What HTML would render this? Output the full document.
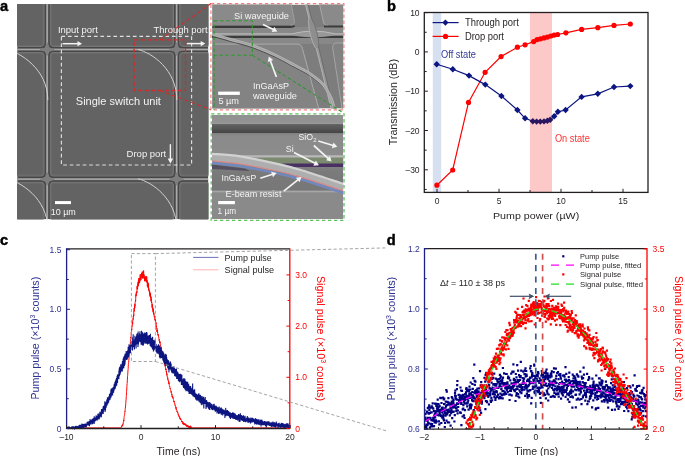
<!DOCTYPE html>
<html><head><meta charset="utf-8"><style>
html,body{margin:0;padding:0;background:#fff;}
svg{display:block;font-family:"Liberation Sans", sans-serif;will-change:transform;}
</style></head><body>
<svg width="685" height="456" viewBox="0 0 685 456">
<rect x="432.8" y="12.5" width="8.4" height="179.9" fill="#d7e0f1"/>
<rect x="529.9" y="12.5" width="22.1" height="179.9" fill="#fdc8c8"/>
<line x1="424.30" y1="12.60" x2="427.90" y2="12.60" stroke="#231f20" stroke-width="1" />
<text x="419.60" y="15.70" font-size="8.5" fill="#231f20" text-anchor="end" >10</text>
<line x1="424.30" y1="51.90" x2="427.90" y2="51.90" stroke="#231f20" stroke-width="1" />
<text x="419.60" y="55.00" font-size="8.5" fill="#231f20" text-anchor="end" >0</text>
<line x1="424.30" y1="91.20" x2="427.90" y2="91.20" stroke="#231f20" stroke-width="1" />
<text x="419.60" y="94.30" font-size="8.5" fill="#231f20" text-anchor="end" >–10</text>
<line x1="424.30" y1="130.50" x2="427.90" y2="130.50" stroke="#231f20" stroke-width="1" />
<text x="419.60" y="133.60" font-size="8.5" fill="#231f20" text-anchor="end" >–20</text>
<line x1="424.30" y1="169.80" x2="427.90" y2="169.80" stroke="#231f20" stroke-width="1" />
<text x="419.60" y="172.90" font-size="8.5" fill="#231f20" text-anchor="end" >–30</text>
<line x1="424.30" y1="32.25" x2="426.70" y2="32.25" stroke="#231f20" stroke-width="1" />
<line x1="424.30" y1="71.55" x2="426.70" y2="71.55" stroke="#231f20" stroke-width="1" />
<line x1="424.30" y1="110.85" x2="426.70" y2="110.85" stroke="#231f20" stroke-width="1" />
<line x1="424.30" y1="150.15" x2="426.70" y2="150.15" stroke="#231f20" stroke-width="1" />
<line x1="424.30" y1="189.45" x2="426.70" y2="189.45" stroke="#231f20" stroke-width="1" />
<line x1="437.00" y1="192.40" x2="437.00" y2="188.80" stroke="#231f20" stroke-width="1" />
<text x="437.00" y="204.00" font-size="8.5" fill="#231f20" text-anchor="middle" >0</text>
<line x1="499.00" y1="192.40" x2="499.00" y2="188.80" stroke="#231f20" stroke-width="1" />
<text x="499.00" y="204.00" font-size="8.5" fill="#231f20" text-anchor="middle" >5</text>
<line x1="561.00" y1="192.40" x2="561.00" y2="188.80" stroke="#231f20" stroke-width="1" />
<text x="561.00" y="204.00" font-size="8.5" fill="#231f20" text-anchor="middle" >10</text>
<line x1="623.00" y1="192.40" x2="623.00" y2="188.80" stroke="#231f20" stroke-width="1" />
<text x="623.00" y="204.00" font-size="8.5" fill="#231f20" text-anchor="middle" >15</text>
<line x1="468.00" y1="192.40" x2="468.00" y2="190.00" stroke="#231f20" stroke-width="1" />
<line x1="530.00" y1="192.40" x2="530.00" y2="190.00" stroke="#231f20" stroke-width="1" />
<line x1="592.00" y1="192.40" x2="592.00" y2="190.00" stroke="#231f20" stroke-width="1" />
<rect x="424.3" y="12.5" width="223.7" height="179.9" fill="none" stroke="#231f20" stroke-width="1.3"/>
<polyline points="436.90,185.20 452.70,170.00 468.50,102.40 485.10,72.30 501.10,56.60 517.40,47.20 525.10,44.80 533.70,41.60 537.10,39.60 540.50,38.80 544.00,37.90 547.40,37.10 550.80,36.00 554.20,35.10 557.60,34.50 565.90,32.80 581.60,29.40 597.80,27.70 614.00,25.40 630.30,24.00" fill="none" stroke="#ff0000" stroke-width="1.2" />
<circle cx="436.9" cy="185.2" r="2.6" fill="#ff0000"/>
<circle cx="452.7" cy="170.0" r="2.6" fill="#ff0000"/>
<circle cx="468.5" cy="102.4" r="2.6" fill="#ff0000"/>
<circle cx="485.1" cy="72.3" r="2.6" fill="#ff0000"/>
<circle cx="501.1" cy="56.6" r="2.6" fill="#ff0000"/>
<circle cx="517.4" cy="47.2" r="2.6" fill="#ff0000"/>
<circle cx="525.1" cy="44.8" r="2.6" fill="#ff0000"/>
<circle cx="533.7" cy="41.6" r="2.6" fill="#ff0000"/>
<circle cx="537.1" cy="39.6" r="2.6" fill="#ff0000"/>
<circle cx="540.5" cy="38.8" r="2.6" fill="#ff0000"/>
<circle cx="544" cy="37.9" r="2.6" fill="#ff0000"/>
<circle cx="547.4" cy="37.1" r="2.6" fill="#ff0000"/>
<circle cx="550.8" cy="36.0" r="2.6" fill="#ff0000"/>
<circle cx="554.2" cy="35.1" r="2.6" fill="#ff0000"/>
<circle cx="557.6" cy="34.5" r="2.6" fill="#ff0000"/>
<circle cx="565.9" cy="32.8" r="2.6" fill="#ff0000"/>
<circle cx="581.6" cy="29.4" r="2.6" fill="#ff0000"/>
<circle cx="597.8" cy="27.7" r="2.6" fill="#ff0000"/>
<circle cx="614" cy="25.4" r="2.6" fill="#ff0000"/>
<circle cx="630.3" cy="24.0" r="2.6" fill="#ff0000"/>
<polyline points="436.70,64.20 452.80,69.30 469.00,75.60 485.30,84.60 501.40,96.00 517.40,110.00 525.10,118.30 532.80,121.20 536.60,121.60 540.30,121.60 544.00,121.40 547.40,120.80 550.20,119.70 554.20,116.30 557.90,111.80 565.60,110.00 581.60,96.90 597.80,93.80 614.00,87.00 630.30,86.10" fill="none" stroke="#0c1580" stroke-width="1.2" />
<path d="M436.7 61.0L439.9 64.2L436.7 67.4L433.5 64.2Z" fill="#0c1580"/>
<path d="M452.8 66.1L456.0 69.3L452.8 72.5L449.6 69.3Z" fill="#0c1580"/>
<path d="M469 72.39999999999999L472.2 75.6L469 78.8L465.8 75.6Z" fill="#0c1580"/>
<path d="M485.3 81.39999999999999L488.5 84.6L485.3 87.8L482.1 84.6Z" fill="#0c1580"/>
<path d="M501.4 92.8L504.59999999999997 96L501.4 99.2L498.2 96Z" fill="#0c1580"/>
<path d="M517.4 106.8L520.6 110L517.4 113.2L514.1999999999999 110Z" fill="#0c1580"/>
<path d="M525.1 115.1L528.3000000000001 118.3L525.1 121.5L521.9 118.3Z" fill="#0c1580"/>
<path d="M532.8 118.0L536.0 121.2L532.8 124.4L529.5999999999999 121.2Z" fill="#2a1660"/>
<path d="M536.6 118.39999999999999L539.8000000000001 121.6L536.6 124.8L533.4 121.6Z" fill="#2a1660"/>
<path d="M540.3 118.39999999999999L543.5 121.6L540.3 124.8L537.0999999999999 121.6Z" fill="#2a1660"/>
<path d="M544 118.2L547.2 121.4L544 124.60000000000001L540.8 121.4Z" fill="#2a1660"/>
<path d="M547.4 117.6L550.6 120.8L547.4 124.0L544.1999999999999 120.8Z" fill="#2a1660"/>
<path d="M550.2 116.5L553.4000000000001 119.7L550.2 122.9L547.0 119.7Z" fill="#2a1660"/>
<path d="M554.2 113.1L557.4000000000001 116.3L554.2 119.5L551.0 116.3Z" fill="#0c1580"/>
<path d="M557.9 108.6L561.1 111.8L557.9 115.0L554.6999999999999 111.8Z" fill="#0c1580"/>
<path d="M565.6 106.8L568.8000000000001 110L565.6 113.2L562.4 110Z" fill="#0c1580"/>
<path d="M581.6 93.7L584.8000000000001 96.9L581.6 100.10000000000001L578.4 96.9Z" fill="#0c1580"/>
<path d="M597.8 90.6L601.0 93.8L597.8 97.0L594.5999999999999 93.8Z" fill="#0c1580"/>
<path d="M614 83.8L617.2 87L614 90.2L610.8 87Z" fill="#0c1580"/>
<path d="M630.3 82.89999999999999L633.5 86.1L630.3 89.3L627.0999999999999 86.1Z" fill="#0c1580"/>
<line x1="432.60" y1="22.60" x2="458.60" y2="22.60" stroke="#0c1580" stroke-width="1.2" />
<path d="M445.4 19.5L448.5 22.6L445.4 25.7L442.3 22.6Z" fill="#0c1580"/>
<line x1="432.60" y1="36.40" x2="458.60" y2="36.40" stroke="#ff0000" stroke-width="1.2" />
<circle cx="445.5" cy="36.4" r="2.6" fill="#ff0000"/>
<text x="464.90" y="25.50" font-size="10.0" fill="#231f20" textLength="53.9" lengthAdjust="spacingAndGlyphs" >Through port</text>
<text x="464.90" y="39.50" font-size="10.0" fill="#231f20" textLength="39.0" lengthAdjust="spacingAndGlyphs" >Drop port</text>
<text x="441.00" y="57.70" font-size="10.0" fill="#33399a" textLength="35.0" lengthAdjust="spacingAndGlyphs" >Off state</text>
<text x="554.90" y="141.90" font-size="10.0" fill="#ff3030" textLength="34.9" lengthAdjust="spacingAndGlyphs" >On state</text>
<text x="493.00" y="219.20" font-size="9.8" fill="#231f20" textLength="86.2" lengthAdjust="spacingAndGlyphs" >Pump power (µW)</text>
<text x="396.60" y="145.30" font-size="10.8" fill="#231f20" textLength="86.3" lengthAdjust="spacingAndGlyphs" transform="rotate(-90 396.60 145.30)" >Transmission (dB)</text>
<text x="387.00" y="10.50" font-size="14.6" fill="#000" font-weight="bold" stroke="#000" stroke-width="0.45">b</text>
<polyline points="66.50,427.60 66.59,427.60 66.69,427.60 66.78,427.60 66.87,427.60 66.97,427.60 67.06,427.60 67.15,427.60 67.25,427.60 67.34,427.60 67.43,427.60 67.52,427.60 67.62,427.60 67.71,427.60 67.80,427.60 67.90,427.60 67.99,427.60 68.08,427.60 68.18,427.60 68.27,427.60 68.36,427.60 68.46,427.60 68.55,427.60 68.64,427.60 68.74,427.60 68.83,427.60 68.92,427.60 69.02,427.60 69.11,427.60 69.20,427.60 69.29,427.60 69.39,427.60 69.48,427.60 69.57,427.60 69.67,427.60 69.76,427.60 69.85,427.60 69.95,427.60 70.04,427.60 70.13,427.60 70.23,427.60 70.32,427.60 70.41,427.60 70.51,427.60 70.60,427.60 70.69,427.60 70.79,427.60 70.88,427.60 70.97,427.60 71.07,427.60 71.16,427.60 71.25,427.60 71.34,427.60 71.44,427.60 71.53,427.60 71.62,427.60 71.72,427.60 71.81,427.60 71.90,427.60 72.00,427.60 72.09,427.60 72.18,427.60 72.28,427.60 72.37,427.60 72.46,427.60 72.56,427.60 72.65,427.60 72.74,427.60 72.84,427.60 72.93,427.60 73.02,427.60 73.11,427.60 73.21,427.60 73.30,427.60 73.39,427.60 73.49,427.60 73.58,427.60 73.67,427.60 73.77,427.60 73.86,427.60 73.95,427.60 74.05,427.60 74.14,427.60 74.23,427.60 74.33,427.60 74.42,427.60 74.51,427.60 74.61,427.60 74.70,427.60 74.79,427.60 74.88,427.60 74.98,427.60 75.07,427.60 75.16,427.60 75.26,427.60 75.35,427.60 75.44,427.60 75.54,427.60 75.63,427.60 75.72,427.60 75.82,427.60 75.91,427.60 76.00,427.60 76.10,427.60 76.19,427.60 76.28,427.60 76.38,427.60 76.47,427.60 76.56,427.60 76.65,427.60 76.75,427.60 76.84,427.60 76.93,427.60 77.03,427.60 77.12,427.60 77.21,427.60 77.31,427.60 77.40,427.60 77.49,427.60 77.59,427.60 77.68,427.60 77.77,427.60 77.87,427.60 77.96,427.60 78.05,427.60 78.15,427.60 78.24,427.60 78.33,427.60 78.42,427.60 78.52,427.60 78.61,427.60 78.70,427.60 78.80,427.60 78.89,427.60 78.98,427.60 79.08,427.60 79.17,427.60 79.26,427.60 79.36,427.60 79.45,427.60 79.54,427.60 79.64,427.60 79.73,427.60 79.82,427.60 79.92,427.60 80.01,427.60 80.10,427.60 80.20,427.60 80.29,427.60 80.38,427.60 80.47,427.60 80.57,427.60 80.66,427.60 80.75,427.60 80.85,427.60 80.94,427.60 81.03,427.60 81.13,427.60 81.22,427.60 81.31,427.60 81.41,427.60 81.50,427.60 81.59,427.60 81.69,427.60 81.78,427.60 81.87,427.60 81.97,427.60 82.06,427.60 82.15,427.60 82.24,427.60 82.34,427.60 82.43,427.60 82.52,427.60 82.62,427.60 82.71,427.60 82.80,427.60 82.90,427.60 82.99,427.60 83.08,427.60 83.18,427.60 83.27,427.60 83.36,427.60 83.46,427.60 83.55,427.60 83.64,427.60 83.74,427.60 83.83,427.60 83.92,427.60 84.01,427.60 84.11,427.60 84.20,427.60 84.29,427.60 84.39,427.60 84.48,427.60 84.57,427.60 84.67,427.60 84.76,427.60 84.85,427.60 84.95,427.60 85.04,427.60 85.13,427.60 85.23,427.60 85.32,427.60 85.41,427.60 85.51,427.60 85.60,427.60 85.69,427.60 85.78,427.60 85.88,427.60 85.97,427.60 86.06,427.60 86.16,427.60 86.25,427.60 86.34,427.60 86.44,427.60 86.53,427.60 86.62,427.60 86.72,427.60 86.81,427.60 86.90,427.60 87.00,427.60 87.09,427.60 87.18,427.60 87.28,427.60 87.37,427.60 87.46,427.60 87.56,427.60 87.65,427.60 87.74,427.60 87.83,427.60 87.93,427.60 88.02,427.60 88.11,427.60 88.21,427.60 88.30,427.60 88.39,427.60 88.49,427.60 88.58,427.60 88.67,427.60 88.77,427.60 88.86,427.60 88.95,427.60 89.05,427.60 89.14,427.60 89.23,427.60 89.33,427.60 89.42,427.60 89.51,427.60 89.60,427.60 89.70,427.60 89.79,427.60 89.88,427.60 89.98,427.60 90.07,427.60 90.16,427.60 90.26,427.60 90.35,427.60 90.44,427.60 90.54,427.60 90.63,427.60 90.72,427.60 90.82,427.60 90.91,427.60 91.00,427.60 91.10,427.60 91.19,427.60 91.28,427.60 91.37,427.60 91.47,427.60 91.56,427.60 91.65,427.60 91.75,427.60 91.84,427.60 91.93,427.60 92.03,427.60 92.12,427.60 92.21,427.60 92.31,427.60 92.40,427.60 92.49,427.60 92.59,427.60 92.68,427.60 92.77,427.60 92.87,427.60 92.96,427.60 93.05,427.60 93.14,427.60 93.24,427.60 93.33,427.60 93.42,427.60 93.52,427.60 93.61,427.60 93.70,427.60 93.80,427.60 93.89,427.60 93.98,427.60 94.08,427.60 94.17,427.60 94.26,427.60 94.36,427.60 94.45,427.60 94.54,427.60 94.64,427.60 94.73,427.60 94.82,427.60 94.91,427.60 95.01,427.60 95.10,427.60 95.19,427.60 95.29,427.60 95.38,427.60 95.47,427.60 95.57,427.60 95.66,427.60 95.75,427.60 95.85,427.60 95.94,427.60 96.03,427.60 96.13,427.60 96.22,427.60 96.31,427.60 96.41,427.60 96.50,427.60 96.59,427.60 96.69,427.60 96.78,427.60 96.87,427.60 96.96,427.60 97.06,427.60 97.15,427.60 97.24,427.60 97.34,427.60 97.43,427.60 97.52,427.60 97.62,427.60 97.71,427.60 97.80,427.60 97.90,427.60 97.99,427.60 98.08,427.60 98.18,427.60 98.27,427.60 98.36,427.60 98.46,427.60 98.55,427.60 98.64,427.60 98.73,427.60 98.83,427.60 98.92,427.60 99.01,427.60 99.11,427.60 99.20,427.60 99.29,427.60 99.39,427.60 99.48,427.60 99.57,427.60 99.67,427.60 99.76,427.60 99.85,427.60 99.95,427.60 100.04,427.60 100.13,427.60 100.23,427.60 100.32,427.60 100.41,427.60 100.50,427.60 100.60,427.60 100.69,427.60 100.78,427.60 100.88,427.60 100.97,427.60 101.06,427.60 101.16,427.60 101.25,427.60 101.34,427.60 101.44,427.60 101.53,427.60 101.62,427.60 101.72,427.60 101.81,427.60 101.90,427.60 102.00,427.60 102.09,427.60 102.18,427.60 102.27,427.60 102.37,427.60 102.46,427.60 102.55,427.60 102.65,427.60 102.74,427.60 102.83,427.60 102.93,427.60 103.02,427.60 103.11,427.60 103.21,427.60 103.30,427.60 103.39,427.60 103.49,427.60 103.58,427.60 103.67,427.60 103.77,427.60 103.86,427.60 103.95,427.60 104.05,427.60 104.14,427.60 104.23,427.60 104.32,427.60 104.42,427.60 104.51,427.60 104.60,427.60 104.70,427.60 104.79,427.60 104.88,427.60 104.98,427.60 105.07,427.60 105.16,427.60 105.26,427.60 105.35,427.60 105.44,427.60 105.54,427.60 105.63,427.60 105.72,427.60 105.82,427.60 105.91,427.60 106.00,427.60 106.09,427.60 106.19,427.60 106.28,427.60 106.37,427.60 106.47,427.60 106.56,427.60 106.65,427.60 106.75,427.60 106.84,427.60 106.93,427.60 107.03,427.60 107.12,427.60 107.21,427.60 107.31,427.60 107.40,427.60 107.49,427.60 107.59,427.60 107.68,427.60 107.77,427.60 107.86,427.60 107.96,427.60 108.05,427.60 108.14,427.60 108.24,427.60 108.33,427.60 108.42,427.60 108.52,427.60 108.61,427.60 108.70,427.60 108.80,427.60 108.89,427.60 108.98,427.60 109.08,427.60 109.17,427.60 109.26,427.60 109.36,427.60 109.45,427.60 109.54,427.60 109.63,427.60 109.73,427.60 109.82,427.60 109.91,427.60 110.01,427.60 110.10,427.60 110.19,427.60 110.29,427.60 110.38,427.60 110.47,427.60 110.57,427.60 110.66,427.60 110.75,427.60 110.85,427.60 110.94,427.60 111.03,427.60 111.13,427.60 111.22,427.60 111.31,427.60 111.40,427.60 111.50,427.60 111.59,427.60 111.68,427.60 111.78,427.60 111.87,427.60 111.96,427.60 112.06,427.60 112.15,427.60 112.24,427.60 112.34,427.60 112.43,427.60 112.52,427.60 112.62,427.60 112.71,427.60 112.80,427.60 112.90,427.60 112.99,427.60 113.08,427.60 113.18,427.60 113.27,427.60 113.36,427.60 113.45,427.60 113.55,427.60 113.64,427.60 113.73,427.60 113.83,427.60 113.92,427.60 114.01,427.60 114.11,427.60 114.20,427.60 114.29,427.60 114.39,427.60 114.48,427.60 114.57,427.60 114.67,427.60 114.76,427.60 114.85,427.60 114.95,427.60 115.04,427.60 115.13,427.60 115.22,427.60 115.32,427.60 115.41,427.60 115.50,427.60 115.60,427.60 115.69,427.60 115.78,427.60 115.88,427.60 115.97,427.60 116.06,427.60 116.16,427.60 116.25,427.60 116.34,427.60 116.44,427.60 116.53,427.60 116.62,427.60 116.72,427.60 116.81,427.60 116.90,427.60 116.99,427.60 117.09,427.60 117.18,427.60 117.27,427.60 117.37,427.60 117.46,427.60 117.55,427.60 117.65,427.60 117.74,427.60 117.83,427.60 117.93,427.60 118.02,427.60 118.11,427.60 118.21,427.60 118.30,427.60 118.39,427.60 118.49,427.60 118.58,427.60 118.67,427.60 118.76,427.60 118.86,427.60 118.95,427.60 119.04,427.60 119.14,427.60 119.23,427.60 119.32,427.60 119.42,427.60 119.51,427.60 119.60,427.60 119.70,427.60 119.79,427.60 119.88,427.60 119.98,427.60 120.07,427.60 120.16,427.60 120.26,427.60 120.35,427.60 120.44,427.60 120.54,427.60 120.63,427.60 120.72,427.60 120.81,427.60 120.91,427.59 121.00,427.48 121.09,427.60 121.19,427.04 121.28,426.93 121.37,426.95 121.47,426.37 121.56,427.14 121.65,426.64 121.75,426.09 121.84,426.02 121.93,425.63 122.03,425.82 122.12,426.03 122.21,425.52 122.31,426.06 122.40,426.23 122.49,424.90 122.58,425.01 122.68,424.57 122.77,425.32 122.86,424.33 122.96,424.12 123.05,423.89 123.14,424.22 123.24,422.82 123.33,421.76 123.42,421.56 123.52,421.59 123.61,420.79 123.70,419.87 123.80,421.13 123.89,419.23 123.98,418.31 124.08,417.65 124.17,416.52 124.26,416.19 124.35,415.98 124.45,415.34 124.54,414.43 124.63,414.45 124.73,413.52 124.82,412.35 124.91,411.11 125.01,411.50 125.10,410.69 125.19,409.74 125.29,408.26 125.38,408.02 125.47,406.24 125.57,406.43 125.66,404.92 125.75,403.76 125.85,402.05 125.94,400.66 126.03,400.71 126.12,399.09 126.22,397.09 126.31,396.24 126.40,395.30 126.50,392.53 126.59,391.38 126.68,389.94 126.78,389.00 126.87,386.73 126.96,385.96 127.06,383.77 127.15,383.42 127.24,381.94 127.34,379.92 127.43,379.01 127.52,376.83 127.62,375.68 127.71,375.01 127.80,373.11 127.89,372.07 127.99,370.07 128.08,369.78 128.17,368.49 128.27,366.35 128.36,364.57 128.45,363.57 128.55,363.64 128.64,362.42 128.73,360.45 128.83,360.40 128.92,359.84 129.01,358.02 129.11,356.70 129.20,356.46 129.29,355.94 129.39,354.72 129.48,352.20 129.57,352.13 129.67,350.64 129.76,349.34 129.85,348.00 129.94,347.67 130.04,346.03 130.13,346.06 130.22,344.67 130.32,344.19 130.41,341.53 130.50,341.47 130.60,341.09 130.69,339.84 130.78,338.80 130.88,337.12 130.97,338.14 131.06,336.79 131.16,335.35 131.25,331.96 131.34,332.46 131.44,332.55 131.53,330.97 131.62,328.91 131.71,330.17 131.81,329.48 131.90,327.20 131.99,327.07 132.09,326.11 132.18,326.46 132.27,323.31 132.37,322.73 132.46,323.10 132.55,322.21 132.65,324.22 132.74,320.74 132.83,320.86 132.93,319.46 133.02,318.46 133.11,318.82 133.21,319.56 133.30,316.59 133.39,317.09 133.48,315.91 133.58,315.50 133.67,314.49 133.76,316.05 133.86,311.22 133.95,311.62 134.04,309.86 134.14,308.07 134.23,309.70 134.32,311.22 134.42,309.38 134.51,309.05 134.60,307.44 134.70,305.96 134.79,307.95 134.88,304.16 134.98,305.91 135.07,302.78 135.16,302.62 135.25,302.19 135.35,301.16 135.44,301.13 135.53,300.55 135.63,301.42 135.72,298.38 135.81,294.98 135.91,294.11 136.00,294.42 136.09,294.70 136.19,296.18 136.28,292.34 136.37,294.04 136.47,293.49 136.56,293.28 136.65,292.13 136.75,292.44 136.84,291.36 136.93,292.47 137.03,290.82 137.12,285.95 137.21,289.31 137.30,289.08 137.40,287.29 137.49,286.48 137.58,289.09 137.68,287.05 137.77,284.62 137.86,285.26 137.96,285.04 138.05,282.04 138.14,285.54 138.24,283.73 138.33,284.38 138.42,280.31 138.52,286.17 138.61,283.42 138.70,282.78 138.80,280.18 138.89,279.92 138.98,278.08 139.07,283.34 139.17,278.62 139.26,280.30 139.35,280.73 139.45,278.15 139.54,280.71 139.63,282.73 139.73,279.22 139.82,281.22 139.91,279.37 140.01,277.18 140.10,277.10 140.19,274.39 140.29,277.73 140.38,280.18 140.47,278.47 140.57,278.62 140.66,279.04 140.75,275.57 140.84,277.57 140.94,280.10 141.03,274.57 141.12,276.06 141.22,274.97 141.31,275.36 141.40,274.17 141.50,275.27 141.59,272.73 141.68,274.30 141.78,274.29 141.87,274.19 141.96,277.95 142.06,275.27 142.15,275.44 142.24,274.48 142.34,277.68 142.43,271.57 142.52,274.72 142.61,277.43 142.71,278.48 142.80,275.60 142.89,275.26 142.99,276.60 143.08,275.00 143.17,276.56 143.27,274.21 143.36,276.88 143.45,275.57 143.55,273.60 143.64,270.47 143.73,277.81 143.83,276.82 143.92,277.68 144.01,274.52 144.11,278.52 144.20,277.31 144.29,276.52 144.38,278.54 144.48,278.63 144.57,277.80 144.66,281.16 144.76,279.99 144.85,278.09 144.94,277.12 145.04,277.92 145.13,281.19 145.22,278.76 145.32,276.44 145.41,277.06 145.50,278.45 145.60,280.17 145.69,277.38 145.78,279.89 145.88,281.21 145.97,280.69 146.06,276.57 146.16,279.14 146.25,277.59 146.34,280.94 146.43,278.51 146.53,281.68 146.62,281.11 146.71,276.45 146.81,279.96 146.90,282.62 146.99,282.15 147.09,281.71 147.18,280.42 147.27,283.85 147.37,286.45 147.46,284.15 147.55,283.97 147.65,284.16 147.74,282.38 147.83,284.52 147.93,284.02 148.02,287.74 148.11,284.70 148.20,282.97 148.30,285.64 148.39,286.92 148.48,287.48 148.58,285.13 148.67,290.08 148.76,289.11 148.86,288.56 148.95,288.49 149.04,290.82 149.14,290.00 149.23,291.34 149.32,291.09 149.42,291.89 149.51,293.88 149.60,292.49 149.70,291.47 149.79,294.75 149.88,294.03 149.97,293.04 150.07,296.13 150.16,294.64 150.25,296.96 150.35,294.09 150.44,292.79 150.53,293.70 150.63,297.48 150.72,296.54 150.81,297.91 150.91,298.41 151.00,296.82 151.09,301.39 151.19,298.51 151.28,300.55 151.37,299.02 151.47,301.21 151.56,302.88 151.65,302.08 151.74,301.96 151.84,303.40 151.93,303.30 152.02,305.14 152.12,307.75 152.21,304.28 152.30,305.04 152.40,306.26 152.49,306.86 152.58,306.13 152.68,308.51 152.77,309.31 152.86,309.15 152.96,307.95 153.05,311.59 153.14,308.93 153.24,311.62 153.33,312.65 153.42,310.31 153.52,312.39 153.61,314.26 153.70,313.62 153.79,312.59 153.89,312.77 153.98,315.08 154.07,314.61 154.17,314.73 154.26,316.72 154.35,316.07 154.45,316.96 154.54,317.98 154.63,318.39 154.73,318.25 154.82,318.76 154.91,319.86 155.01,320.17 155.10,319.01 155.19,320.42 155.29,320.19 155.38,320.33 155.47,321.43 155.56,320.19 155.66,323.79 155.75,322.61 155.84,324.20 155.94,322.50 156.03,323.12 156.12,327.17 156.22,326.65 156.31,325.52 156.40,325.86 156.50,326.37 156.59,327.60 156.68,327.55 156.78,327.82 156.87,328.96 156.96,328.38 157.06,331.86 157.15,329.65 157.24,331.61 157.33,330.25 157.43,331.76 157.52,332.79 157.61,332.11 157.71,333.68 157.80,334.12 157.89,335.12 157.99,334.21 158.08,334.19 158.17,334.18 158.27,335.61 158.36,335.03 158.45,336.33 158.55,336.86 158.64,336.73 158.73,336.75 158.83,338.34 158.92,338.69 159.01,339.04 159.10,339.27 159.20,340.49 159.29,339.35 159.38,340.92 159.48,340.66 159.57,342.10 159.66,341.58 159.76,341.98 159.85,343.04 159.94,341.56 160.04,343.26 160.13,342.60 160.22,343.65 160.32,345.31 160.41,345.51 160.50,345.31 160.60,346.01 160.69,346.43 160.78,347.09 160.87,348.63 160.97,347.87 161.06,349.74 161.15,348.26 161.25,349.47 161.34,349.87 161.43,349.92 161.53,349.97 161.62,351.59 161.71,352.22 161.81,352.14 161.90,353.23 161.99,352.88 162.09,351.50 162.18,353.75 162.27,352.97 162.37,354.77 162.46,354.02 162.55,354.85 162.65,355.08 162.74,355.05 162.83,354.66 162.92,356.12 163.02,356.57 163.11,357.71 163.20,357.08 163.30,358.03 163.39,357.73 163.48,358.71 163.58,357.95 163.67,360.78 163.76,360.09 163.86,359.74 163.95,360.94 164.04,361.63 164.14,361.70 164.23,362.82 164.32,362.28 164.42,361.22 164.51,362.46 164.60,364.29 164.69,364.55 164.79,364.67 164.88,364.21 164.97,365.77 165.07,366.11 165.16,365.56 165.25,366.00 165.35,367.19 165.44,368.07 165.53,368.76 165.63,368.68 165.72,370.03 165.81,368.67 165.91,369.94 166.00,369.71 166.09,369.32 166.19,370.18 166.28,371.99 166.37,371.24 166.46,371.51 166.56,373.07 166.65,373.63 166.74,373.58 166.84,374.88 166.93,373.54 167.02,376.22 167.12,375.90 167.21,375.86 167.30,376.27 167.40,376.48 167.49,376.85 167.58,377.56 167.68,377.22 167.77,379.51 167.86,378.72 167.96,379.55 168.05,379.50 168.14,379.87 168.23,380.92 168.33,381.18 168.42,380.80 168.51,381.46 168.61,382.43 168.70,381.33 168.79,381.59 168.89,384.07 168.98,383.49 169.07,382.67 169.17,384.01 169.26,384.70 169.35,385.32 169.45,385.87 169.54,386.07 169.63,386.62 169.73,386.28 169.82,387.26 169.91,387.64 170.01,388.41 170.10,388.14 170.19,388.95 170.28,388.92 170.38,388.61 170.47,389.32 170.56,389.59 170.66,390.02 170.75,390.52 170.84,390.96 170.94,391.39 171.03,391.16 171.12,392.48 171.22,391.52 171.31,392.55 171.40,393.30 171.50,393.49 171.59,393.91 171.68,393.79 171.78,394.58 171.87,393.92 171.96,395.26 172.05,396.36 172.15,395.87 172.24,396.86 172.33,396.14 172.43,395.87 172.52,396.40 172.61,397.75 172.71,397.76 172.80,396.74 172.89,397.81 172.99,398.28 173.08,398.04 173.17,397.61 173.27,398.52 173.36,399.42 173.45,399.61 173.55,399.77 173.64,400.71 173.73,401.24 173.82,400.96 173.92,401.77 174.01,401.61 174.10,401.82 174.20,400.94 174.29,402.89 174.38,402.81 174.48,403.12 174.57,403.09 174.66,403.07 174.76,404.15 174.85,404.61 174.94,405.33 175.04,405.25 175.13,404.79 175.22,405.33 175.32,406.18 175.41,406.14 175.50,406.22 175.59,406.27 175.69,407.13 175.78,407.25 175.87,408.35 175.97,408.30 176.06,407.16 176.15,409.41 176.25,408.75 176.34,408.75 176.43,409.35 176.53,409.86 176.62,409.76 176.71,410.01 176.81,410.33 176.90,411.54 176.99,410.93 177.09,411.57 177.18,411.68 177.27,411.56 177.36,411.61 177.46,411.75 177.55,412.73 177.64,412.26 177.74,412.39 177.83,412.67 177.92,412.79 178.02,413.83 178.11,414.09 178.20,413.82 178.30,415.19 178.39,414.61 178.48,415.23 178.58,415.37 178.67,416.30 178.76,416.08 178.86,415.85 178.95,415.60 179.04,415.75 179.14,416.50 179.23,416.75 179.32,417.28 179.41,416.83 179.51,417.35 179.60,417.09 179.69,416.68 179.79,417.77 179.88,418.70 179.97,418.55 180.07,419.03 180.16,419.07 180.25,417.96 180.35,418.69 180.44,419.75 180.53,418.81 180.63,418.67 180.72,419.66 180.81,419.99 180.91,419.98 181.00,419.83 181.09,419.81 181.18,419.69 181.28,419.84 181.37,420.01 181.46,420.07 181.56,420.58 181.65,421.86 181.74,421.29 181.84,421.21 181.93,421.71 182.02,421.19 182.12,421.99 182.21,422.41 182.30,421.34 182.40,421.87 182.49,422.23 182.58,422.00 182.68,422.05 182.77,422.55 182.86,424.10 182.95,423.31 183.05,423.31 183.14,423.69 183.23,423.19 183.33,422.79 183.42,423.75 183.51,424.19 183.61,422.66 183.70,424.03 183.79,424.52 183.89,423.85 183.98,423.84 184.07,424.49 184.17,423.80 184.26,424.53 184.35,424.82 184.45,424.32 184.54,424.08 184.63,424.86 184.72,424.43 184.82,424.70 184.91,423.27 185.00,425.14 185.10,424.13 185.19,424.92 185.28,425.01 185.38,424.64 185.47,424.60 185.56,424.47 185.66,425.00 185.75,425.53 185.84,425.55 185.94,425.07 186.03,425.08 186.12,424.72 186.22,425.27 186.31,424.99 186.40,424.81 186.49,425.55 186.59,426.44 186.68,426.33 186.77,426.51 186.87,425.01 186.96,426.30 187.05,425.28 187.15,425.66 187.24,425.12 187.33,425.53 187.43,426.14 187.52,426.23 187.61,426.13 187.71,426.12 187.80,426.53 187.89,426.31 187.99,425.51 188.08,427.24 188.17,426.28 188.27,426.91 188.36,426.39 188.45,426.09 188.54,426.59 188.64,426.20 188.73,427.44 188.82,426.10 188.92,427.00 189.01,426.41 189.10,426.67 189.20,427.60 189.29,427.21 189.38,426.74 189.48,426.09 189.57,426.77 189.66,426.81 189.76,427.60 189.85,426.27 189.94,426.10 190.04,427.04 190.13,427.20 190.22,427.60 190.31,426.68 190.41,425.78 190.50,426.82 190.59,426.56 190.69,426.95 190.78,427.60 190.87,426.59 190.97,427.60 191.06,427.43 191.15,427.20 191.25,426.91 191.34,427.17 191.43,427.20 191.53,427.60 191.62,427.60 191.71,427.43 191.81,427.60 191.90,427.49 191.99,427.51 192.08,427.53 192.18,427.54 192.27,427.56 192.36,427.58 192.46,427.59 192.55,427.60 192.64,427.60 192.74,427.60 192.83,427.60 192.92,427.60 193.02,427.60 193.11,427.60 193.20,427.60 193.30,427.60 193.39,427.60 193.48,427.60 193.58,427.60 193.67,427.60 193.76,427.60 193.85,427.60 193.95,427.60 194.04,427.60 194.13,427.60 194.23,427.60 194.32,427.60 194.41,427.60 194.51,427.60 194.60,427.60 194.69,427.60 194.79,427.60 194.88,427.60 194.97,427.60 195.07,427.60 195.16,427.60 195.25,427.60 195.35,427.60 195.44,427.60 195.53,427.60 195.63,427.60 195.72,427.60 195.81,427.60 195.90,427.60 196.00,427.60 196.09,427.60 196.18,427.60 196.28,427.60 196.37,427.60 196.46,427.60 196.56,427.60 196.65,427.60 196.74,427.60 196.84,427.60 196.93,427.60 197.02,427.60 197.12,427.60 197.21,427.60 197.30,427.60 197.40,427.60 197.49,427.60 197.58,427.60 197.67,427.60 197.77,427.60 197.86,427.60 197.95,427.60 198.05,427.60 198.14,427.60 198.23,427.60 198.33,427.60 198.42,427.60 198.51,427.60 198.61,427.60 198.70,427.60 198.79,427.60 198.89,427.60 198.98,427.60 199.07,427.60 199.17,427.60 199.26,427.60 199.35,427.60 199.44,427.60 199.54,427.60 199.63,427.60 199.72,427.60 199.82,427.60 199.91,427.60 200.00,427.60 200.10,427.60 200.19,427.60 200.28,427.60 200.38,427.60 200.47,427.60 200.56,427.60 200.66,427.60 200.75,427.60 200.84,427.60 200.94,427.60 201.03,427.60 201.12,427.60 201.21,427.60 201.31,427.60 201.40,427.60 201.49,427.60 201.59,427.60 201.68,427.60 201.77,427.60 201.87,427.60 201.96,427.60 202.05,427.60 202.15,427.60 202.24,427.60 202.33,427.60 202.43,427.60 202.52,427.60 202.61,427.60 202.71,427.60 202.80,427.60 202.89,427.60 202.98,427.60 203.08,427.60 203.17,427.60 203.26,427.60 203.36,427.60 203.45,427.60 203.54,427.60 203.64,427.60 203.73,427.60 203.82,427.60 203.92,427.60 204.01,427.60 204.10,427.60 204.20,427.60 204.29,427.60 204.38,427.60 204.48,427.60 204.57,427.60 204.66,427.60 204.76,427.60 204.85,427.60 204.94,427.60 205.03,427.60 205.13,427.60 205.22,427.60 205.31,427.60 205.41,427.60 205.50,427.60 205.59,427.60 205.69,427.60 205.78,427.60 205.87,427.60 205.97,427.60 206.06,427.60 206.15,427.60 206.25,427.60 206.34,427.60 206.43,427.60 206.53,427.60 206.62,427.60 206.71,427.60 206.80,427.60 206.90,427.60 206.99,427.60 207.08,427.60 207.18,427.60 207.27,427.60 207.36,427.60 207.46,427.60 207.55,427.60 207.64,427.60 207.74,427.60 207.83,427.60 207.92,427.60 208.02,427.60 208.11,427.60 208.20,427.60 208.30,427.60 208.39,427.60 208.48,427.60 208.57,427.60 208.67,427.60 208.76,427.60 208.85,427.60 208.95,427.60 209.04,427.60 209.13,427.60 209.23,427.60 209.32,427.60 209.41,427.60 209.51,427.60 209.60,427.60 209.69,427.60 209.79,427.60 209.88,427.60 209.97,427.60 210.07,427.60 210.16,427.60 210.25,427.60 210.34,427.60 210.44,427.60 210.53,427.60 210.62,427.60 210.72,427.60 210.81,427.60 210.90,427.60 211.00,427.60 211.09,427.60 211.18,427.60 211.28,427.60 211.37,427.60 211.46,427.60 211.56,427.60 211.65,427.60 211.74,427.60 211.84,427.60 211.93,427.60 212.02,427.60 212.12,427.60 212.21,427.60 212.30,427.60 212.39,427.60 212.49,427.60 212.58,427.60 212.67,427.60 212.77,427.60 212.86,427.60 212.95,427.60 213.05,427.60 213.14,427.60 213.23,427.60 213.33,427.60 213.42,427.60 213.51,427.60 213.61,427.60 213.70,427.60 213.79,427.60 213.89,427.60 213.98,427.60 214.07,427.60 214.16,427.60 214.26,427.60 214.35,427.60 214.44,427.60 214.54,427.60 214.63,427.60 214.72,427.60 214.82,427.60 214.91,427.60 215.00,427.60 215.10,427.60 215.19,427.60 215.28,427.60 215.38,427.60 215.47,427.60 215.56,427.60 215.66,427.60 215.75,427.60 215.84,427.60 215.93,427.60 216.03,427.60 216.12,427.60 216.21,427.60 216.31,427.60 216.40,427.60 216.49,427.60 216.59,427.60 216.68,427.60 216.77,427.60 216.87,427.60 216.96,427.60 217.05,427.60 217.15,427.60 217.24,427.60 217.33,427.60 217.43,427.60 217.52,427.60 217.61,427.60 217.70,427.60 217.80,427.60 217.89,427.60 217.98,427.60 218.08,427.60 218.17,427.60 218.26,427.60 218.36,427.60 218.45,427.60 218.54,427.60 218.64,427.60 218.73,427.60 218.82,427.60 218.92,427.60 219.01,427.60 219.10,427.60 219.20,427.60 219.29,427.60 219.38,427.60 219.47,427.60 219.57,427.60 219.66,427.60 219.75,427.60 219.85,427.60 219.94,427.60 220.03,427.60 220.13,427.60 220.22,427.60 220.31,427.60 220.41,427.60 220.50,427.60 220.59,427.60 220.69,427.60 220.78,427.60 220.87,427.60 220.97,427.60 221.06,427.60 221.15,427.60 221.25,427.60 221.34,427.60 221.43,427.60 221.52,427.60 221.62,427.60 221.71,427.60 221.80,427.60 221.90,427.60 221.99,427.60 222.08,427.60 222.18,427.60 222.27,427.60 222.36,427.60 222.46,427.60 222.55,427.60 222.64,427.60 222.74,427.60 222.83,427.60 222.92,427.60 223.02,427.60 223.11,427.60 223.20,427.60 223.29,427.60 223.39,427.60 223.48,427.60 223.57,427.60 223.67,427.60 223.76,427.60 223.85,427.60 223.95,427.60 224.04,427.60 224.13,427.60 224.23,427.60 224.32,427.60 224.41,427.60 224.51,427.60 224.60,427.60 224.69,427.60 224.79,427.60 224.88,427.60 224.97,427.60 225.06,427.60 225.16,427.60 225.25,427.60 225.34,427.60 225.44,427.60 225.53,427.60 225.62,427.60 225.72,427.60 225.81,427.60 225.90,427.60 226.00,427.60 226.09,427.60 226.18,427.60 226.28,427.60 226.37,427.60 226.46,427.60 226.56,427.60 226.65,427.60 226.74,427.60 226.83,427.60 226.93,427.60 227.02,427.60 227.11,427.60 227.21,427.60 227.30,427.60 227.39,427.60 227.49,427.60 227.58,427.60 227.67,427.60 227.77,427.60 227.86,427.60 227.95,427.60 228.05,427.60 228.14,427.60 228.23,427.60 228.33,427.60 228.42,427.60 228.51,427.60 228.61,427.60 228.70,427.60 228.79,427.60 228.88,427.60 228.98,427.60 229.07,427.60 229.16,427.60 229.26,427.60 229.35,427.60 229.44,427.60 229.54,427.60 229.63,427.60 229.72,427.60 229.82,427.60 229.91,427.60 230.00,427.60 230.10,427.60 230.19,427.60 230.28,427.60 230.38,427.60 230.47,427.60 230.56,427.60 230.65,427.60 230.75,427.60 230.84,427.60 230.93,427.60 231.03,427.60 231.12,427.60 231.21,427.60 231.31,427.60 231.40,427.60 231.49,427.60 231.59,427.60 231.68,427.60 231.77,427.60 231.87,427.60 231.96,427.60 232.05,427.60 232.15,427.60 232.24,427.60 232.33,427.60 232.42,427.60 232.52,427.60 232.61,427.60 232.70,427.60 232.80,427.60 232.89,427.60 232.98,427.60 233.08,427.60 233.17,427.60 233.26,427.60 233.36,427.60 233.45,427.60 233.54,427.60 233.64,427.60 233.73,427.60 233.82,427.60 233.92,427.60 234.01,427.60 234.10,427.60 234.19,427.60 234.29,427.60 234.38,427.60 234.47,427.60 234.57,427.60 234.66,427.60 234.75,427.60 234.85,427.60 234.94,427.60 235.03,427.60 235.13,427.60 235.22,427.60 235.31,427.60 235.41,427.60 235.50,427.60 235.59,427.60 235.69,427.60 235.78,427.60 235.87,427.60 235.96,427.60 236.06,427.60 236.15,427.60 236.24,427.60 236.34,427.60 236.43,427.60 236.52,427.60 236.62,427.60 236.71,427.60 236.80,427.60 236.90,427.60 236.99,427.60 237.08,427.60 237.18,427.60 237.27,427.60 237.36,427.60 237.46,427.60 237.55,427.60 237.64,427.60 237.74,427.60 237.83,427.60 237.92,427.60 238.01,427.60 238.11,427.60 238.20,427.60 238.29,427.60 238.39,427.60 238.48,427.60 238.57,427.60 238.67,427.60 238.76,427.60 238.85,427.60 238.95,427.60 239.04,427.60 239.13,427.60 239.23,427.60 239.32,427.60 239.41,427.60 239.51,427.60 239.60,427.60 239.69,427.60 239.78,427.60 239.88,427.60 239.97,427.60 240.06,427.60 240.16,427.60 240.25,427.60 240.34,427.60 240.44,427.60 240.53,427.60 240.62,427.60 240.72,427.60 240.81,427.60 240.90,427.60 241.00,427.60 241.09,427.60 241.18,427.60 241.28,427.60 241.37,427.60 241.46,427.60 241.55,427.60 241.65,427.60 241.74,427.60 241.83,427.60 241.93,427.60 242.02,427.60 242.11,427.60 242.21,427.60 242.30,427.60 242.39,427.60 242.49,427.60 242.58,427.60 242.67,427.60 242.77,427.60 242.86,427.60 242.95,427.60 243.05,427.60 243.14,427.60 243.23,427.60 243.32,427.60 243.42,427.60 243.51,427.60 243.60,427.60 243.70,427.60 243.79,427.60 243.88,427.60 243.98,427.60 244.07,427.60 244.16,427.60 244.26,427.60 244.35,427.60 244.44,427.60 244.54,427.60 244.63,427.60 244.72,427.60 244.82,427.60 244.91,427.60 245.00,427.60 245.10,427.60 245.19,427.60 245.28,427.60 245.37,427.60 245.47,427.60 245.56,427.60 245.65,427.60 245.75,427.60 245.84,427.60 245.93,427.60 246.03,427.60 246.12,427.60 246.21,427.60 246.31,427.60 246.40,427.60 246.49,427.60 246.59,427.60 246.68,427.60 246.77,427.60 246.87,427.60 246.96,427.60 247.05,427.60 247.14,427.60 247.24,427.60 247.33,427.60 247.42,427.60 247.52,427.60 247.61,427.60 247.70,427.60 247.80,427.60 247.89,427.60 247.98,427.60 248.08,427.60 248.17,427.60 248.26,427.60 248.36,427.60 248.45,427.60 248.54,427.60 248.64,427.60 248.73,427.60 248.82,427.60 248.91,427.60 249.01,427.60 249.10,427.60 249.19,427.60 249.29,427.60 249.38,427.60 249.47,427.60 249.57,427.60 249.66,427.60 249.75,427.60 249.85,427.60 249.94,427.60 250.03,427.60 250.13,427.60 250.22,427.60 250.31,427.60 250.41,427.60 250.50,427.60 250.59,427.60 250.68,427.60 250.78,427.60 250.87,427.60 250.96,427.60 251.06,427.60 251.15,427.60 251.24,427.60 251.34,427.60 251.43,427.60 251.52,427.60 251.62,427.60 251.71,427.60 251.80,427.60 251.90,427.60 251.99,427.60 252.08,427.60 252.18,427.60 252.27,427.60 252.36,427.60 252.45,427.60 252.55,427.60 252.64,427.60 252.73,427.60 252.83,427.60 252.92,427.60 253.01,427.60 253.11,427.60 253.20,427.60 253.29,427.60 253.39,427.60 253.48,427.60 253.57,427.60 253.67,427.60 253.76,427.60 253.85,427.60 253.95,427.60 254.04,427.60 254.13,427.60 254.23,427.60 254.32,427.60 254.41,427.60 254.50,427.60 254.60,427.60 254.69,427.60 254.78,427.60 254.88,427.60 254.97,427.60 255.06,427.60 255.16,427.60 255.25,427.60 255.34,427.60 255.44,427.60 255.53,427.60 255.62,427.60 255.72,427.60 255.81,427.60 255.90,427.60 256.00,427.60 256.09,427.60 256.18,427.60 256.27,427.60 256.37,427.60 256.46,427.60 256.55,427.60 256.65,427.60 256.74,427.60 256.83,427.60 256.93,427.60 257.02,427.60 257.11,427.60 257.21,427.60 257.30,427.60 257.39,427.60 257.49,427.60 257.58,427.60 257.67,427.60 257.77,427.60 257.86,427.60 257.95,427.60 258.04,427.60 258.14,427.60 258.23,427.60 258.32,427.60 258.42,427.60 258.51,427.60 258.60,427.60 258.70,427.60 258.79,427.60 258.88,427.60 258.98,427.60 259.07,427.60 259.16,427.60 259.26,427.60 259.35,427.60 259.44,427.60 259.54,427.60 259.63,427.60 259.72,427.60 259.81,427.60 259.91,427.60 260.00,427.60 260.09,427.60 260.19,427.60 260.28,427.60 260.37,427.60 260.47,427.60 260.56,427.60 260.65,427.60 260.75,427.60 260.84,427.60 260.93,427.60 261.03,427.60 261.12,427.60 261.21,427.60 261.31,427.60 261.40,427.60 261.49,427.60 261.59,427.60 261.68,427.60 261.77,427.60 261.86,427.60 261.96,427.60 262.05,427.60 262.14,427.60 262.24,427.60 262.33,427.60 262.42,427.60 262.52,427.60 262.61,427.60 262.70,427.60 262.80,427.60 262.89,427.60 262.98,427.60 263.08,427.60 263.17,427.60 263.26,427.60 263.36,427.60 263.45,427.60 263.54,427.60 263.63,427.60 263.73,427.60 263.82,427.60 263.91,427.60 264.01,427.60 264.10,427.60 264.19,427.60 264.29,427.60 264.38,427.60 264.47,427.60 264.57,427.60 264.66,427.60 264.75,427.60 264.85,427.60 264.94,427.60 265.03,427.60 265.13,427.60 265.22,427.60 265.31,427.60 265.40,427.60 265.50,427.60 265.59,427.60 265.68,427.60 265.78,427.60 265.87,427.60 265.96,427.60 266.06,427.60 266.15,427.60 266.24,427.60 266.34,427.60 266.43,427.60 266.52,427.60 266.62,427.60 266.71,427.60 266.80,427.60 266.90,427.60 266.99,427.60 267.08,427.60 267.17,427.60 267.27,427.60 267.36,427.60 267.45,427.60 267.55,427.60 267.64,427.60 267.73,427.60 267.83,427.60 267.92,427.60 268.01,427.60 268.11,427.60 268.20,427.60 268.29,427.60 268.39,427.60 268.48,427.60 268.57,427.60 268.67,427.60 268.76,427.60 268.85,427.60 268.94,427.60 269.04,427.60 269.13,427.60 269.22,427.60 269.32,427.60 269.41,427.60 269.50,427.60 269.60,427.60 269.69,427.60 269.78,427.60 269.88,427.60 269.97,427.60 270.06,427.60 270.16,427.60 270.25,427.60 270.34,427.60 270.44,427.60 270.53,427.60 270.62,427.60 270.72,427.60 270.81,427.60 270.90,427.60 270.99,427.60 271.09,427.60 271.18,427.60 271.27,427.60 271.37,427.60 271.46,427.60 271.55,427.60 271.65,427.60 271.74,427.60 271.83,427.60 271.93,427.60 272.02,427.60 272.11,427.60 272.21,427.60 272.30,427.60 272.39,427.60 272.49,427.60 272.58,427.60 272.67,427.60 272.76,427.60 272.86,427.60 272.95,427.60 273.04,427.60 273.14,427.60 273.23,427.60 273.32,427.60 273.42,427.60 273.51,427.60 273.60,427.60 273.70,427.60 273.79,427.60 273.88,427.60 273.98,427.60 274.07,427.60 274.16,427.60 274.26,427.60 274.35,427.60 274.44,427.60 274.53,427.60 274.63,427.60 274.72,427.60 274.81,427.60 274.91,427.60 275.00,427.60 275.09,427.60 275.19,427.60 275.28,427.60 275.37,427.60 275.47,427.60 275.56,427.60 275.65,427.60 275.75,427.60 275.84,427.60 275.93,427.60 276.03,427.60 276.12,427.60 276.21,427.60 276.30,427.60 276.40,427.60 276.49,427.60 276.58,427.60 276.68,427.60 276.77,427.60 276.86,427.60 276.96,427.60 277.05,427.60 277.14,427.60 277.24,427.60 277.33,427.60 277.42,427.60 277.52,427.60 277.61,427.60 277.70,427.60 277.80,427.60 277.89,427.60 277.98,427.60 278.08,427.60 278.17,427.60 278.26,427.60 278.35,427.60 278.45,427.60 278.54,427.60 278.63,427.60 278.73,427.60 278.82,427.60 278.91,427.60 279.01,427.60 279.10,427.60 279.19,427.60 279.29,427.60 279.38,427.60 279.47,427.60 279.57,427.60 279.66,427.60 279.75,427.60 279.85,427.60 279.94,427.60 280.03,427.60 280.12,427.60 280.22,427.60 280.31,427.60 280.40,427.60 280.50,427.60 280.59,427.60 280.68,427.60 280.78,427.60 280.87,427.60 280.96,427.60 281.06,427.60 281.15,427.60 281.24,427.60 281.34,427.60 281.43,427.60 281.52,427.60 281.62,427.60 281.71,427.60 281.80,427.60 281.89,427.60 281.99,427.60 282.08,427.60 282.17,427.60 282.27,427.60 282.36,427.60 282.45,427.60 282.55,427.60 282.64,427.60 282.73,427.60 282.83,427.60 282.92,427.60 283.01,427.60 283.11,427.60 283.20,427.60 283.29,427.60 283.39,427.60 283.48,427.60 283.57,427.60 283.66,427.60 283.76,427.60 283.85,427.60 283.94,427.60 284.04,427.60 284.13,427.60 284.22,427.60 284.32,427.60 284.41,427.60 284.50,427.60 284.60,427.60 284.69,427.60 284.78,427.60 284.88,427.60 284.97,427.60 285.06,427.60 285.16,427.60 285.25,427.60 285.34,427.60 285.43,427.60 285.53,427.60 285.62,427.60 285.71,427.60 285.81,427.60 285.90,427.60 285.99,427.60 286.09,427.60 286.18,427.60 286.27,427.60 286.37,427.60 286.46,427.60 286.55,427.60 286.65,427.60 286.74,427.60 286.83,427.60 286.93,427.60 287.02,427.60 287.11,427.60 287.21,427.60 287.30,427.60 287.39,427.60 287.48,427.60 287.58,427.60 287.67,427.60 287.76,427.60 287.86,427.60 287.95,427.60 288.04,427.60 288.14,427.60 288.23,427.60 288.32,427.60 288.42,427.60 288.51,427.60 288.60,427.60 288.70,427.60 288.79,427.60 288.88,427.60 288.98,427.60 289.07,427.60 289.16,427.60 289.25,427.60 289.35,427.60 289.44,427.60 289.53,427.60 289.63,427.60 289.72,427.60 289.81,427.60 289.91,427.60 290.00,427.60" fill="none" stroke="#ff0000" stroke-width="1.0" />
<polyline points="66.50,428.00 66.56,427.97 66.61,428.00 66.67,428.00 66.72,428.00 66.78,428.00 66.84,428.00 66.89,428.00 66.95,428.00 67.00,428.00 67.06,428.00 67.11,428.00 67.17,428.00 67.23,428.00 67.28,428.00 67.34,428.00 67.39,428.00 67.45,426.66 67.51,428.00 67.56,428.00 67.62,428.00 67.67,428.00 67.73,428.00 67.79,428.00 67.84,427.45 67.90,428.00 67.95,428.00 68.01,428.00 68.06,428.00 68.12,428.00 68.18,428.00 68.23,428.00 68.29,428.00 68.34,427.88 68.40,426.98 68.46,427.93 68.51,428.00 68.57,427.56 68.62,427.68 68.68,427.19 68.74,427.63 68.79,428.00 68.85,428.00 68.90,428.00 68.96,428.00 69.02,428.00 69.07,428.00 69.13,428.00 69.18,428.00 69.24,428.00 69.29,428.00 69.35,428.00 69.41,428.00 69.46,427.89 69.52,427.75 69.57,428.00 69.63,427.11 69.69,426.95 69.74,428.00 69.80,427.60 69.85,428.00 69.91,428.00 69.97,427.66 70.02,428.00 70.08,428.00 70.13,428.00 70.19,428.00 70.24,428.00 70.30,428.00 70.36,428.00 70.41,427.92 70.47,428.00 70.52,428.00 70.58,428.00 70.64,428.00 70.69,428.00 70.75,428.00 70.80,428.00 70.86,427.60 70.92,428.00 70.97,428.00 71.03,428.00 71.08,427.77 71.14,428.00 71.19,427.42 71.25,427.95 71.31,428.00 71.36,428.00 71.42,427.89 71.47,427.48 71.53,427.54 71.59,428.00 71.64,427.58 71.70,428.00 71.75,427.27 71.81,428.00 71.87,428.00 71.92,427.18 71.98,428.00 72.03,428.00 72.09,428.00 72.14,428.00 72.20,426.52 72.26,427.85 72.31,428.00 72.37,427.80 72.42,428.00 72.48,426.65 72.54,428.00 72.59,428.00 72.65,428.00 72.70,428.00 72.76,428.00 72.82,428.00 72.87,427.86 72.93,426.81 72.98,428.00 73.04,427.22 73.09,428.00 73.15,426.21 73.21,427.83 73.26,428.00 73.32,427.25 73.37,427.74 73.43,428.00 73.49,427.57 73.54,428.00 73.60,428.00 73.65,426.43 73.71,428.00 73.77,428.00 73.82,427.86 73.88,428.00 73.93,428.00 73.99,428.00 74.05,428.00 74.10,428.00 74.16,427.16 74.21,428.00 74.27,427.69 74.32,427.59 74.38,428.00 74.44,427.91 74.49,428.00 74.55,427.17 74.60,427.69 74.66,428.00 74.72,428.00 74.77,427.97 74.83,428.00 74.88,427.45 74.94,428.00 75.00,428.00 75.05,427.24 75.11,427.41 75.16,428.00 75.22,427.01 75.27,428.00 75.33,428.00 75.39,427.91 75.44,428.00 75.50,428.00 75.55,428.00 75.61,426.63 75.67,426.65 75.72,428.00 75.78,426.54 75.83,428.00 75.89,427.62 75.95,427.16 76.00,427.68 76.06,425.78 76.11,427.71 76.17,428.00 76.22,426.75 76.28,428.00 76.34,428.00 76.39,428.00 76.45,426.99 76.50,427.14 76.56,427.15 76.62,426.98 76.67,426.33 76.73,427.90 76.78,426.99 76.84,428.00 76.90,428.00 76.95,426.86 77.01,427.46 77.06,428.00 77.12,427.47 77.17,427.96 77.23,428.00 77.29,427.38 77.34,428.00 77.40,428.00 77.45,428.00 77.51,426.11 77.57,428.00 77.62,427.52 77.68,427.15 77.73,427.11 77.79,428.00 77.85,427.99 77.90,427.55 77.96,426.92 78.01,428.00 78.07,428.00 78.12,426.70 78.18,426.60 78.24,427.28 78.29,428.00 78.35,427.22 78.40,427.49 78.46,426.80 78.52,428.00 78.57,427.46 78.63,427.71 78.68,428.00 78.74,427.33 78.80,427.49 78.85,427.91 78.91,427.13 78.96,428.00 79.02,427.54 79.08,427.06 79.13,427.19 79.19,426.42 79.24,428.00 79.30,428.00 79.35,427.19 79.41,426.97 79.47,425.35 79.52,426.79 79.58,428.00 79.63,426.59 79.69,428.00 79.75,428.00 79.80,424.79 79.86,427.01 79.91,426.61 79.97,426.75 80.03,425.52 80.08,427.00 80.14,426.07 80.19,428.00 80.25,428.00 80.30,425.83 80.36,425.76 80.42,426.70 80.47,426.97 80.53,427.02 80.58,427.85 80.64,425.63 80.70,426.49 80.75,426.63 80.81,426.74 80.86,426.06 80.92,426.59 80.98,426.33 81.03,428.00 81.09,426.54 81.14,424.83 81.20,427.54 81.25,427.13 81.31,426.09 81.37,426.00 81.42,426.32 81.48,428.00 81.53,426.41 81.59,428.00 81.65,427.73 81.70,426.31 81.76,427.15 81.81,426.00 81.87,423.58 81.93,426.00 81.98,426.03 82.04,427.68 82.09,427.41 82.15,427.82 82.20,427.25 82.26,427.82 82.32,427.35 82.37,426.86 82.43,427.67 82.48,428.00 82.54,428.00 82.60,426.08 82.65,426.48 82.71,425.44 82.76,425.39 82.82,426.83 82.88,425.74 82.93,427.96 82.99,423.98 83.04,425.11 83.10,426.59 83.15,427.58 83.21,425.91 83.27,428.00 83.32,427.10 83.38,425.44 83.43,426.14 83.49,426.73 83.55,425.14 83.60,427.27 83.66,425.81 83.71,426.64 83.77,426.99 83.83,425.54 83.88,427.11 83.94,423.91 83.99,426.61 84.05,423.76 84.11,427.12 84.16,425.22 84.22,427.19 84.27,427.32 84.33,425.63 84.38,425.03 84.44,427.18 84.50,424.41 84.55,426.59 84.61,425.53 84.66,425.22 84.72,424.95 84.78,427.61 84.83,423.74 84.89,424.90 84.94,425.99 85.00,426.64 85.06,427.37 85.11,426.97 85.17,424.77 85.22,425.75 85.28,426.63 85.33,425.91 85.39,423.48 85.45,425.63 85.50,425.89 85.56,423.63 85.61,424.62 85.67,425.08 85.73,425.80 85.78,426.87 85.84,426.40 85.89,425.57 85.95,425.23 86.01,424.53 86.06,424.27 86.12,424.62 86.17,424.60 86.23,426.01 86.28,427.33 86.34,425.38 86.40,425.86 86.45,425.47 86.51,424.99 86.56,426.11 86.62,425.92 86.68,424.69 86.73,424.40 86.79,425.29 86.84,423.88 86.90,424.71 86.96,425.64 87.01,424.33 87.07,422.08 87.12,425.13 87.18,422.87 87.23,422.58 87.29,422.40 87.35,425.19 87.40,421.70 87.46,423.98 87.51,424.40 87.57,424.34 87.63,423.29 87.68,423.93 87.74,424.17 87.79,422.35 87.85,424.78 87.91,425.14 87.96,422.85 88.02,422.92 88.07,422.40 88.13,425.06 88.18,422.35 88.24,423.06 88.30,421.43 88.35,425.15 88.41,423.29 88.46,423.87 88.52,425.48 88.58,424.36 88.63,422.01 88.69,423.98 88.74,424.27 88.80,422.23 88.86,422.04 88.91,422.01 88.97,424.23 89.02,423.27 89.08,421.85 89.14,423.96 89.19,424.05 89.25,422.00 89.30,421.03 89.36,424.47 89.41,426.29 89.47,424.79 89.53,424.19 89.58,423.04 89.64,422.03 89.69,422.98 89.75,423.66 89.81,422.53 89.86,423.94 89.92,422.72 89.97,423.46 90.03,419.11 90.09,421.50 90.14,423.61 90.20,423.79 90.25,423.03 90.31,424.58 90.36,423.35 90.42,423.33 90.48,421.17 90.53,422.85 90.59,423.30 90.64,423.99 90.70,423.74 90.76,422.25 90.81,422.41 90.87,420.59 90.92,422.89 90.98,420.62 91.04,421.65 91.09,421.96 91.15,424.59 91.20,423.61 91.26,420.86 91.31,419.95 91.37,421.51 91.43,420.73 91.48,422.26 91.54,422.18 91.59,422.54 91.65,420.30 91.71,421.12 91.76,421.86 91.82,421.95 91.87,420.72 91.93,421.00 91.99,422.53 92.04,419.04 92.10,420.98 92.15,421.28 92.21,419.25 92.26,419.83 92.32,421.31 92.38,420.42 92.43,422.58 92.49,421.96 92.54,424.15 92.60,419.34 92.66,423.58 92.71,420.00 92.77,422.05 92.82,422.22 92.88,421.10 92.94,420.43 92.99,419.91 93.05,418.27 93.10,420.19 93.16,419.42 93.21,421.44 93.27,419.58 93.33,420.32 93.38,421.14 93.44,420.59 93.49,420.51 93.55,420.12 93.61,419.78 93.66,421.02 93.72,421.31 93.77,419.18 93.83,422.58 93.89,421.03 93.94,417.93 94.00,423.90 94.05,421.02 94.11,419.03 94.17,422.30 94.22,416.24 94.28,423.56 94.33,417.80 94.39,417.59 94.44,418.46 94.50,420.04 94.56,419.17 94.61,420.93 94.67,418.44 94.72,421.17 94.78,419.91 94.84,418.05 94.89,421.04 94.95,419.92 95.00,419.12 95.06,421.25 95.12,417.59 95.17,418.74 95.23,421.38 95.28,419.22 95.34,420.23 95.39,420.02 95.45,418.91 95.51,420.01 95.56,417.53 95.62,419.92 95.67,417.41 95.73,418.87 95.79,417.51 95.84,419.51 95.90,419.41 95.95,420.32 96.01,417.73 96.07,417.16 96.12,415.37 96.18,416.54 96.23,418.03 96.29,418.67 96.34,417.74 96.40,418.31 96.46,416.05 96.51,416.77 96.57,419.37 96.62,419.11 96.68,416.00 96.74,417.53 96.79,418.29 96.85,416.12 96.90,418.43 96.96,418.22 97.02,418.44 97.07,420.65 97.13,416.35 97.18,419.43 97.24,418.42 97.29,418.63 97.35,416.36 97.41,417.51 97.46,417.34 97.52,419.86 97.57,417.39 97.63,419.46 97.69,416.69 97.74,416.55 97.80,417.08 97.85,413.88 97.91,416.15 97.97,415.99 98.02,416.63 98.08,417.10 98.13,415.26 98.19,415.00 98.24,418.65 98.30,414.96 98.36,415.74 98.41,415.00 98.47,415.71 98.52,418.31 98.58,418.14 98.64,413.43 98.69,415.82 98.75,418.37 98.80,415.56 98.86,416.61 98.92,418.87 98.97,419.52 99.03,418.39 99.08,415.39 99.14,415.84 99.20,416.10 99.25,415.20 99.31,414.64 99.36,418.86 99.42,415.95 99.47,416.73 99.53,417.31 99.59,416.17 99.64,415.44 99.70,415.60 99.75,417.44 99.81,415.83 99.87,411.78 99.92,416.62 99.98,417.58 100.03,414.37 100.09,413.79 100.15,413.93 100.20,416.42 100.26,412.94 100.31,415.75 100.37,416.25 100.42,415.33 100.48,414.45 100.54,413.04 100.59,413.11 100.65,414.09 100.70,412.46 100.76,413.78 100.82,412.37 100.87,416.06 100.93,416.27 100.98,412.34 101.04,415.82 101.10,413.95 101.15,413.54 101.21,414.10 101.26,413.97 101.32,410.83 101.37,417.26 101.43,411.51 101.49,409.08 101.54,412.77 101.60,412.76 101.65,411.43 101.71,409.50 101.77,414.47 101.82,412.24 101.88,412.62 101.93,411.28 101.99,411.86 102.05,410.93 102.10,412.67 102.16,411.78 102.21,412.92 102.27,412.82 102.32,411.84 102.38,411.75 102.44,413.42 102.49,408.64 102.55,411.47 102.60,413.52 102.66,409.16 102.72,412.24 102.77,409.99 102.83,410.80 102.88,410.24 102.94,410.28 103.00,411.48 103.05,410.31 103.11,406.75 103.16,414.09 103.22,409.98 103.27,409.24 103.33,411.74 103.39,412.21 103.44,405.91 103.50,410.26 103.55,405.84 103.61,408.46 103.67,409.17 103.72,408.36 103.78,407.98 103.83,406.91 103.89,408.13 103.95,408.55 104.00,408.39 104.06,406.18 104.11,407.04 104.17,410.19 104.23,409.43 104.28,407.60 104.34,409.21 104.39,408.66 104.45,409.61 104.50,408.25 104.56,406.91 104.62,405.76 104.67,407.45 104.73,403.58 104.78,407.39 104.84,401.32 104.90,405.21 104.95,406.03 105.01,407.75 105.06,411.91 105.12,406.91 105.18,406.19 105.23,402.87 105.29,408.85 105.34,402.68 105.40,406.56 105.45,404.64 105.51,410.60 105.57,405.52 105.62,406.31 105.68,404.29 105.73,405.28 105.79,407.49 105.85,403.47 105.90,403.83 105.96,403.91 106.01,403.02 106.07,402.74 106.13,404.75 106.18,407.17 106.24,407.12 106.29,401.83 106.35,402.93 106.40,403.98 106.46,404.90 106.52,403.90 106.57,403.81 106.63,404.39 106.68,404.98 106.74,399.39 106.80,402.99 106.85,404.49 106.91,405.72 106.96,404.51 107.02,401.62 107.08,401.44 107.13,403.22 107.19,402.59 107.24,403.17 107.30,404.63 107.35,399.84 107.41,401.54 107.47,397.33 107.52,403.52 107.58,402.20 107.63,400.10 107.69,402.20 107.75,404.33 107.80,403.36 107.86,401.19 107.91,400.60 107.97,401.35 108.03,399.08 108.08,398.98 108.14,400.19 108.19,400.67 108.25,401.11 108.30,399.40 108.36,398.56 108.42,400.15 108.47,399.26 108.53,400.69 108.58,402.75 108.64,401.82 108.70,398.17 108.75,398.69 108.81,396.28 108.86,399.24 108.92,397.50 108.98,396.46 109.03,397.00 109.09,400.12 109.14,399.15 109.20,398.40 109.26,400.54 109.31,397.46 109.37,396.22 109.42,399.17 109.48,394.05 109.53,398.55 109.59,398.25 109.65,398.20 109.70,399.05 109.76,396.62 109.81,397.32 109.87,393.82 109.93,395.87 109.98,395.89 110.04,397.33 110.09,399.68 110.15,396.82 110.21,398.28 110.26,394.42 110.32,396.33 110.37,392.68 110.43,394.49 110.48,394.16 110.54,395.30 110.60,395.22 110.65,394.17 110.71,393.48 110.76,396.78 110.82,394.13 110.88,389.52 110.93,395.11 110.99,395.33 111.04,396.13 111.10,397.61 111.16,391.90 111.21,394.16 111.27,393.53 111.32,390.12 111.38,388.58 111.43,395.68 111.49,391.41 111.55,392.20 111.60,392.55 111.66,392.25 111.71,393.20 111.77,389.61 111.83,391.58 111.88,392.03 111.94,389.95 111.99,390.58 112.05,391.39 112.11,391.55 112.16,388.33 112.22,390.89 112.27,392.06 112.33,393.60 112.38,392.36 112.44,393.76 112.50,391.12 112.55,390.66 112.61,395.57 112.66,390.92 112.72,389.41 112.78,390.33 112.83,392.66 112.89,387.65 112.94,391.84 113.00,392.88 113.06,392.43 113.11,389.94 113.17,387.61 113.22,387.07 113.28,389.05 113.33,392.03 113.39,390.71 113.45,391.12 113.50,389.39 113.56,392.81 113.61,388.48 113.67,387.15 113.73,388.79 113.78,387.30 113.84,390.30 113.89,391.32 113.95,389.36 114.01,385.19 114.06,385.34 114.12,388.55 114.17,384.68 114.23,387.99 114.29,383.70 114.34,385.89 114.40,387.87 114.45,384.91 114.51,388.33 114.56,388.57 114.62,389.60 114.68,385.57 114.73,386.15 114.79,386.06 114.84,386.68 114.90,382.31 114.96,386.43 115.01,386.98 115.07,382.32 115.12,381.77 115.18,384.12 115.24,388.76 115.29,385.99 115.35,383.05 115.40,384.28 115.46,380.58 115.51,387.20 115.57,382.31 115.63,385.20 115.68,380.52 115.74,383.62 115.79,380.90 115.85,384.67 115.91,386.30 115.96,385.46 116.02,384.13 116.07,384.97 116.13,379.60 116.19,379.12 116.24,381.48 116.30,384.40 116.35,382.10 116.41,383.29 116.46,378.08 116.52,380.62 116.58,380.06 116.63,382.01 116.69,385.69 116.74,382.60 116.80,383.27 116.86,379.58 116.91,380.08 116.97,382.07 117.02,380.93 117.08,376.11 117.14,382.00 117.19,381.75 117.25,379.94 117.30,380.92 117.36,380.12 117.41,377.65 117.47,374.61 117.53,382.92 117.58,378.52 117.64,378.22 117.69,378.37 117.75,378.46 117.81,378.68 117.86,375.26 117.92,378.68 117.97,377.70 118.03,377.24 118.09,376.82 118.14,377.35 118.20,374.33 118.25,376.64 118.31,376.04 118.36,376.44 118.42,378.62 118.48,378.04 118.53,378.43 118.59,375.22 118.64,377.29 118.70,378.00 118.76,374.64 118.81,373.78 118.87,379.27 118.92,370.58 118.98,374.53 119.04,374.72 119.09,371.65 119.15,373.97 119.20,375.50 119.26,368.37 119.32,376.36 119.37,373.77 119.43,371.26 119.48,375.90 119.54,373.33 119.59,371.95 119.65,366.74 119.71,374.85 119.76,372.58 119.82,370.65 119.87,371.95 119.93,375.03 119.99,370.82 120.04,371.43 120.10,370.42 120.15,368.53 120.21,368.68 120.27,370.06 120.32,370.15 120.38,373.58 120.43,370.98 120.49,369.93 120.54,371.36 120.60,369.94 120.66,372.15 120.71,365.97 120.77,364.24 120.82,370.59 120.88,368.42 120.94,369.90 120.99,365.91 121.05,367.89 121.10,368.66 121.16,369.28 121.22,368.24 121.27,371.00 121.33,366.53 121.38,369.97 121.44,366.60 121.49,367.50 121.55,364.86 121.61,367.59 121.66,364.75 121.72,369.65 121.77,365.53 121.83,367.55 121.89,366.31 121.94,366.48 122.00,364.08 122.05,371.64 122.11,365.39 122.17,369.99 122.22,362.78 122.28,370.95 122.33,368.27 122.39,369.88 122.44,361.05 122.50,368.59 122.56,364.76 122.61,366.32 122.67,369.50 122.72,365.50 122.78,362.72 122.84,364.81 122.89,361.69 122.95,364.98 123.00,363.86 123.06,364.75 123.12,362.68 123.17,358.40 123.23,362.33 123.28,362.63 123.34,364.65 123.39,364.87 123.45,358.81 123.51,365.53 123.56,364.86 123.62,362.54 123.67,363.27 123.73,356.75 123.79,368.17 123.84,360.73 123.90,359.64 123.95,364.41 124.01,363.00 124.07,359.96 124.12,356.60 124.18,363.31 124.23,364.95 124.29,357.93 124.35,356.30 124.40,361.17 124.46,366.11 124.51,356.06 124.57,360.39 124.62,356.67 124.68,359.69 124.74,360.45 124.79,360.52 124.85,355.15 124.90,355.12 124.96,364.69 125.02,361.29 125.07,353.77 125.13,359.47 125.18,362.04 125.24,358.19 125.30,358.36 125.35,358.20 125.41,359.11 125.46,358.51 125.52,358.78 125.57,356.49 125.63,359.50 125.69,357.93 125.74,357.41 125.80,353.29 125.85,355.72 125.91,356.93 125.97,355.02 126.02,355.25 126.08,353.24 126.13,354.72 126.19,351.04 126.25,352.15 126.30,355.86 126.36,356.77 126.41,353.05 126.47,353.94 126.52,355.51 126.58,359.21 126.64,360.08 126.69,353.90 126.75,352.60 126.80,352.38 126.86,358.07 126.92,351.48 126.97,355.73 127.03,353.03 127.08,352.83 127.14,356.11 127.20,355.39 127.25,359.41 127.31,356.06 127.36,358.41 127.42,352.02 127.47,352.95 127.53,350.44 127.59,351.87 127.64,354.53 127.70,351.66 127.75,353.60 127.81,350.67 127.87,351.37 127.92,354.92 127.98,352.01 128.03,351.74 128.09,352.64 128.15,349.13 128.20,346.70 128.26,352.45 128.31,352.29 128.37,357.53 128.42,351.42 128.48,352.18 128.54,356.95 128.59,349.89 128.65,348.92 128.70,352.56 128.76,351.42 128.82,352.99 128.87,347.97 128.93,354.33 128.98,350.80 129.04,344.24 129.10,349.54 129.15,348.24 129.21,349.88 129.26,352.70 129.32,349.34 129.38,347.98 129.43,351.95 129.49,347.95 129.54,345.26 129.60,345.65 129.65,353.14 129.71,351.30 129.77,353.03 129.82,345.23 129.88,346.45 129.93,346.09 129.99,350.53 130.05,351.26 130.10,347.59 130.16,347.42 130.21,350.08 130.27,347.12 130.33,345.58 130.38,346.68 130.44,350.24 130.49,353.25 130.55,347.82 130.60,346.51 130.66,347.65 130.72,348.05 130.77,348.72 130.83,344.58 130.88,346.71 130.94,346.12 131.00,349.21 131.05,348.12 131.11,345.77 131.16,349.08 131.22,349.73 131.28,346.96 131.33,342.45 131.39,345.30 131.44,341.54 131.50,346.08 131.55,346.52 131.61,349.59 131.67,347.14 131.72,341.23 131.78,344.37 131.83,343.11 131.89,343.12 131.95,345.12 132.00,345.61 132.06,344.60 132.11,342.91 132.17,343.46 132.23,343.29 132.28,344.20 132.34,346.82 132.39,345.27 132.45,347.18 132.50,341.43 132.56,350.42 132.62,344.85 132.67,337.17 132.73,345.07 132.78,347.32 132.84,343.98 132.90,340.09 132.95,344.26 133.01,341.93 133.06,343.36 133.12,344.68 133.18,334.29 133.23,343.24 133.29,344.95 133.34,344.75 133.40,342.13 133.45,341.98 133.51,340.85 133.57,342.63 133.62,347.18 133.68,341.35 133.73,343.76 133.79,343.63 133.85,347.08 133.90,344.35 133.96,344.73 134.01,342.64 134.07,346.75 134.13,342.26 134.18,341.98 134.24,345.58 134.29,344.07 134.35,344.69 134.41,339.43 134.46,349.50 134.52,343.00 134.57,346.83 134.63,343.14 134.68,339.31 134.74,343.62 134.80,341.29 134.85,344.14 134.91,335.85 134.96,338.83 135.02,338.14 135.08,345.35 135.13,344.62 135.19,338.12 135.24,341.83 135.30,341.97 135.36,340.17 135.41,344.82 135.47,338.76 135.52,340.95 135.58,339.53 135.63,342.89 135.69,339.33 135.75,342.89 135.80,337.93 135.86,337.36 135.91,337.96 135.97,339.08 136.03,338.69 136.08,348.56 136.14,338.00 136.19,341.25 136.25,340.11 136.31,341.19 136.36,344.44 136.42,341.87 136.47,338.27 136.53,335.97 136.58,341.99 136.64,342.79 136.70,335.75 136.75,342.65 136.81,333.82 136.86,339.80 136.92,342.54 136.98,336.95 137.03,334.80 137.09,344.08 137.14,335.13 137.20,340.58 137.26,335.28 137.31,340.81 137.37,344.34 137.42,338.11 137.48,336.82 137.53,333.30 137.59,334.37 137.65,337.41 137.70,340.16 137.76,340.97 137.81,340.26 137.87,341.83 137.93,340.14 137.98,346.88 138.04,338.72 138.09,339.31 138.15,331.53 138.21,336.89 138.26,340.56 138.32,337.40 138.37,342.72 138.43,340.83 138.48,344.58 138.54,334.67 138.60,337.16 138.65,342.41 138.71,339.05 138.76,336.00 138.82,337.33 138.88,337.63 138.93,341.31 138.99,340.62 139.04,338.40 139.10,335.90 139.16,341.10 139.21,341.95 139.27,335.14 139.32,341.32 139.38,335.28 139.44,337.75 139.49,335.81 139.55,333.19 139.60,336.33 139.66,336.03 139.71,341.08 139.77,340.39 139.83,336.35 139.88,333.65 139.94,334.05 139.99,331.25 140.05,337.24 140.11,337.53 140.16,335.10 140.22,338.03 140.27,338.25 140.33,341.18 140.39,335.04 140.44,341.21 140.50,336.43 140.55,342.20 140.61,334.63 140.66,340.98 140.72,335.34 140.78,342.62 140.83,339.15 140.89,334.27 140.94,340.20 141.00,337.56 141.06,339.18 141.11,344.66 141.17,336.78 141.22,336.38 141.28,340.99 141.34,335.92 141.39,340.02 141.45,340.62 141.50,337.57 141.56,339.62 141.61,330.67 141.67,342.22 141.73,335.31 141.78,334.54 141.84,343.45 141.89,342.69 141.95,335.78 142.01,338.91 142.06,336.29 142.12,334.01 142.17,338.54 142.23,340.61 142.29,345.61 142.34,336.78 142.40,340.17 142.45,336.43 142.51,336.67 142.56,341.52 142.62,332.16 142.68,334.08 142.73,334.79 142.79,340.90 142.84,338.55 142.90,338.97 142.96,338.57 143.01,340.70 143.07,336.01 143.12,336.62 143.18,336.21 143.24,338.83 143.29,333.43 143.35,336.75 143.40,345.55 143.46,339.24 143.52,337.49 143.57,334.42 143.63,338.24 143.68,338.09 143.74,339.34 143.79,335.35 143.85,338.71 143.91,339.18 143.96,339.61 144.02,335.71 144.07,339.00 144.13,342.45 144.19,335.55 144.24,339.55 144.30,336.38 144.35,336.34 144.41,333.86 144.47,334.36 144.52,339.24 144.58,338.03 144.63,341.43 144.69,332.52 144.74,336.26 144.80,333.41 144.86,338.58 144.91,343.80 144.97,333.06 145.02,337.41 145.08,337.31 145.14,337.57 145.19,335.82 145.25,336.18 145.30,342.58 145.36,334.57 145.42,339.44 145.47,339.28 145.53,332.73 145.58,335.17 145.64,338.98 145.69,343.56 145.75,337.54 145.81,336.43 145.86,338.32 145.92,341.85 145.97,340.51 146.03,341.93 146.09,337.56 146.14,335.78 146.20,335.19 146.25,340.49 146.31,337.63 146.37,336.70 146.42,339.93 146.48,338.88 146.53,332.10 146.59,337.88 146.64,335.89 146.70,339.87 146.76,338.48 146.81,343.77 146.87,338.75 146.92,335.15 146.98,332.47 147.04,335.21 147.09,336.77 147.15,338.70 147.20,340.69 147.26,339.42 147.32,337.14 147.37,341.36 147.43,336.27 147.48,342.03 147.54,344.44 147.59,342.19 147.65,344.18 147.71,343.34 147.76,335.91 147.82,339.93 147.87,338.72 147.93,335.96 147.99,335.70 148.04,340.99 148.10,335.57 148.15,338.43 148.21,339.60 148.27,338.34 148.32,343.94 148.38,342.08 148.43,340.10 148.49,338.00 148.55,340.97 148.60,340.28 148.66,337.06 148.71,335.78 148.77,337.74 148.82,336.30 148.88,341.31 148.94,341.06 148.99,339.25 149.05,341.13 149.10,341.78 149.16,335.41 149.22,340.96 149.27,343.27 149.33,338.99 149.38,335.03 149.44,340.28 149.50,336.91 149.55,341.90 149.61,342.10 149.66,342.73 149.72,341.15 149.77,335.32 149.83,344.23 149.89,336.00 149.94,343.88 150.00,341.62 150.05,338.50 150.11,339.15 150.17,340.22 150.22,345.98 150.28,340.07 150.33,344.21 150.39,333.63 150.45,341.91 150.50,340.76 150.56,344.76 150.61,342.83 150.67,345.28 150.72,338.61 150.78,342.33 150.84,339.94 150.89,343.68 150.95,343.18 151.00,337.95 151.06,344.67 151.12,347.17 151.17,340.71 151.23,345.33 151.28,343.31 151.34,339.38 151.40,344.53 151.45,339.59 151.51,344.24 151.56,337.89 151.62,338.44 151.67,343.78 151.73,343.08 151.79,344.95 151.84,341.98 151.90,339.24 151.95,346.93 152.01,340.04 152.07,346.69 152.12,345.38 152.18,348.16 152.23,336.79 152.29,342.86 152.35,342.38 152.40,345.14 152.46,340.09 152.51,349.44 152.57,343.26 152.62,336.93 152.68,344.58 152.74,343.48 152.79,341.62 152.85,346.03 152.90,343.65 152.96,340.97 153.02,343.27 153.07,342.82 153.13,344.99 153.18,343.11 153.24,343.94 153.30,339.92 153.35,342.12 153.41,345.01 153.46,351.51 153.52,342.34 153.58,342.30 153.63,347.24 153.69,350.46 153.74,348.03 153.80,342.07 153.85,347.94 153.91,346.24 153.97,344.33 154.02,341.48 154.08,345.16 154.13,345.47 154.19,346.84 154.25,340.57 154.30,342.28 154.36,345.73 154.41,349.57 154.47,347.88 154.53,343.98 154.58,347.82 154.64,343.21 154.69,344.82 154.75,345.09 154.80,344.11 154.86,344.63 154.92,348.62 154.97,347.16 155.03,339.52 155.08,349.85 155.14,347.80 155.20,343.42 155.25,347.03 155.31,348.98 155.36,350.53 155.42,345.23 155.48,343.91 155.53,342.88 155.59,346.84 155.64,344.05 155.70,350.11 155.75,346.72 155.81,349.22 155.87,346.84 155.92,345.25 155.98,344.41 156.03,350.40 156.09,343.98 156.15,349.06 156.20,350.71 156.26,348.33 156.31,352.11 156.37,347.96 156.43,347.21 156.48,348.69 156.54,346.65 156.59,349.16 156.65,348.31 156.70,352.52 156.76,348.34 156.82,350.97 156.87,349.89 156.93,348.94 156.98,348.19 157.04,353.52 157.10,353.34 157.15,349.81 157.21,347.66 157.26,348.05 157.32,346.60 157.38,345.50 157.43,347.87 157.49,349.41 157.54,352.36 157.60,352.18 157.65,350.88 157.71,348.86 157.77,349.06 157.82,349.75 157.88,350.26 157.93,348.10 157.99,349.37 158.05,349.19 158.10,349.23 158.16,351.72 158.21,353.17 158.27,348.92 158.33,349.20 158.38,351.08 158.44,351.70 158.49,344.13 158.55,352.81 158.61,351.35 158.66,350.05 158.72,354.14 158.77,350.61 158.83,345.93 158.88,348.45 158.94,349.37 159.00,349.56 159.05,350.99 159.11,348.67 159.16,351.89 159.22,352.71 159.28,351.30 159.33,349.11 159.39,350.80 159.44,349.90 159.50,357.58 159.56,348.59 159.61,345.43 159.67,348.34 159.72,353.06 159.78,354.63 159.83,351.53 159.89,355.16 159.95,350.42 160.00,354.01 160.06,349.91 160.11,348.86 160.17,358.46 160.23,352.01 160.28,354.86 160.34,356.93 160.39,354.78 160.45,353.74 160.51,350.30 160.56,357.53 160.62,350.40 160.67,347.77 160.73,351.82 160.78,352.04 160.84,353.68 160.90,357.00 160.95,352.30 161.01,352.79 161.06,351.90 161.12,346.85 161.18,352.06 161.23,352.98 161.29,349.89 161.34,358.06 161.40,357.57 161.46,355.50 161.51,356.36 161.57,352.68 161.62,355.57 161.68,349.93 161.73,350.61 161.79,352.77 161.85,356.06 161.90,353.35 161.96,352.89 162.01,358.17 162.07,354.32 162.13,353.40 162.18,354.84 162.24,351.16 162.29,352.23 162.35,357.94 162.41,355.39 162.46,358.12 162.52,354.28 162.57,358.35 162.63,353.49 162.68,355.04 162.74,353.51 162.80,356.66 162.85,360.35 162.91,351.55 162.96,356.96 163.02,352.77 163.08,355.45 163.13,354.86 163.19,351.76 163.24,355.93 163.30,353.09 163.36,361.09 163.41,354.70 163.47,357.82 163.52,357.60 163.58,357.29 163.64,356.44 163.69,352.92 163.75,362.61 163.80,357.49 163.86,359.65 163.91,354.57 163.97,358.99 164.03,356.66 164.08,359.07 164.14,356.23 164.19,355.36 164.25,359.29 164.31,358.15 164.36,362.23 164.42,357.60 164.47,356.17 164.53,360.09 164.59,355.60 164.64,364.37 164.70,363.83 164.75,362.65 164.81,360.26 164.86,358.97 164.92,359.31 164.98,359.35 165.03,357.28 165.09,360.59 165.14,362.81 165.20,362.83 165.26,353.81 165.31,365.98 165.37,360.15 165.42,355.80 165.48,358.52 165.54,362.14 165.59,359.96 165.65,357.71 165.70,356.85 165.76,362.61 165.81,358.20 165.87,359.65 165.93,357.42 165.98,356.73 166.04,361.47 166.09,364.53 166.15,359.63 166.21,355.98 166.26,358.99 166.32,360.29 166.37,354.53 166.43,363.85 166.49,358.70 166.54,362.73 166.60,361.14 166.65,361.11 166.71,357.36 166.76,364.00 166.82,363.00 166.88,365.90 166.93,360.40 166.99,363.01 167.04,360.72 167.10,364.80 167.16,362.96 167.21,359.30 167.27,362.61 167.32,360.55 167.38,360.88 167.44,363.30 167.49,366.60 167.55,359.88 167.60,362.13 167.66,360.03 167.71,368.09 167.77,367.20 167.83,368.57 167.88,365.28 167.94,360.25 167.99,361.58 168.05,363.25 168.11,362.89 168.16,361.29 168.22,364.18 168.27,362.40 168.33,363.15 168.39,369.39 168.44,364.69 168.50,360.14 168.55,364.86 168.61,364.27 168.67,365.56 168.72,365.31 168.78,361.13 168.83,364.88 168.89,366.95 168.94,372.53 169.00,365.90 169.06,369.65 169.11,369.35 169.17,362.52 169.22,362.82 169.28,369.80 169.34,362.59 169.39,363.69 169.45,367.03 169.50,363.11 169.56,369.39 169.62,368.35 169.67,369.04 169.73,368.25 169.78,363.10 169.84,368.98 169.89,368.57 169.95,368.12 170.01,365.18 170.06,366.66 170.12,363.58 170.17,367.77 170.23,369.35 170.29,367.37 170.34,366.04 170.40,368.64 170.45,365.56 170.51,361.62 170.57,367.95 170.62,366.39 170.68,363.06 170.73,368.34 170.79,368.94 170.84,369.65 170.90,365.84 170.96,365.62 171.01,367.41 171.07,366.99 171.12,363.87 171.18,365.00 171.24,370.96 171.29,367.43 171.35,367.20 171.40,365.68 171.46,368.20 171.52,369.37 171.57,368.96 171.63,372.44 171.68,367.98 171.74,369.53 171.79,366.86 171.85,370.79 171.91,369.34 171.96,370.81 172.02,371.11 172.07,366.63 172.13,369.70 172.19,367.43 172.24,371.53 172.30,368.47 172.35,373.14 172.41,370.10 172.47,370.23 172.52,367.52 172.58,368.63 172.63,369.61 172.69,367.08 172.74,368.81 172.80,368.00 172.86,367.49 172.91,369.69 172.97,370.34 173.02,368.83 173.08,370.80 173.14,368.82 173.19,367.05 173.25,367.77 173.30,370.99 173.36,373.37 173.42,370.30 173.47,370.55 173.53,367.49 173.58,371.35 173.64,370.97 173.70,368.64 173.75,371.80 173.81,371.06 173.86,366.37 173.92,367.01 173.97,369.27 174.03,370.25 174.09,373.46 174.14,369.66 174.20,371.00 174.25,370.65 174.31,372.59 174.37,371.38 174.42,371.89 174.48,370.69 174.53,367.95 174.59,370.72 174.65,375.88 174.70,374.21 174.76,375.83 174.81,373.91 174.87,370.57 174.92,371.04 174.98,373.62 175.04,371.51 175.09,374.16 175.15,375.89 175.20,375.92 175.26,374.62 175.32,368.97 175.37,375.96 175.43,369.55 175.48,369.41 175.54,373.27 175.60,373.00 175.65,374.48 175.71,373.08 175.76,371.44 175.82,373.14 175.87,370.74 175.93,370.34 175.99,372.51 176.04,372.62 176.10,373.66 176.15,372.72 176.21,376.42 176.27,372.71 176.32,373.28 176.38,376.00 176.43,368.58 176.49,376.41 176.55,376.22 176.60,373.44 176.66,379.01 176.71,376.24 176.77,378.13 176.82,376.81 176.88,374.81 176.94,373.76 176.99,371.89 177.05,372.70 177.10,371.83 177.16,373.38 177.22,376.06 177.27,372.22 177.33,376.25 177.38,376.63 177.44,371.41 177.50,373.31 177.55,374.78 177.61,373.54 177.66,373.29 177.72,378.88 177.77,375.83 177.83,378.57 177.89,375.44 177.94,377.45 178.00,372.54 178.05,374.67 178.11,378.01 178.17,376.13 178.22,379.12 178.28,376.12 178.33,374.95 178.39,375.71 178.45,381.15 178.50,377.32 178.56,375.32 178.61,375.89 178.67,373.87 178.73,379.91 178.78,375.56 178.84,378.50 178.89,376.50 178.95,376.06 179.00,375.44 179.06,378.59 179.12,376.81 179.17,380.17 179.23,380.83 179.28,376.11 179.34,377.66 179.40,381.53 179.45,379.73 179.51,377.69 179.56,374.03 179.62,375.34 179.68,376.01 179.73,382.34 179.79,378.32 179.84,376.99 179.90,377.26 179.95,377.28 180.01,378.92 180.07,374.17 180.12,374.92 180.18,378.78 180.23,380.99 180.29,373.74 180.35,380.09 180.40,375.95 180.46,374.30 180.51,381.24 180.57,378.33 180.63,379.94 180.68,377.93 180.74,378.47 180.79,374.63 180.85,377.96 180.90,379.46 180.96,376.81 181.02,380.23 181.07,380.52 181.13,374.35 181.18,381.74 181.24,381.01 181.30,379.81 181.35,382.50 181.41,385.08 181.46,377.59 181.52,382.05 181.58,381.54 181.63,381.20 181.69,382.72 181.74,383.01 181.80,380.13 181.85,374.87 181.91,378.90 181.97,378.94 182.02,384.36 182.08,380.91 182.13,383.72 182.19,379.15 182.25,381.59 182.30,381.02 182.36,381.39 182.41,382.63 182.47,384.91 182.53,380.01 182.58,384.72 182.64,384.30 182.69,382.28 182.75,383.31 182.80,381.09 182.86,379.39 182.92,381.25 182.97,381.44 183.03,381.92 183.08,380.01 183.14,386.45 183.20,381.30 183.25,384.42 183.31,385.19 183.36,382.35 183.42,383.34 183.48,381.12 183.53,379.97 183.59,388.07 183.64,382.86 183.70,378.16 183.76,380.78 183.81,379.50 183.87,382.71 183.92,386.36 183.98,385.70 184.03,381.48 184.09,380.96 184.15,384.97 184.20,383.96 184.26,382.78 184.31,387.54 184.37,384.34 184.43,379.82 184.48,378.57 184.54,383.96 184.59,379.52 184.65,385.06 184.71,385.78 184.76,389.16 184.82,381.81 184.87,384.96 184.93,378.73 184.98,383.45 185.04,383.85 185.10,388.52 185.15,380.94 185.21,385.31 185.26,384.90 185.32,389.69 185.38,382.52 185.43,382.44 185.49,386.18 185.54,384.63 185.60,384.00 185.66,382.75 185.71,384.79 185.77,381.13 185.82,385.71 185.88,386.60 185.93,386.34 185.99,391.16 186.05,387.25 186.10,383.15 186.16,384.91 186.21,387.45 186.27,384.84 186.33,390.32 186.38,386.41 186.44,384.62 186.49,384.28 186.55,387.71 186.61,383.92 186.66,381.79 186.72,387.09 186.77,384.49 186.83,389.79 186.88,390.77 186.94,384.96 187.00,386.32 187.05,386.02 187.11,387.86 187.16,387.26 187.22,384.81 187.28,382.81 187.33,387.27 187.39,390.58 187.44,384.00 187.50,385.59 187.56,385.47 187.61,386.66 187.67,381.87 187.72,387.02 187.78,386.09 187.83,391.50 187.89,388.68 187.95,388.98 188.00,387.56 188.06,386.76 188.11,389.30 188.17,383.77 188.23,390.13 188.28,388.80 188.34,387.31 188.39,390.72 188.45,386.68 188.51,386.60 188.56,388.74 188.62,383.86 188.67,388.02 188.73,387.63 188.79,390.47 188.84,392.13 188.90,389.85 188.95,389.22 189.01,389.58 189.06,386.90 189.12,394.01 189.18,391.27 189.23,392.87 189.29,385.86 189.34,390.17 189.40,390.12 189.46,391.48 189.51,387.09 189.57,390.06 189.62,388.71 189.68,393.79 189.74,386.72 189.79,388.50 189.85,388.21 189.90,386.75 189.96,389.98 190.01,389.98 190.07,388.08 190.13,388.79 190.18,390.33 190.24,389.75 190.29,391.02 190.35,388.38 190.41,387.96 190.46,390.07 190.52,385.99 190.57,393.59 190.63,390.77 190.69,386.54 190.74,391.30 190.80,393.95 190.85,387.41 190.91,389.34 190.96,393.23 191.02,388.95 191.08,392.96 191.13,393.72 191.19,391.16 191.24,391.94 191.30,393.35 191.36,391.80 191.41,393.26 191.47,390.98 191.52,391.22 191.58,389.60 191.64,392.28 191.69,394.25 191.75,394.28 191.80,391.99 191.86,388.16 191.91,389.72 191.97,393.03 192.03,389.63 192.08,394.27 192.14,389.59 192.19,392.69 192.25,390.24 192.31,390.61 192.36,392.62 192.42,391.37 192.47,394.45 192.53,392.35 192.59,389.90 192.64,383.42 192.70,390.83 192.75,392.22 192.81,394.66 192.86,390.23 192.92,396.16 192.98,394.37 193.03,391.92 193.09,395.35 193.14,389.48 193.20,390.50 193.26,394.14 193.31,394.16 193.37,395.86 193.42,396.09 193.48,392.18 193.54,391.85 193.59,392.49 193.65,392.73 193.70,394.56 193.76,392.63 193.82,396.62 193.87,393.50 193.93,390.41 193.98,390.79 194.04,394.67 194.09,394.45 194.15,390.84 194.21,390.02 194.26,397.09 194.32,394.86 194.37,393.50 194.43,391.45 194.49,395.90 194.54,392.79 194.60,394.86 194.65,389.21 194.71,393.41 194.77,394.66 194.82,395.14 194.88,392.24 194.93,393.09 194.99,396.89 195.04,394.18 195.10,397.53 195.16,396.35 195.21,397.54 195.27,397.66 195.32,396.35 195.38,397.03 195.44,393.89 195.49,393.37 195.55,395.61 195.60,397.52 195.66,393.51 195.72,399.53 195.77,399.39 195.83,393.83 195.88,394.03 195.94,393.42 195.99,395.97 196.05,398.22 196.11,396.69 196.16,394.48 196.22,397.33 196.27,397.25 196.33,398.75 196.39,398.32 196.44,394.16 196.50,395.02 196.55,398.46 196.61,398.34 196.67,397.30 196.72,395.03 196.78,398.67 196.83,396.63 196.89,400.80 196.94,399.00 197.00,395.54 197.06,394.60 197.11,398.93 197.17,398.18 197.22,394.96 197.28,397.48 197.34,397.84 197.39,395.68 197.45,396.40 197.50,394.55 197.56,395.26 197.62,398.15 197.67,397.25 197.73,397.17 197.78,399.91 197.84,399.16 197.89,395.18 197.95,400.52 198.01,395.23 198.06,396.74 198.12,397.67 198.17,396.31 198.23,396.49 198.29,395.03 198.34,398.39 198.40,398.08 198.45,398.16 198.51,393.83 198.57,395.80 198.62,399.69 198.68,398.52 198.73,399.33 198.79,397.90 198.85,397.54 198.90,393.32 198.96,401.81 199.01,396.00 199.07,397.26 199.12,399.63 199.18,398.55 199.24,399.30 199.29,398.23 199.35,396.32 199.40,401.52 199.46,395.78 199.52,399.27 199.57,395.49 199.63,397.75 199.68,396.13 199.74,397.53 199.80,396.52 199.85,398.65 199.91,400.50 199.96,397.49 200.02,397.45 200.07,394.68 200.13,403.04 200.19,399.43 200.24,396.92 200.30,401.65 200.35,399.61 200.41,394.91 200.47,396.38 200.52,401.06 200.58,396.44 200.63,396.98 200.69,397.84 200.75,398.68 200.80,399.01 200.86,401.29 200.91,400.62 200.97,398.14 201.02,399.38 201.08,395.99 201.14,400.42 201.19,404.61 201.25,400.50 201.30,399.31 201.36,399.15 201.42,399.82 201.47,401.64 201.53,397.04 201.58,401.41 201.64,398.70 201.70,400.73 201.75,402.59 201.81,397.42 201.86,405.29 201.92,402.02 201.97,399.50 202.03,401.12 202.09,398.95 202.14,400.69 202.20,401.43 202.25,396.27 202.31,401.04 202.37,400.96 202.42,402.84 202.48,402.21 202.53,399.48 202.59,399.69 202.65,400.84 202.70,402.27 202.76,399.57 202.81,404.34 202.87,401.68 202.92,401.55 202.98,402.76 203.04,400.82 203.09,402.48 203.15,402.79 203.20,397.69 203.26,399.82 203.32,398.96 203.37,401.26 203.43,399.50 203.48,399.90 203.54,399.09 203.60,396.86 203.65,402.00 203.71,401.08 203.76,401.73 203.82,408.56 203.88,404.44 203.93,401.71 203.99,400.54 204.04,402.95 204.10,399.64 204.15,399.38 204.21,402.74 204.27,399.19 204.32,398.59 204.38,401.14 204.43,404.00 204.49,399.26 204.55,402.48 204.60,402.93 204.66,402.01 204.71,403.32 204.77,400.22 204.83,400.84 204.88,400.02 204.94,401.29 204.99,404.00 205.05,402.81 205.10,400.84 205.16,403.36 205.22,396.95 205.27,403.12 205.33,403.82 205.38,400.50 205.44,401.32 205.50,402.85 205.55,403.28 205.61,402.05 205.66,401.30 205.72,401.48 205.78,403.57 205.83,402.19 205.89,401.43 205.94,401.62 206.00,409.08 206.05,404.88 206.11,404.70 206.17,403.69 206.22,402.94 206.28,401.55 206.33,402.17 206.39,403.64 206.45,403.38 206.50,400.09 206.56,404.68 206.61,402.95 206.67,400.58 206.73,402.95 206.78,407.56 206.84,402.97 206.89,404.46 206.95,403.97 207.00,401.78 207.06,402.93 207.12,404.37 207.17,402.20 207.23,403.11 207.28,403.77 207.34,403.43 207.40,403.56 207.45,404.72 207.51,404.99 207.56,404.10 207.62,406.00 207.68,406.61 207.73,401.79 207.79,404.74 207.84,404.37 207.90,404.62 207.95,404.35 208.01,404.39 208.07,404.34 208.12,406.02 208.18,402.77 208.23,405.88 208.29,402.65 208.35,408.26 208.40,406.68 208.46,402.84 208.51,405.02 208.57,406.04 208.63,404.10 208.68,406.81 208.74,404.73 208.79,409.08 208.85,405.80 208.91,406.20 208.96,404.00 209.02,403.40 209.07,406.69 209.13,402.10 209.18,406.26 209.24,409.04 209.30,409.68 209.35,402.37 209.41,405.45 209.46,406.53 209.52,406.75 209.58,407.43 209.63,402.89 209.69,405.61 209.74,402.14 209.80,405.89 209.86,409.94 209.91,404.01 209.97,406.30 210.02,406.09 210.08,402.77 210.13,406.21 210.19,403.59 210.25,405.79 210.30,407.21 210.36,404.91 210.41,407.00 210.47,403.63 210.53,404.16 210.58,405.86 210.64,404.88 210.69,405.00 210.75,406.59 210.81,404.45 210.86,406.56 210.92,405.03 210.97,407.96 211.03,406.05 211.08,405.50 211.14,407.76 211.20,407.10 211.25,407.34 211.31,405.05 211.36,407.75 211.42,405.64 211.48,403.67 211.53,405.86 211.59,409.51 211.64,406.34 211.70,404.69 211.76,407.16 211.81,404.63 211.87,405.56 211.92,405.95 211.98,407.24 212.03,407.73 212.09,407.29 212.15,406.73 212.20,405.92 212.26,406.14 212.31,407.49 212.37,406.85 212.43,406.29 212.48,410.00 212.54,408.47 212.59,408.55 212.65,407.49 212.71,407.65 212.76,407.65 212.82,408.80 212.87,406.02 212.93,406.77 212.98,410.29 213.04,407.31 213.10,409.41 213.15,404.30 213.21,408.25 213.26,408.17 213.32,407.33 213.38,407.87 213.43,407.65 213.49,404.77 213.54,407.19 213.60,406.12 213.66,405.62 213.71,409.45 213.77,404.66 213.82,406.51 213.88,406.05 213.94,409.37 213.99,406.36 214.05,407.12 214.10,408.87 214.16,403.81 214.21,406.93 214.27,408.42 214.33,407.67 214.38,406.41 214.44,406.04 214.49,407.06 214.55,405.94 214.61,405.52 214.66,410.41 214.72,409.09 214.77,409.94 214.83,408.10 214.89,405.72 214.94,407.16 215.00,410.24 215.05,408.92 215.11,406.58 215.16,409.40 215.22,408.65 215.28,407.96 215.33,411.79 215.39,407.17 215.44,407.98 215.50,407.61 215.56,410.40 215.61,410.05 215.67,409.77 215.72,408.29 215.78,408.64 215.84,408.57 215.89,405.64 215.95,406.53 216.00,410.16 216.06,410.07 216.11,405.89 216.17,409.53 216.23,406.55 216.28,406.19 216.34,410.01 216.39,409.56 216.45,408.96 216.51,410.66 216.56,410.89 216.62,409.90 216.67,407.71 216.73,410.04 216.79,409.64 216.84,410.12 216.90,411.74 216.95,406.74 217.01,413.52 217.06,410.57 217.12,408.45 217.18,411.93 217.23,408.43 217.29,407.32 217.34,411.06 217.40,409.21 217.46,411.56 217.51,408.74 217.57,409.50 217.62,409.31 217.68,407.31 217.74,408.91 217.79,407.41 217.85,408.68 217.90,411.92 217.96,409.39 218.02,409.02 218.07,412.43 218.13,407.60 218.18,409.84 218.24,409.34 218.29,411.57 218.35,409.91 218.41,409.54 218.46,410.66 218.52,409.97 218.57,413.84 218.63,407.79 218.69,412.13 218.74,414.02 218.80,411.92 218.85,411.73 218.91,409.35 218.97,411.91 219.02,409.86 219.08,412.04 219.13,406.57 219.19,409.48 219.24,407.06 219.30,412.24 219.36,409.36 219.41,412.19 219.47,409.56 219.52,409.41 219.58,413.37 219.64,412.60 219.69,412.68 219.75,413.29 219.80,411.98 219.86,412.40 219.92,413.26 219.97,410.63 220.03,409.88 220.08,413.11 220.14,411.83 220.19,410.88 220.25,411.32 220.31,412.15 220.36,409.58 220.42,409.54 220.47,409.86 220.53,411.41 220.59,407.66 220.64,408.11 220.70,411.82 220.75,411.36 220.81,409.14 220.87,412.57 220.92,410.54 220.98,411.17 221.03,412.48 221.09,411.70 221.14,414.01 221.20,412.28 221.26,414.78 221.31,407.50 221.37,408.85 221.42,409.35 221.48,410.96 221.54,409.79 221.59,409.35 221.65,409.82 221.70,410.01 221.76,413.15 221.82,410.89 221.87,412.55 221.93,413.68 221.98,413.63 222.04,410.99 222.09,409.95 222.15,414.09 222.21,408.83 222.26,409.32 222.32,412.48 222.37,412.65 222.43,412.01 222.49,410.25 222.54,412.58 222.60,413.83 222.65,411.40 222.71,415.49 222.77,411.79 222.82,410.09 222.88,411.56 222.93,410.78 222.99,411.29 223.05,410.92 223.10,411.92 223.16,413.59 223.21,412.59 223.27,412.36 223.32,410.14 223.38,409.55 223.44,411.60 223.49,413.59 223.55,413.58 223.60,412.69 223.66,410.06 223.72,411.85 223.77,412.53 223.83,413.74 223.88,411.00 223.94,412.02 224.00,412.61 224.05,412.38 224.11,409.75 224.16,412.86 224.22,409.79 224.27,410.56 224.33,412.57 224.39,411.20 224.44,412.91 224.50,414.11 224.55,413.19 224.61,414.28 224.67,411.94 224.72,412.79 224.78,411.89 224.83,411.48 224.89,418.07 224.95,412.38 225.00,415.92 225.06,412.66 225.11,414.42 225.17,412.81 225.22,410.74 225.28,415.86 225.34,412.73 225.39,413.20 225.45,416.23 225.50,412.04 225.56,413.08 225.62,414.00 225.67,414.37 225.73,407.88 225.78,413.87 225.84,416.21 225.90,414.80 225.95,413.88 226.01,413.93 226.06,413.45 226.12,415.07 226.17,412.47 226.23,414.18 226.29,415.65 226.34,414.77 226.40,414.08 226.45,412.07 226.51,412.69 226.57,414.06 226.62,413.49 226.68,413.19 226.73,410.22 226.79,414.60 226.85,412.84 226.90,412.44 226.96,415.21 227.01,413.36 227.07,413.42 227.12,414.48 227.18,412.80 227.24,412.06 227.29,411.92 227.35,414.10 227.40,413.50 227.46,409.99 227.52,415.65 227.57,413.51 227.63,412.44 227.68,413.66 227.74,412.86 227.80,413.67 227.85,412.74 227.91,411.90 227.96,414.37 228.02,413.71 228.08,414.14 228.13,414.72 228.19,414.12 228.24,415.95 228.30,412.92 228.35,411.38 228.41,411.40 228.47,412.11 228.52,415.77 228.58,411.76 228.63,415.40 228.69,414.35 228.75,411.29 228.80,416.04 228.86,412.96 228.91,413.88 228.97,414.60 229.03,415.79 229.08,413.71 229.14,415.16 229.19,412.74 229.25,412.48 229.30,416.70 229.36,415.31 229.42,415.02 229.47,416.44 229.53,416.35 229.58,414.42 229.64,414.92 229.70,417.26 229.75,415.49 229.81,413.81 229.86,416.60 229.92,416.16 229.98,412.15 230.03,412.60 230.09,417.34 230.14,416.92 230.20,414.17 230.25,416.70 230.31,415.22 230.37,415.55 230.42,413.95 230.48,418.92 230.53,418.41 230.59,416.87 230.65,413.30 230.70,415.19 230.76,417.69 230.81,414.19 230.87,413.86 230.93,415.40 230.98,415.56 231.04,414.35 231.09,413.14 231.15,414.84 231.20,414.25 231.26,415.20 231.32,415.75 231.37,416.62 231.43,414.77 231.48,415.67 231.54,415.60 231.60,413.75 231.65,414.47 231.71,413.88 231.76,417.79 231.82,414.41 231.88,416.26 231.93,416.62 231.99,416.71 232.04,413.45 232.10,414.08 232.15,416.54 232.21,417.23 232.27,415.42 232.32,416.19 232.38,412.85 232.43,417.81 232.49,418.41 232.55,415.94 232.60,415.53 232.66,415.36 232.71,414.40 232.77,412.33 232.83,416.16 232.88,416.50 232.94,418.43 232.99,415.29 233.05,414.35 233.11,416.12 233.16,413.87 233.22,415.69 233.27,413.38 233.33,415.25 233.38,417.45 233.44,416.81 233.50,418.24 233.55,418.57 233.61,415.44 233.66,414.52 233.72,412.83 233.78,416.00 233.83,416.30 233.89,417.69 233.94,414.42 234.00,415.37 234.06,416.93 234.11,414.94 234.17,415.16 234.22,418.97 234.28,414.91 234.33,415.87 234.39,416.71 234.45,416.77 234.50,413.41 234.56,413.76 234.61,413.32 234.67,417.98 234.73,417.22 234.78,414.81 234.84,418.12 234.89,417.37 234.95,419.08 235.01,413.41 235.06,414.65 235.12,415.61 235.17,416.00 235.23,417.00 235.28,416.99 235.34,415.43 235.40,417.51 235.45,414.52 235.51,417.20 235.56,417.81 235.62,414.46 235.68,416.71 235.73,415.65 235.79,417.16 235.84,420.02 235.90,415.71 235.96,418.65 236.01,414.92 236.07,419.00 236.12,419.50 236.18,416.16 236.23,416.00 236.29,416.50 236.35,418.56 236.40,415.33 236.46,418.97 236.51,417.45 236.57,417.96 236.63,417.35 236.68,415.47 236.74,417.77 236.79,415.95 236.85,415.77 236.91,419.47 236.96,418.65 237.02,417.47 237.07,417.80 237.13,416.44 237.18,419.89 237.24,415.84 237.30,415.82 237.35,417.23 237.41,419.11 237.46,417.00 237.52,417.85 237.58,416.17 237.63,417.19 237.69,415.96 237.74,417.75 237.80,414.90 237.86,420.64 237.91,418.68 237.97,416.40 238.02,419.47 238.08,416.06 238.14,419.05 238.19,417.07 238.25,418.62 238.30,417.92 238.36,417.00 238.41,417.44 238.47,417.87 238.53,414.04 238.58,417.31 238.64,418.81 238.69,415.95 238.75,416.12 238.81,415.53 238.86,414.69 238.92,418.84 238.97,415.83 239.03,415.72 239.09,417.46 239.14,417.11 239.20,422.03 239.25,418.38 239.31,414.82 239.36,420.24 239.42,418.36 239.48,417.13 239.53,416.72 239.59,415.14 239.64,420.27 239.70,417.57 239.76,416.35 239.81,419.64 239.87,417.73 239.92,414.85 239.98,415.72 240.04,416.91 240.09,421.66 240.15,417.95 240.20,417.18 240.26,418.24 240.31,417.89 240.37,413.18 240.43,418.15 240.48,419.29 240.54,417.49 240.59,418.34 240.65,418.35 240.71,418.03 240.76,416.76 240.82,417.57 240.87,419.74 240.93,418.16 240.99,417.26 241.04,418.69 241.10,416.29 241.15,416.86 241.21,419.51 241.26,417.57 241.32,415.10 241.38,415.75 241.43,418.17 241.49,416.77 241.54,419.12 241.60,420.29 241.66,417.32 241.71,417.80 241.77,417.41 241.82,418.23 241.88,417.72 241.94,418.98 241.99,417.53 242.05,417.01 242.10,418.35 242.16,417.07 242.21,420.92 242.27,419.47 242.33,416.18 242.38,415.73 242.44,417.98 242.49,418.52 242.55,420.26 242.61,417.86 242.66,417.26 242.72,420.61 242.77,417.61 242.83,417.73 242.89,417.82 242.94,420.14 243.00,417.70 243.05,420.72 243.11,416.33 243.17,418.34 243.22,420.27 243.28,416.59 243.33,416.88 243.39,419.55 243.44,415.37 243.50,420.10 243.56,418.18 243.61,416.91 243.67,422.00 243.72,417.21 243.78,418.79 243.84,418.73 243.89,420.30 243.95,418.25 244.00,420.38 244.06,420.18 244.12,419.43 244.17,420.59 244.23,416.50 244.28,420.76 244.34,419.94 244.39,419.31 244.45,418.86 244.51,417.72 244.56,417.69 244.62,419.35 244.67,419.48 244.73,418.88 244.79,417.75 244.84,417.94 244.90,419.72 244.95,421.98 245.01,415.88 245.07,417.63 245.12,418.65 245.18,418.55 245.23,419.81 245.29,420.52 245.34,419.57 245.40,419.42 245.46,420.02 245.51,421.24 245.57,419.59 245.62,418.32 245.68,419.88 245.74,419.15 245.79,422.19 245.85,419.51 245.90,419.40 245.96,421.01 246.02,421.75 246.07,418.67 246.13,420.45 246.18,418.58 246.24,419.91 246.29,418.42 246.35,419.82 246.41,421.52 246.46,419.48 246.52,419.84 246.57,418.44 246.63,420.05 246.69,419.98 246.74,418.19 246.80,417.76 246.85,418.36 246.91,417.98 246.97,418.83 247.02,418.39 247.08,418.25 247.13,418.94 247.19,419.44 247.24,419.34 247.30,416.11 247.36,419.56 247.41,419.93 247.47,420.12 247.52,419.66 247.58,419.28 247.64,421.26 247.69,422.49 247.75,419.25 247.80,421.98 247.86,419.33 247.92,419.51 247.97,418.08 248.03,417.36 248.08,419.23 248.14,420.55 248.20,421.45 248.25,420.92 248.31,419.75 248.36,422.76 248.42,419.72 248.47,419.86 248.53,418.94 248.59,420.35 248.64,419.74 248.70,420.94 248.75,420.57 248.81,422.44 248.87,419.76 248.92,417.76 248.98,419.74 249.03,419.46 249.09,421.38 249.15,417.98 249.20,421.11 249.26,418.90 249.31,419.90 249.37,421.42 249.42,418.62 249.48,420.07 249.54,419.85 249.59,419.48 249.65,420.16 249.70,420.68 249.76,419.50 249.82,420.74 249.87,420.09 249.93,421.14 249.98,422.31 250.04,421.17 250.10,420.93 250.15,420.23 250.21,418.60 250.26,422.65 250.32,420.11 250.37,423.41 250.43,421.78 250.49,421.04 250.54,423.50 250.60,422.96 250.65,420.15 250.71,420.27 250.77,420.56 250.82,421.53 250.88,417.41 250.93,420.66 250.99,421.65 251.05,418.12 251.10,419.62 251.16,421.01 251.21,418.84 251.27,420.30 251.32,419.63 251.38,420.22 251.44,421.99 251.49,419.22 251.55,420.36 251.60,422.00 251.66,421.67 251.72,419.30 251.77,421.15 251.83,420.59 251.88,419.76 251.94,420.50 252.00,422.81 252.05,419.82 252.11,419.42 252.16,419.53 252.22,418.51 252.27,420.25 252.33,419.70 252.39,418.59 252.44,421.20 252.50,418.41 252.55,418.43 252.61,419.76 252.67,418.31 252.72,419.69 252.78,422.09 252.83,419.32 252.89,420.45 252.95,420.35 253.00,420.72 253.06,419.07 253.11,420.19 253.17,421.92 253.23,420.31 253.28,419.99 253.34,422.00 253.39,421.62 253.45,421.56 253.50,421.88 253.56,420.58 253.62,419.68 253.67,418.49 253.73,419.46 253.78,419.71 253.84,419.56 253.90,419.31 253.95,421.66 254.01,420.21 254.06,420.73 254.12,421.36 254.18,421.82 254.23,421.90 254.29,421.59 254.34,422.92 254.40,420.54 254.45,421.29 254.51,421.13 254.57,420.83 254.62,420.32 254.68,422.12 254.73,421.47 254.79,423.53 254.85,424.37 254.90,424.00 254.96,419.29 255.01,423.87 255.07,420.76 255.13,419.42 255.18,422.05 255.24,419.24 255.29,418.96 255.35,420.19 255.40,418.27 255.46,420.65 255.52,422.49 255.57,420.81 255.63,422.12 255.68,423.29 255.74,423.27 255.80,418.45 255.85,422.30 255.91,421.62 255.96,422.49 256.02,421.42 256.08,421.94 256.13,422.18 256.19,423.27 256.24,423.55 256.30,422.66 256.35,421.28 256.41,418.90 256.47,420.28 256.52,419.26 256.58,421.07 256.63,421.85 256.69,423.52 256.75,421.75 256.80,424.63 256.86,422.18 256.91,419.61 256.97,421.36 257.03,420.30 257.08,422.33 257.14,423.67 257.19,422.48 257.25,422.38 257.30,420.26 257.36,419.25 257.42,422.87 257.47,422.38 257.53,422.10 257.58,422.39 257.64,423.59 257.70,421.82 257.75,421.47 257.81,421.45 257.86,423.58 257.92,422.14 257.98,424.31 258.03,420.80 258.09,423.37 258.14,422.40 258.20,422.64 258.26,422.83 258.31,423.47 258.37,424.41 258.42,419.80 258.48,421.76 258.53,421.76 258.59,419.35 258.65,422.26 258.70,421.41 258.76,422.13 258.81,420.60 258.87,421.51 258.93,421.77 258.98,422.53 259.04,421.84 259.09,420.69 259.15,424.96 259.21,422.41 259.26,422.80 259.32,422.65 259.37,424.86 259.43,421.32 259.48,423.40 259.54,422.60 259.60,422.97 259.65,424.51 259.71,422.92 259.76,424.76 259.82,423.59 259.88,422.78 259.93,422.38 259.99,422.32 260.04,422.58 260.10,419.62 260.16,421.85 260.21,424.02 260.27,423.24 260.32,423.31 260.38,422.69 260.43,423.26 260.49,423.60 260.55,420.35 260.60,422.44 260.66,422.95 260.71,422.85 260.77,422.81 260.83,420.73 260.88,421.93 260.94,421.10 260.99,426.62 261.05,422.16 261.11,421.22 261.16,420.04 261.22,422.57 261.27,424.85 261.33,421.87 261.38,423.42 261.44,424.97 261.50,423.46 261.55,421.31 261.61,421.13 261.66,421.76 261.72,424.05 261.78,419.46 261.83,424.23 261.89,422.83 261.94,424.60 262.00,421.05 262.06,422.19 262.11,421.63 262.17,422.66 262.22,422.88 262.28,422.57 262.33,425.24 262.39,421.54 262.45,421.65 262.50,423.34 262.56,422.86 262.61,422.47 262.67,420.85 262.73,422.32 262.78,422.83 262.84,423.54 262.89,424.83 262.95,423.67 263.01,422.83 263.06,423.25 263.12,422.84 263.17,421.99 263.23,422.40 263.29,422.61 263.34,422.14 263.40,422.75 263.45,423.03 263.51,422.40 263.56,425.22 263.62,421.43 263.68,424.67 263.73,421.97 263.79,423.03 263.84,421.65 263.90,423.02 263.96,424.28 264.01,421.72 264.07,422.86 264.12,422.95 264.18,423.01 264.24,421.85 264.29,422.09 264.35,422.85 264.40,425.11 264.46,423.67 264.51,423.03 264.57,420.90 264.63,422.70 264.68,423.31 264.74,421.69 264.79,423.35 264.85,423.26 264.91,423.03 264.96,425.13 265.02,422.04 265.07,422.72 265.13,423.62 265.19,424.71 265.24,423.01 265.30,421.53 265.35,424.11 265.41,424.65 265.46,422.79 265.52,425.34 265.58,426.13 265.63,423.90 265.69,424.22 265.74,423.71 265.80,424.06 265.86,422.96 265.91,423.67 265.97,424.15 266.02,423.98 266.08,422.62 266.14,422.22 266.19,422.30 266.25,422.57 266.30,427.58 266.36,424.71 266.41,423.86 266.47,423.22 266.53,425.51 266.58,421.72 266.64,423.12 266.69,424.29 266.75,423.32 266.81,423.96 266.86,424.48 266.92,422.91 266.97,424.12 267.03,425.32 267.09,424.36 267.14,423.72 267.20,424.93 267.25,422.03 267.31,424.96 267.36,421.43 267.42,422.51 267.48,424.80 267.53,423.48 267.59,422.18 267.64,423.89 267.70,425.14 267.76,423.53 267.81,421.21 267.87,425.53 267.92,423.01 267.98,423.69 268.04,423.86 268.09,424.20 268.15,424.12 268.20,422.45 268.26,423.00 268.32,424.98 268.37,421.83 268.43,425.36 268.48,422.96 268.54,423.55 268.59,422.31 268.65,423.36 268.71,422.50 268.76,423.84 268.82,422.62 268.87,423.40 268.93,421.19 268.99,424.70 269.04,422.38 269.10,423.29 269.15,423.65 269.21,424.57 269.27,423.33 269.32,425.70 269.38,425.57 269.43,423.03 269.49,425.82 269.54,422.16 269.60,424.26 269.66,423.63 269.71,423.85 269.77,423.44 269.82,424.30 269.88,424.41 269.94,424.13 269.99,422.70 270.05,422.61 270.10,422.44 270.16,423.56 270.22,424.26 270.27,426.07 270.33,423.24 270.38,423.01 270.44,424.53 270.49,423.07 270.55,422.49 270.61,423.95 270.66,422.79 270.72,423.71 270.77,426.19 270.83,424.67 270.89,424.60 270.94,423.47 271.00,425.16 271.05,424.66 271.11,425.30 271.17,424.19 271.22,424.06 271.28,422.97 271.33,423.20 271.39,423.97 271.44,423.88 271.50,424.05 271.56,424.05 271.61,422.33 271.67,427.21 271.72,424.42 271.78,423.84 271.84,422.86 271.89,425.55 271.95,423.82 272.00,423.21 272.06,424.79 272.12,426.56 272.17,424.70 272.23,425.72 272.28,423.50 272.34,425.31 272.39,422.16 272.45,424.13 272.51,425.28 272.56,424.92 272.62,425.64 272.67,423.86 272.73,422.55 272.79,424.60 272.84,423.24 272.90,425.49 272.95,424.00 273.01,421.61 273.07,426.06 273.12,422.91 273.18,422.99 273.23,426.65 273.29,426.12 273.35,425.58 273.40,423.26 273.46,424.94 273.51,424.63 273.57,423.60 273.62,424.31 273.68,424.18 273.74,424.84 273.79,423.13 273.85,425.40 273.90,422.49 273.96,424.89 274.02,425.44 274.07,423.73 274.13,423.97 274.18,426.87 274.24,424.26 274.30,426.13 274.35,425.52 274.41,423.61 274.46,425.57 274.52,424.14 274.57,425.01 274.63,422.28 274.69,424.69 274.74,425.98 274.80,425.90 274.85,425.67 274.91,424.46 274.97,424.62 275.02,423.47 275.08,424.43 275.13,424.48 275.19,424.26 275.25,424.80 275.30,424.31 275.36,423.74 275.41,423.75 275.47,425.32 275.52,426.77 275.58,425.64 275.64,424.37 275.69,427.64 275.75,425.27 275.80,424.19 275.86,425.39 275.92,426.05 275.97,422.68 276.03,423.12 276.08,425.06 276.14,423.21 276.20,423.24 276.25,426.10 276.31,421.63 276.36,425.89 276.42,425.10 276.47,426.09 276.53,424.72 276.59,426.36 276.64,424.83 276.70,423.56 276.75,424.59 276.81,425.15 276.87,423.04 276.92,425.90 276.98,423.73 277.03,425.22 277.09,424.62 277.15,424.85 277.20,424.74 277.26,424.96 277.31,425.81 277.37,425.57 277.42,424.40 277.48,425.05 277.54,426.28 277.59,425.76 277.65,425.75 277.70,425.01 277.76,424.75 277.82,424.86 277.87,425.73 277.93,424.96 277.98,426.58 278.04,428.00 278.10,425.06 278.15,426.93 278.21,426.11 278.26,426.42 278.32,424.30 278.38,426.44 278.43,424.72 278.49,425.61 278.54,426.49 278.60,426.89 278.65,424.53 278.71,424.63 278.77,424.19 278.82,422.97 278.88,424.78 278.93,424.78 278.99,425.25 279.05,425.00 279.10,425.53 279.16,426.16 279.21,422.84 279.27,427.29 279.33,424.86 279.38,424.65 279.44,424.99 279.49,426.28 279.55,425.40 279.60,425.72 279.66,426.43 279.72,425.25 279.77,425.67 279.83,425.85 279.88,424.43 279.94,426.44 280.00,424.73 280.05,425.94 280.11,424.76 280.16,425.17 280.22,424.98 280.28,426.39 280.33,426.16 280.39,426.26 280.44,425.08 280.50,424.43 280.55,424.06 280.61,425.87 280.67,425.21 280.72,427.16 280.78,427.85 280.83,426.31 280.89,426.09 280.95,427.11 281.00,427.37 281.06,424.74 281.11,426.27 281.17,427.28 281.23,422.72 281.28,425.18 281.34,425.74 281.39,424.62 281.45,426.26 281.50,423.59 281.56,427.15 281.62,426.89 281.67,425.57 281.73,426.29 281.78,423.83 281.84,427.25 281.90,426.27 281.95,425.18 282.01,424.81 282.06,424.32 282.12,425.07 282.18,422.97 282.23,426.01 282.29,425.28 282.34,424.52 282.40,425.85 282.45,425.83 282.51,426.03 282.57,426.24 282.62,426.79 282.68,426.15 282.73,427.27 282.79,425.10 282.85,427.33 282.90,423.21 282.96,423.63 283.01,424.31 283.07,425.80 283.13,426.22 283.18,424.19 283.24,425.37 283.29,424.95 283.35,426.39 283.41,424.39 283.46,426.49 283.52,425.48 283.57,427.55 283.63,426.34 283.68,425.05 283.74,426.12 283.80,426.12 283.85,424.74 283.91,425.71 283.96,424.24 284.02,428.00 284.08,425.01 284.13,425.08 284.19,427.38 284.24,427.11 284.30,424.68 284.36,426.86 284.41,426.38 284.47,425.01 284.52,426.05 284.58,425.15 284.63,426.66 284.69,425.36 284.75,424.49 284.80,425.34 284.86,428.00 284.91,424.98 284.97,425.65 285.03,426.73 285.08,424.17 285.14,427.67 285.19,423.64 285.25,426.44 285.31,423.98 285.36,425.79 285.42,427.22 285.47,425.64 285.53,425.38 285.58,425.15 285.64,424.58 285.70,426.76 285.75,425.22 285.81,424.95 285.86,426.07 285.92,426.82 285.98,426.84 286.03,424.95 286.09,424.90 286.14,426.71 286.20,427.28 286.26,424.42 286.31,427.53 286.37,425.63 286.42,426.70 286.48,427.76 286.53,425.68 286.59,426.03 286.65,424.23 286.70,423.31 286.76,426.04 286.81,424.70 286.87,424.68 286.93,426.42 286.98,426.80 287.04,424.07 287.09,426.26 287.15,425.88 287.21,426.18 287.26,426.01 287.32,426.53 287.37,425.04 287.43,424.49 287.48,426.29 287.54,427.40 287.60,425.83 287.65,427.53 287.71,426.60 287.76,424.54 287.82,423.34 287.88,425.49 287.93,427.08 287.99,425.05 288.04,428.00 288.10,426.68 288.16,424.24 288.21,425.10 288.27,427.44 288.32,427.76 288.38,424.99 288.44,425.99 288.49,426.59 288.55,425.49 288.60,426.57 288.66,428.00 288.71,425.06 288.77,426.66 288.83,427.06 288.88,427.42 288.94,425.69 288.99,426.85 289.05,425.28 289.11,426.26 289.16,424.79 289.22,426.40 289.27,426.70 289.33,428.00 289.39,427.19 289.44,425.20 289.50,422.65 289.55,427.36 289.61,427.13 289.66,425.63 289.72,425.48 289.78,426.75 289.83,425.92 289.89,427.77 289.94,426.34 290.00,425.03" fill="none" stroke="#0c1580" stroke-width="1.1" />
<line x1="66.60" y1="248.80" x2="289.80" y2="248.80" stroke="#231f20" stroke-width="1.3" />
<line x1="66.60" y1="428.50" x2="289.80" y2="428.50" stroke="#231f20" stroke-width="1.3" />
<line x1="66.60" y1="248.20" x2="66.60" y2="429.10" stroke="#1d2088" stroke-width="1.3" />
<line x1="289.80" y1="248.20" x2="289.80" y2="429.10" stroke="#ff0000" stroke-width="1.3" />
<line x1="66.60" y1="428.50" x2="70.00" y2="428.50" stroke="#1d2088" stroke-width="1" />
<text x="61.40" y="431.50" font-size="8.5" fill="#2e3192" text-anchor="end" >0</text>
<line x1="66.60" y1="368.90" x2="70.00" y2="368.90" stroke="#1d2088" stroke-width="1" />
<text x="61.40" y="371.90" font-size="8.5" fill="#2e3192" text-anchor="end" >0.5</text>
<line x1="66.60" y1="309.30" x2="70.00" y2="309.30" stroke="#1d2088" stroke-width="1" />
<text x="61.40" y="312.30" font-size="8.5" fill="#2e3192" text-anchor="end" >1.0</text>
<line x1="66.60" y1="249.70" x2="70.00" y2="249.70" stroke="#1d2088" stroke-width="1" />
<text x="61.40" y="252.70" font-size="8.5" fill="#2e3192" text-anchor="end" >1.5</text>
<line x1="66.60" y1="398.70" x2="68.80" y2="398.70" stroke="#1d2088" stroke-width="1" />
<line x1="66.60" y1="339.10" x2="68.80" y2="339.10" stroke="#1d2088" stroke-width="1" />
<line x1="66.60" y1="279.50" x2="68.80" y2="279.50" stroke="#1d2088" stroke-width="1" />
<line x1="289.80" y1="428.50" x2="286.40" y2="428.50" stroke="#ff0000" stroke-width="1" />
<text x="295.20" y="431.50" font-size="8.5" fill="#ff0000" >0</text>
<line x1="289.80" y1="377.30" x2="286.40" y2="377.30" stroke="#ff0000" stroke-width="1" />
<text x="295.20" y="380.30" font-size="8.5" fill="#ff0000" >1.0</text>
<line x1="289.80" y1="326.10" x2="286.40" y2="326.10" stroke="#ff0000" stroke-width="1" />
<text x="295.20" y="329.10" font-size="8.5" fill="#ff0000" >2.0</text>
<line x1="289.80" y1="274.90" x2="286.40" y2="274.90" stroke="#ff0000" stroke-width="1" />
<text x="295.20" y="277.90" font-size="8.5" fill="#ff0000" >3.0</text>
<line x1="289.80" y1="402.90" x2="287.60" y2="402.90" stroke="#ff0000" stroke-width="1" />
<line x1="289.80" y1="351.70" x2="287.60" y2="351.70" stroke="#ff0000" stroke-width="1" />
<line x1="289.80" y1="300.50" x2="287.60" y2="300.50" stroke="#ff0000" stroke-width="1" />
<line x1="66.50" y1="428.50" x2="66.50" y2="425.10" stroke="#231f20" stroke-width="1" />
<text x="66.50" y="439.90" font-size="8.5" fill="#231f20" text-anchor="middle" >–10</text>
<line x1="141.00" y1="428.50" x2="141.00" y2="425.10" stroke="#231f20" stroke-width="1" />
<text x="141.00" y="439.90" font-size="8.5" fill="#231f20" text-anchor="middle" >0</text>
<line x1="215.50" y1="428.50" x2="215.50" y2="425.10" stroke="#231f20" stroke-width="1" />
<text x="215.50" y="439.90" font-size="8.5" fill="#231f20" text-anchor="middle" >10</text>
<line x1="290.00" y1="428.50" x2="290.00" y2="425.10" stroke="#231f20" stroke-width="1" />
<text x="290.00" y="439.90" font-size="8.5" fill="#231f20" text-anchor="middle" >20</text>
<line x1="103.75" y1="428.50" x2="103.75" y2="426.30" stroke="#231f20" stroke-width="1" />
<line x1="178.25" y1="428.50" x2="178.25" y2="426.30" stroke="#231f20" stroke-width="1" />
<line x1="252.75" y1="428.50" x2="252.75" y2="426.30" stroke="#231f20" stroke-width="1" />
<line x1="193.20" y1="257.40" x2="218.50" y2="257.40" stroke="#5b5fae" stroke-width="0.9" />
<line x1="193.20" y1="269.80" x2="218.50" y2="269.80" stroke="#ffb3b3" stroke-width="1.0" />
<text x="224.60" y="260.80" font-size="9.8" fill="#231f20" textLength="47.2" lengthAdjust="spacingAndGlyphs" >Pump pulse</text>
<text x="224.60" y="272.70" font-size="9.8" fill="#231f20" textLength="49.6" lengthAdjust="spacingAndGlyphs" >Signal pulse</text>
<text x="156.60" y="454.80" font-size="10.8" fill="#231f20" textLength="43.8" lengthAdjust="spacingAndGlyphs" >Time (ns)</text>
<text x="38.6" y="399.6" font-size="10.6" fill="#2e3192" transform="rotate(-90 38.6 399.6)" textLength="122.8" lengthAdjust="spacingAndGlyphs">Pump pulse (×10<tspan font-size="6.8" dy="-3.8">3</tspan><tspan dy="3.8"> counts)</tspan></text>
<text x="317.0" y="275.9" font-size="10.6" fill="#ff0000" transform="rotate(90 317.0 275.9)" textLength="125.3" lengthAdjust="spacingAndGlyphs">Signal pulse (×10<tspan font-size="6.8" dy="-3.8">3</tspan><tspan dy="3.8"> counts)</tspan></text>
<text x="0.00" y="245.00" font-size="14.6" fill="#000" font-weight="bold" stroke="#000" stroke-width="0.45">c</text>
<rect x="131.4" y="253.6" width="24.0" height="107.9" fill="none" stroke="#9a9a9a" stroke-width="0.9" stroke-dasharray="3.2 2.2"/>
<line x1="155.40" y1="253.60" x2="386.70" y2="247.90" stroke="#9a9a9a" stroke-width="0.9" stroke-dasharray="3.2 2.2"/>
<line x1="155.40" y1="361.50" x2="386.70" y2="431.00" stroke="#9a9a9a" stroke-width="0.9" stroke-dasharray="3.2 2.2"/>
<clipPath id="clipd"><rect x="424.5" y="248.6" width="222.5" height="180.6"/></clipPath>
<g clip-path="url(#clipd)">
<path d="M422.4 408.6h2.2v2.2h-2.2zM422.6 423.1h2.2v2.2h-2.2zM422.7 423.7h2.2v2.2h-2.2zM422.9 417.8h2.2v2.2h-2.2zM423.1 412.4h2.2v2.2h-2.2zM423.3 417.3h2.2v2.2h-2.2zM423.4 409.2h2.2v2.2h-2.2zM423.6 418.1h2.2v2.2h-2.2zM423.8 413.1h2.2v2.2h-2.2zM423.9 426.6h2.2v2.2h-2.2zM424.1 431.5h2.2v2.2h-2.2zM424.3 416.5h2.2v2.2h-2.2zM424.5 417.5h2.2v2.2h-2.2zM424.6 412.5h2.2v2.2h-2.2zM424.8 419.5h2.2v2.2h-2.2zM425.0 425.3h2.2v2.2h-2.2zM425.2 423.6h2.2v2.2h-2.2zM425.3 428.2h2.2v2.2h-2.2zM425.5 427.5h2.2v2.2h-2.2zM425.7 424.2h2.2v2.2h-2.2zM425.8 423.5h2.2v2.2h-2.2zM426.0 410.5h2.2v2.2h-2.2zM426.2 429.3h2.2v2.2h-2.2zM426.4 419.6h2.2v2.2h-2.2zM426.5 423.9h2.2v2.2h-2.2zM426.7 407.0h2.2v2.2h-2.2zM426.9 416.8h2.2v2.2h-2.2zM427.1 421.8h2.2v2.2h-2.2zM427.2 412.1h2.2v2.2h-2.2zM427.4 418.0h2.2v2.2h-2.2zM427.6 422.3h2.2v2.2h-2.2zM427.7 406.0h2.2v2.2h-2.2zM427.9 412.5h2.2v2.2h-2.2zM428.1 404.2h2.2v2.2h-2.2zM428.3 408.7h2.2v2.2h-2.2zM428.4 411.7h2.2v2.2h-2.2zM428.6 416.7h2.2v2.2h-2.2zM428.8 426.5h2.2v2.2h-2.2zM429.0 411.9h2.2v2.2h-2.2zM429.1 416.9h2.2v2.2h-2.2zM429.3 406.6h2.2v2.2h-2.2zM429.5 417.3h2.2v2.2h-2.2zM429.7 422.7h2.2v2.2h-2.2zM429.8 425.2h2.2v2.2h-2.2zM430.0 411.3h2.2v2.2h-2.2zM430.2 406.4h2.2v2.2h-2.2zM430.3 419.0h2.2v2.2h-2.2zM430.5 411.3h2.2v2.2h-2.2zM430.7 405.3h2.2v2.2h-2.2zM430.9 423.1h2.2v2.2h-2.2zM431.0 419.0h2.2v2.2h-2.2zM431.2 425.2h2.2v2.2h-2.2zM431.4 406.5h2.2v2.2h-2.2zM431.6 402.2h2.2v2.2h-2.2zM431.7 419.6h2.2v2.2h-2.2zM431.9 429.1h2.2v2.2h-2.2zM432.1 417.1h2.2v2.2h-2.2zM432.2 407.5h2.2v2.2h-2.2zM432.4 417.8h2.2v2.2h-2.2zM432.6 418.7h2.2v2.2h-2.2zM432.8 410.0h2.2v2.2h-2.2zM432.9 425.1h2.2v2.2h-2.2zM433.1 414.6h2.2v2.2h-2.2zM433.3 410.1h2.2v2.2h-2.2zM433.5 421.1h2.2v2.2h-2.2zM433.6 421.4h2.2v2.2h-2.2zM433.8 412.6h2.2v2.2h-2.2zM434.0 402.6h2.2v2.2h-2.2zM434.1 416.3h2.2v2.2h-2.2zM434.3 412.6h2.2v2.2h-2.2zM434.5 412.4h2.2v2.2h-2.2zM434.7 421.5h2.2v2.2h-2.2zM434.8 419.3h2.2v2.2h-2.2zM435.0 410.2h2.2v2.2h-2.2zM435.2 404.7h2.2v2.2h-2.2zM435.4 402.7h2.2v2.2h-2.2zM435.5 420.4h2.2v2.2h-2.2zM435.7 404.6h2.2v2.2h-2.2zM435.9 407.2h2.2v2.2h-2.2zM436.0 413.5h2.2v2.2h-2.2zM436.2 409.2h2.2v2.2h-2.2zM436.4 406.3h2.2v2.2h-2.2zM436.6 398.5h2.2v2.2h-2.2zM436.7 410.3h2.2v2.2h-2.2zM436.9 407.8h2.2v2.2h-2.2zM437.1 413.7h2.2v2.2h-2.2zM437.3 414.1h2.2v2.2h-2.2zM437.4 403.1h2.2v2.2h-2.2zM437.6 405.7h2.2v2.2h-2.2zM437.8 420.3h2.2v2.2h-2.2zM438.0 414.3h2.2v2.2h-2.2zM438.1 410.1h2.2v2.2h-2.2zM438.3 423.2h2.2v2.2h-2.2zM438.5 404.8h2.2v2.2h-2.2zM438.6 412.3h2.2v2.2h-2.2zM438.8 410.2h2.2v2.2h-2.2zM439.0 408.7h2.2v2.2h-2.2zM439.2 396.8h2.2v2.2h-2.2zM439.3 410.2h2.2v2.2h-2.2zM439.5 414.0h2.2v2.2h-2.2zM439.7 397.0h2.2v2.2h-2.2zM439.9 415.0h2.2v2.2h-2.2zM440.0 415.1h2.2v2.2h-2.2zM440.2 421.9h2.2v2.2h-2.2zM440.4 401.9h2.2v2.2h-2.2zM440.5 408.4h2.2v2.2h-2.2zM440.7 406.7h2.2v2.2h-2.2zM440.9 409.0h2.2v2.2h-2.2zM441.1 411.3h2.2v2.2h-2.2zM441.2 416.5h2.2v2.2h-2.2zM441.4 416.3h2.2v2.2h-2.2zM441.6 406.5h2.2v2.2h-2.2zM441.8 408.8h2.2v2.2h-2.2zM441.9 396.6h2.2v2.2h-2.2zM442.1 415.8h2.2v2.2h-2.2zM442.3 413.5h2.2v2.2h-2.2zM442.4 417.7h2.2v2.2h-2.2zM442.6 398.3h2.2v2.2h-2.2zM442.8 419.2h2.2v2.2h-2.2zM443.0 402.9h2.2v2.2h-2.2zM443.1 397.5h2.2v2.2h-2.2zM443.3 410.1h2.2v2.2h-2.2zM443.5 403.0h2.2v2.2h-2.2zM443.7 425.9h2.2v2.2h-2.2zM443.8 411.8h2.2v2.2h-2.2zM444.0 421.9h2.2v2.2h-2.2zM444.2 407.1h2.2v2.2h-2.2zM444.3 408.3h2.2v2.2h-2.2zM444.5 414.5h2.2v2.2h-2.2zM444.7 400.6h2.2v2.2h-2.2zM444.9 405.2h2.2v2.2h-2.2zM445.0 412.2h2.2v2.2h-2.2zM445.2 388.9h2.2v2.2h-2.2zM445.4 419.6h2.2v2.2h-2.2zM445.6 409.2h2.2v2.2h-2.2zM445.7 390.6h2.2v2.2h-2.2zM445.9 413.2h2.2v2.2h-2.2zM446.1 404.0h2.2v2.2h-2.2zM446.3 411.7h2.2v2.2h-2.2zM446.4 400.8h2.2v2.2h-2.2zM446.6 403.6h2.2v2.2h-2.2zM446.8 408.9h2.2v2.2h-2.2zM446.9 421.3h2.2v2.2h-2.2zM447.1 411.0h2.2v2.2h-2.2zM447.3 397.1h2.2v2.2h-2.2zM447.5 408.6h2.2v2.2h-2.2zM447.6 401.5h2.2v2.2h-2.2zM447.8 410.3h2.2v2.2h-2.2zM448.0 421.4h2.2v2.2h-2.2zM448.2 402.8h2.2v2.2h-2.2zM448.3 403.6h2.2v2.2h-2.2zM448.5 410.7h2.2v2.2h-2.2zM448.7 414.3h2.2v2.2h-2.2zM448.8 403.6h2.2v2.2h-2.2zM449.0 410.6h2.2v2.2h-2.2zM449.2 402.9h2.2v2.2h-2.2zM449.4 407.3h2.2v2.2h-2.2zM449.5 424.5h2.2v2.2h-2.2zM449.7 406.6h2.2v2.2h-2.2zM449.9 410.1h2.2v2.2h-2.2zM450.1 412.0h2.2v2.2h-2.2zM450.2 401.9h2.2v2.2h-2.2zM450.4 409.0h2.2v2.2h-2.2zM450.6 400.6h2.2v2.2h-2.2zM450.7 396.1h2.2v2.2h-2.2zM450.9 403.6h2.2v2.2h-2.2zM451.1 417.1h2.2v2.2h-2.2zM451.3 410.5h2.2v2.2h-2.2zM451.4 397.2h2.2v2.2h-2.2zM451.6 406.5h2.2v2.2h-2.2zM451.8 410.8h2.2v2.2h-2.2zM452.0 405.0h2.2v2.2h-2.2zM452.1 400.1h2.2v2.2h-2.2zM452.3 402.0h2.2v2.2h-2.2zM452.5 398.8h2.2v2.2h-2.2zM452.6 410.5h2.2v2.2h-2.2zM452.8 406.0h2.2v2.2h-2.2zM453.0 405.7h2.2v2.2h-2.2zM453.2 403.8h2.2v2.2h-2.2zM453.3 420.4h2.2v2.2h-2.2zM453.5 405.3h2.2v2.2h-2.2zM453.7 414.1h2.2v2.2h-2.2zM453.9 392.1h2.2v2.2h-2.2zM454.0 394.5h2.2v2.2h-2.2zM454.2 389.6h2.2v2.2h-2.2zM454.4 396.5h2.2v2.2h-2.2zM454.6 406.8h2.2v2.2h-2.2zM454.7 395.1h2.2v2.2h-2.2zM454.9 404.3h2.2v2.2h-2.2zM455.1 397.7h2.2v2.2h-2.2zM455.2 409.8h2.2v2.2h-2.2zM455.4 407.2h2.2v2.2h-2.2zM455.6 398.6h2.2v2.2h-2.2zM455.8 388.0h2.2v2.2h-2.2zM455.9 402.4h2.2v2.2h-2.2zM456.1 384.0h2.2v2.2h-2.2zM456.3 379.9h2.2v2.2h-2.2zM456.5 412.2h2.2v2.2h-2.2zM456.6 402.1h2.2v2.2h-2.2zM456.8 409.4h2.2v2.2h-2.2zM457.0 402.8h2.2v2.2h-2.2zM457.1 405.9h2.2v2.2h-2.2zM457.3 402.0h2.2v2.2h-2.2zM457.5 393.7h2.2v2.2h-2.2zM457.7 393.8h2.2v2.2h-2.2zM457.8 399.1h2.2v2.2h-2.2zM458.0 401.1h2.2v2.2h-2.2zM458.2 400.1h2.2v2.2h-2.2zM458.4 400.0h2.2v2.2h-2.2zM458.5 396.3h2.2v2.2h-2.2zM458.7 400.8h2.2v2.2h-2.2zM458.9 396.7h2.2v2.2h-2.2zM459.0 411.2h2.2v2.2h-2.2zM459.2 394.2h2.2v2.2h-2.2zM459.4 386.4h2.2v2.2h-2.2zM459.6 398.9h2.2v2.2h-2.2zM459.7 411.7h2.2v2.2h-2.2zM459.9 389.4h2.2v2.2h-2.2zM460.1 402.8h2.2v2.2h-2.2zM460.3 424.1h2.2v2.2h-2.2zM460.4 401.7h2.2v2.2h-2.2zM460.6 395.0h2.2v2.2h-2.2zM460.8 396.7h2.2v2.2h-2.2zM460.9 389.7h2.2v2.2h-2.2zM461.1 394.6h2.2v2.2h-2.2zM461.3 398.6h2.2v2.2h-2.2zM461.5 415.4h2.2v2.2h-2.2zM461.6 408.3h2.2v2.2h-2.2zM461.8 397.9h2.2v2.2h-2.2zM462.0 393.8h2.2v2.2h-2.2zM462.2 407.4h2.2v2.2h-2.2zM462.3 404.0h2.2v2.2h-2.2zM462.5 395.2h2.2v2.2h-2.2zM462.7 414.3h2.2v2.2h-2.2zM462.9 414.5h2.2v2.2h-2.2zM463.0 400.6h2.2v2.2h-2.2zM463.2 396.6h2.2v2.2h-2.2zM463.4 402.4h2.2v2.2h-2.2zM463.5 416.9h2.2v2.2h-2.2zM463.7 398.2h2.2v2.2h-2.2zM463.9 409.0h2.2v2.2h-2.2zM464.1 393.0h2.2v2.2h-2.2zM464.2 399.0h2.2v2.2h-2.2zM464.4 396.0h2.2v2.2h-2.2zM464.6 392.9h2.2v2.2h-2.2zM464.8 402.2h2.2v2.2h-2.2zM464.9 391.2h2.2v2.2h-2.2zM465.1 387.8h2.2v2.2h-2.2zM465.3 394.5h2.2v2.2h-2.2zM465.4 386.9h2.2v2.2h-2.2zM465.6 402.6h2.2v2.2h-2.2zM465.8 390.1h2.2v2.2h-2.2zM466.0 395.2h2.2v2.2h-2.2zM466.1 405.3h2.2v2.2h-2.2zM466.3 397.9h2.2v2.2h-2.2zM466.5 401.4h2.2v2.2h-2.2zM466.7 401.5h2.2v2.2h-2.2zM466.8 396.3h2.2v2.2h-2.2zM467.0 388.4h2.2v2.2h-2.2zM467.2 399.4h2.2v2.2h-2.2zM467.3 395.8h2.2v2.2h-2.2zM467.5 408.5h2.2v2.2h-2.2zM467.7 395.8h2.2v2.2h-2.2zM467.9 394.8h2.2v2.2h-2.2zM468.0 390.0h2.2v2.2h-2.2zM468.2 392.6h2.2v2.2h-2.2zM468.4 385.5h2.2v2.2h-2.2zM468.6 404.1h2.2v2.2h-2.2zM468.7 396.9h2.2v2.2h-2.2zM468.9 406.9h2.2v2.2h-2.2zM469.1 406.0h2.2v2.2h-2.2zM469.2 388.4h2.2v2.2h-2.2zM469.4 403.3h2.2v2.2h-2.2zM469.6 381.4h2.2v2.2h-2.2zM469.8 407.2h2.2v2.2h-2.2zM469.9 392.2h2.2v2.2h-2.2zM470.1 405.0h2.2v2.2h-2.2zM470.3 394.1h2.2v2.2h-2.2zM470.5 403.8h2.2v2.2h-2.2zM470.6 395.1h2.2v2.2h-2.2zM470.8 396.6h2.2v2.2h-2.2zM471.0 398.9h2.2v2.2h-2.2zM471.2 391.0h2.2v2.2h-2.2zM471.3 382.9h2.2v2.2h-2.2zM471.5 399.8h2.2v2.2h-2.2zM471.7 387.8h2.2v2.2h-2.2zM471.8 394.2h2.2v2.2h-2.2zM472.0 395.1h2.2v2.2h-2.2zM472.2 377.1h2.2v2.2h-2.2zM472.4 412.1h2.2v2.2h-2.2zM472.5 400.1h2.2v2.2h-2.2zM472.7 409.1h2.2v2.2h-2.2zM472.9 397.0h2.2v2.2h-2.2zM473.1 396.2h2.2v2.2h-2.2zM473.2 363.6h2.2v2.2h-2.2zM473.4 391.5h2.2v2.2h-2.2zM473.6 379.7h2.2v2.2h-2.2zM473.7 383.7h2.2v2.2h-2.2zM473.9 397.6h2.2v2.2h-2.2zM474.1 390.1h2.2v2.2h-2.2zM474.3 380.5h2.2v2.2h-2.2zM474.4 392.4h2.2v2.2h-2.2zM474.6 392.1h2.2v2.2h-2.2zM474.8 389.6h2.2v2.2h-2.2zM475.0 405.7h2.2v2.2h-2.2zM475.1 400.1h2.2v2.2h-2.2zM475.3 390.8h2.2v2.2h-2.2zM475.5 389.0h2.2v2.2h-2.2zM475.6 400.8h2.2v2.2h-2.2zM475.8 395.9h2.2v2.2h-2.2zM476.0 394.2h2.2v2.2h-2.2zM476.2 394.4h2.2v2.2h-2.2zM476.3 387.5h2.2v2.2h-2.2zM476.5 392.2h2.2v2.2h-2.2zM476.7 391.6h2.2v2.2h-2.2zM476.9 392.8h2.2v2.2h-2.2zM477.0 401.3h2.2v2.2h-2.2zM477.2 390.2h2.2v2.2h-2.2zM477.4 405.5h2.2v2.2h-2.2zM477.5 390.5h2.2v2.2h-2.2zM477.7 397.9h2.2v2.2h-2.2zM477.9 399.1h2.2v2.2h-2.2zM478.1 387.2h2.2v2.2h-2.2zM478.2 397.8h2.2v2.2h-2.2zM478.4 399.2h2.2v2.2h-2.2zM478.6 397.7h2.2v2.2h-2.2zM478.8 391.7h2.2v2.2h-2.2zM478.9 370.0h2.2v2.2h-2.2zM479.1 409.2h2.2v2.2h-2.2zM479.3 392.2h2.2v2.2h-2.2zM479.5 393.9h2.2v2.2h-2.2zM479.6 384.2h2.2v2.2h-2.2zM479.8 394.8h2.2v2.2h-2.2zM480.0 411.7h2.2v2.2h-2.2zM480.1 381.0h2.2v2.2h-2.2zM480.3 400.5h2.2v2.2h-2.2zM480.5 392.1h2.2v2.2h-2.2zM480.7 402.6h2.2v2.2h-2.2zM480.8 400.3h2.2v2.2h-2.2zM481.0 395.4h2.2v2.2h-2.2zM481.2 384.5h2.2v2.2h-2.2zM481.4 384.5h2.2v2.2h-2.2zM481.5 396.1h2.2v2.2h-2.2zM481.7 387.1h2.2v2.2h-2.2zM481.9 394.1h2.2v2.2h-2.2zM482.0 390.2h2.2v2.2h-2.2zM482.2 389.8h2.2v2.2h-2.2zM482.4 386.0h2.2v2.2h-2.2zM482.6 395.9h2.2v2.2h-2.2zM482.7 391.9h2.2v2.2h-2.2zM482.9 389.0h2.2v2.2h-2.2zM483.1 390.0h2.2v2.2h-2.2zM483.3 397.1h2.2v2.2h-2.2zM483.4 376.7h2.2v2.2h-2.2zM483.6 394.3h2.2v2.2h-2.2zM483.8 384.4h2.2v2.2h-2.2zM483.9 388.8h2.2v2.2h-2.2zM484.1 380.5h2.2v2.2h-2.2zM484.3 408.0h2.2v2.2h-2.2zM484.5 373.7h2.2v2.2h-2.2zM484.6 391.9h2.2v2.2h-2.2zM484.8 400.1h2.2v2.2h-2.2zM485.0 389.1h2.2v2.2h-2.2zM485.2 371.8h2.2v2.2h-2.2zM485.3 385.9h2.2v2.2h-2.2zM485.5 399.9h2.2v2.2h-2.2zM485.7 393.6h2.2v2.2h-2.2zM485.8 379.1h2.2v2.2h-2.2zM486.0 401.1h2.2v2.2h-2.2zM486.2 391.2h2.2v2.2h-2.2zM486.4 392.0h2.2v2.2h-2.2zM486.5 372.1h2.2v2.2h-2.2zM486.7 391.9h2.2v2.2h-2.2zM486.9 378.9h2.2v2.2h-2.2zM487.1 394.9h2.2v2.2h-2.2zM487.2 395.9h2.2v2.2h-2.2zM487.4 381.2h2.2v2.2h-2.2zM487.6 384.3h2.2v2.2h-2.2zM487.8 403.2h2.2v2.2h-2.2zM487.9 384.0h2.2v2.2h-2.2zM488.1 383.9h2.2v2.2h-2.2zM488.3 394.0h2.2v2.2h-2.2zM488.4 387.2h2.2v2.2h-2.2zM488.6 386.8h2.2v2.2h-2.2zM488.8 392.8h2.2v2.2h-2.2zM489.0 393.6h2.2v2.2h-2.2zM489.1 394.2h2.2v2.2h-2.2zM489.3 391.0h2.2v2.2h-2.2zM489.5 399.4h2.2v2.2h-2.2zM489.7 389.0h2.2v2.2h-2.2zM489.8 400.7h2.2v2.2h-2.2zM490.0 387.9h2.2v2.2h-2.2zM490.2 389.2h2.2v2.2h-2.2zM490.3 396.8h2.2v2.2h-2.2zM490.5 381.5h2.2v2.2h-2.2zM490.7 372.7h2.2v2.2h-2.2zM490.9 377.6h2.2v2.2h-2.2zM491.0 399.3h2.2v2.2h-2.2zM491.2 377.9h2.2v2.2h-2.2zM491.4 386.4h2.2v2.2h-2.2zM491.6 388.5h2.2v2.2h-2.2zM491.7 392.9h2.2v2.2h-2.2zM491.9 388.1h2.2v2.2h-2.2zM492.1 376.7h2.2v2.2h-2.2zM492.2 383.5h2.2v2.2h-2.2zM492.4 391.2h2.2v2.2h-2.2zM492.6 393.2h2.2v2.2h-2.2zM492.8 391.1h2.2v2.2h-2.2zM492.9 383.0h2.2v2.2h-2.2zM493.1 372.6h2.2v2.2h-2.2zM493.3 396.1h2.2v2.2h-2.2zM493.5 387.6h2.2v2.2h-2.2zM493.6 390.6h2.2v2.2h-2.2zM493.8 393.5h2.2v2.2h-2.2zM494.0 384.2h2.2v2.2h-2.2zM494.2 382.9h2.2v2.2h-2.2zM494.3 398.8h2.2v2.2h-2.2zM494.5 397.1h2.2v2.2h-2.2zM494.7 377.6h2.2v2.2h-2.2zM494.8 384.6h2.2v2.2h-2.2zM495.0 382.9h2.2v2.2h-2.2zM495.2 391.1h2.2v2.2h-2.2zM495.4 390.1h2.2v2.2h-2.2zM495.5 383.3h2.2v2.2h-2.2zM495.7 391.0h2.2v2.2h-2.2zM495.9 395.8h2.2v2.2h-2.2zM496.1 386.9h2.2v2.2h-2.2zM496.2 379.5h2.2v2.2h-2.2zM496.4 395.1h2.2v2.2h-2.2zM496.6 378.2h2.2v2.2h-2.2zM496.7 381.0h2.2v2.2h-2.2zM496.9 393.6h2.2v2.2h-2.2zM497.1 386.5h2.2v2.2h-2.2zM497.3 386.9h2.2v2.2h-2.2zM497.4 381.4h2.2v2.2h-2.2zM497.6 381.1h2.2v2.2h-2.2zM497.8 396.9h2.2v2.2h-2.2zM498.0 397.2h2.2v2.2h-2.2zM498.1 378.0h2.2v2.2h-2.2zM498.3 385.4h2.2v2.2h-2.2zM498.5 382.9h2.2v2.2h-2.2zM498.6 383.5h2.2v2.2h-2.2zM498.8 373.8h2.2v2.2h-2.2zM499.0 395.8h2.2v2.2h-2.2zM499.2 377.3h2.2v2.2h-2.2zM499.3 392.6h2.2v2.2h-2.2zM499.5 380.1h2.2v2.2h-2.2zM499.7 375.2h2.2v2.2h-2.2zM499.9 397.0h2.2v2.2h-2.2zM500.0 382.6h2.2v2.2h-2.2zM500.2 388.1h2.2v2.2h-2.2zM500.4 388.1h2.2v2.2h-2.2zM500.5 385.4h2.2v2.2h-2.2zM500.7 394.2h2.2v2.2h-2.2zM500.9 393.4h2.2v2.2h-2.2zM501.1 380.3h2.2v2.2h-2.2zM501.2 378.8h2.2v2.2h-2.2zM501.4 390.1h2.2v2.2h-2.2zM501.6 397.2h2.2v2.2h-2.2zM501.8 366.9h2.2v2.2h-2.2zM501.9 376.6h2.2v2.2h-2.2zM502.1 382.5h2.2v2.2h-2.2zM502.3 393.6h2.2v2.2h-2.2zM502.5 390.0h2.2v2.2h-2.2zM502.6 383.3h2.2v2.2h-2.2zM502.8 392.9h2.2v2.2h-2.2zM503.0 372.3h2.2v2.2h-2.2zM503.1 384.1h2.2v2.2h-2.2zM503.3 382.0h2.2v2.2h-2.2zM503.5 393.3h2.2v2.2h-2.2zM503.7 392.3h2.2v2.2h-2.2zM503.8 391.3h2.2v2.2h-2.2zM504.0 382.8h2.2v2.2h-2.2zM504.2 387.1h2.2v2.2h-2.2zM504.4 387.2h2.2v2.2h-2.2zM504.5 382.3h2.2v2.2h-2.2zM504.7 383.0h2.2v2.2h-2.2zM504.9 372.9h2.2v2.2h-2.2zM505.0 386.3h2.2v2.2h-2.2zM505.2 392.8h2.2v2.2h-2.2zM505.4 384.8h2.2v2.2h-2.2zM505.6 372.9h2.2v2.2h-2.2zM505.7 389.1h2.2v2.2h-2.2zM505.9 384.2h2.2v2.2h-2.2zM506.1 387.4h2.2v2.2h-2.2zM506.3 381.3h2.2v2.2h-2.2zM506.4 382.4h2.2v2.2h-2.2zM506.6 390.9h2.2v2.2h-2.2zM506.8 386.2h2.2v2.2h-2.2zM506.9 376.9h2.2v2.2h-2.2zM507.1 375.6h2.2v2.2h-2.2zM507.3 376.9h2.2v2.2h-2.2zM507.5 377.4h2.2v2.2h-2.2zM507.6 386.9h2.2v2.2h-2.2zM507.8 387.1h2.2v2.2h-2.2zM508.0 376.8h2.2v2.2h-2.2zM508.2 393.5h2.2v2.2h-2.2zM508.3 384.6h2.2v2.2h-2.2zM508.5 398.9h2.2v2.2h-2.2zM508.7 387.1h2.2v2.2h-2.2zM508.8 389.7h2.2v2.2h-2.2zM509.0 393.6h2.2v2.2h-2.2zM509.2 379.3h2.2v2.2h-2.2zM509.4 389.8h2.2v2.2h-2.2zM509.5 386.8h2.2v2.2h-2.2zM509.7 385.9h2.2v2.2h-2.2zM509.9 389.7h2.2v2.2h-2.2zM510.1 372.5h2.2v2.2h-2.2zM510.2 387.7h2.2v2.2h-2.2zM510.4 382.2h2.2v2.2h-2.2zM510.6 394.2h2.2v2.2h-2.2zM510.8 387.5h2.2v2.2h-2.2zM510.9 386.3h2.2v2.2h-2.2zM511.1 386.1h2.2v2.2h-2.2zM511.3 370.5h2.2v2.2h-2.2zM511.4 382.4h2.2v2.2h-2.2zM511.6 371.1h2.2v2.2h-2.2zM511.8 384.6h2.2v2.2h-2.2zM512.0 384.6h2.2v2.2h-2.2zM512.1 386.6h2.2v2.2h-2.2zM512.3 363.2h2.2v2.2h-2.2zM512.5 370.5h2.2v2.2h-2.2zM512.7 378.9h2.2v2.2h-2.2zM512.8 377.7h2.2v2.2h-2.2zM513.0 389.0h2.2v2.2h-2.2zM513.2 384.5h2.2v2.2h-2.2zM513.3 381.6h2.2v2.2h-2.2zM513.5 382.3h2.2v2.2h-2.2zM513.7 390.1h2.2v2.2h-2.2zM513.9 389.4h2.2v2.2h-2.2zM514.0 379.1h2.2v2.2h-2.2zM514.2 381.8h2.2v2.2h-2.2zM514.4 399.9h2.2v2.2h-2.2zM514.6 382.4h2.2v2.2h-2.2zM514.7 372.9h2.2v2.2h-2.2zM514.9 388.2h2.2v2.2h-2.2zM515.1 381.1h2.2v2.2h-2.2zM515.2 394.6h2.2v2.2h-2.2zM515.4 376.3h2.2v2.2h-2.2zM515.6 391.9h2.2v2.2h-2.2zM515.8 392.9h2.2v2.2h-2.2zM515.9 385.4h2.2v2.2h-2.2zM516.1 364.0h2.2v2.2h-2.2zM516.3 387.7h2.2v2.2h-2.2zM516.5 392.9h2.2v2.2h-2.2zM516.6 379.1h2.2v2.2h-2.2zM516.8 381.0h2.2v2.2h-2.2zM517.0 369.6h2.2v2.2h-2.2zM517.1 392.9h2.2v2.2h-2.2zM517.3 395.4h2.2v2.2h-2.2zM517.5 385.2h2.2v2.2h-2.2zM517.7 379.7h2.2v2.2h-2.2zM517.8 379.8h2.2v2.2h-2.2zM518.0 374.0h2.2v2.2h-2.2zM518.2 396.4h2.2v2.2h-2.2zM518.4 389.2h2.2v2.2h-2.2zM518.5 383.6h2.2v2.2h-2.2zM518.7 375.9h2.2v2.2h-2.2zM518.9 378.8h2.2v2.2h-2.2zM519.1 385.9h2.2v2.2h-2.2zM519.2 390.7h2.2v2.2h-2.2zM519.4 375.5h2.2v2.2h-2.2zM519.6 374.9h2.2v2.2h-2.2zM519.7 360.8h2.2v2.2h-2.2zM519.9 383.9h2.2v2.2h-2.2zM520.1 369.5h2.2v2.2h-2.2zM520.3 392.0h2.2v2.2h-2.2zM520.4 386.7h2.2v2.2h-2.2zM520.6 387.8h2.2v2.2h-2.2zM520.8 386.1h2.2v2.2h-2.2zM521.0 389.3h2.2v2.2h-2.2zM521.1 386.7h2.2v2.2h-2.2zM521.3 382.7h2.2v2.2h-2.2zM521.5 385.9h2.2v2.2h-2.2zM521.6 377.0h2.2v2.2h-2.2zM521.8 382.9h2.2v2.2h-2.2zM522.0 382.3h2.2v2.2h-2.2zM522.2 370.5h2.2v2.2h-2.2zM522.3 379.7h2.2v2.2h-2.2zM522.5 381.0h2.2v2.2h-2.2zM522.7 382.3h2.2v2.2h-2.2zM522.9 381.7h2.2v2.2h-2.2zM523.0 377.6h2.2v2.2h-2.2zM523.2 388.5h2.2v2.2h-2.2zM523.4 373.0h2.2v2.2h-2.2zM523.5 369.6h2.2v2.2h-2.2zM523.7 372.9h2.2v2.2h-2.2zM523.9 386.0h2.2v2.2h-2.2zM524.1 394.8h2.2v2.2h-2.2zM524.2 385.5h2.2v2.2h-2.2zM524.4 367.2h2.2v2.2h-2.2zM524.6 375.4h2.2v2.2h-2.2zM524.8 383.5h2.2v2.2h-2.2zM524.9 384.4h2.2v2.2h-2.2zM525.1 369.9h2.2v2.2h-2.2zM525.3 387.3h2.2v2.2h-2.2zM525.4 373.5h2.2v2.2h-2.2zM525.6 374.8h2.2v2.2h-2.2zM525.8 392.5h2.2v2.2h-2.2zM526.0 379.7h2.2v2.2h-2.2zM526.1 386.4h2.2v2.2h-2.2zM526.3 389.5h2.2v2.2h-2.2zM526.5 396.6h2.2v2.2h-2.2zM526.7 394.4h2.2v2.2h-2.2zM526.8 378.6h2.2v2.2h-2.2zM527.0 385.0h2.2v2.2h-2.2zM527.2 379.7h2.2v2.2h-2.2zM527.4 390.3h2.2v2.2h-2.2zM527.5 384.4h2.2v2.2h-2.2zM527.7 384.0h2.2v2.2h-2.2zM527.9 394.1h2.2v2.2h-2.2zM528.0 395.1h2.2v2.2h-2.2zM528.2 378.3h2.2v2.2h-2.2zM528.4 380.6h2.2v2.2h-2.2zM528.6 389.2h2.2v2.2h-2.2zM528.7 382.6h2.2v2.2h-2.2zM528.9 376.5h2.2v2.2h-2.2zM529.1 367.2h2.2v2.2h-2.2zM529.3 388.9h2.2v2.2h-2.2zM529.4 376.9h2.2v2.2h-2.2zM529.6 364.9h2.2v2.2h-2.2zM529.8 381.2h2.2v2.2h-2.2zM529.9 370.1h2.2v2.2h-2.2zM530.1 402.3h2.2v2.2h-2.2zM530.3 370.2h2.2v2.2h-2.2zM530.5 381.8h2.2v2.2h-2.2zM530.6 396.7h2.2v2.2h-2.2zM530.8 375.5h2.2v2.2h-2.2zM531.0 373.4h2.2v2.2h-2.2zM531.2 372.1h2.2v2.2h-2.2zM531.3 372.2h2.2v2.2h-2.2zM531.5 382.0h2.2v2.2h-2.2zM531.7 387.7h2.2v2.2h-2.2zM531.8 385.4h2.2v2.2h-2.2zM532.0 382.0h2.2v2.2h-2.2zM532.2 378.5h2.2v2.2h-2.2zM532.4 385.5h2.2v2.2h-2.2zM532.5 381.3h2.2v2.2h-2.2zM532.7 374.7h2.2v2.2h-2.2zM532.9 379.1h2.2v2.2h-2.2zM533.1 363.4h2.2v2.2h-2.2zM533.2 364.5h2.2v2.2h-2.2zM533.4 390.8h2.2v2.2h-2.2zM533.6 386.2h2.2v2.2h-2.2zM533.7 392.1h2.2v2.2h-2.2zM533.9 391.0h2.2v2.2h-2.2zM534.1 377.3h2.2v2.2h-2.2zM534.3 389.6h2.2v2.2h-2.2zM534.4 390.0h2.2v2.2h-2.2zM534.6 383.8h2.2v2.2h-2.2zM534.8 375.3h2.2v2.2h-2.2zM535.0 384.5h2.2v2.2h-2.2zM535.1 384.5h2.2v2.2h-2.2zM535.3 374.4h2.2v2.2h-2.2zM535.5 377.9h2.2v2.2h-2.2zM535.7 378.0h2.2v2.2h-2.2zM535.8 374.1h2.2v2.2h-2.2zM536.0 389.8h2.2v2.2h-2.2zM536.2 380.0h2.2v2.2h-2.2zM536.3 386.7h2.2v2.2h-2.2zM536.5 373.5h2.2v2.2h-2.2zM536.7 375.2h2.2v2.2h-2.2zM536.9 390.0h2.2v2.2h-2.2zM537.0 371.0h2.2v2.2h-2.2zM537.2 391.0h2.2v2.2h-2.2zM537.4 372.4h2.2v2.2h-2.2zM537.6 380.1h2.2v2.2h-2.2zM537.7 388.7h2.2v2.2h-2.2zM537.9 390.6h2.2v2.2h-2.2zM538.1 386.5h2.2v2.2h-2.2zM538.2 381.9h2.2v2.2h-2.2zM538.4 387.4h2.2v2.2h-2.2zM538.6 377.2h2.2v2.2h-2.2zM538.8 392.9h2.2v2.2h-2.2zM538.9 381.8h2.2v2.2h-2.2zM539.1 381.7h2.2v2.2h-2.2zM539.3 396.7h2.2v2.2h-2.2zM539.5 379.3h2.2v2.2h-2.2zM539.6 391.8h2.2v2.2h-2.2zM539.8 401.7h2.2v2.2h-2.2zM540.0 386.6h2.2v2.2h-2.2zM540.1 383.6h2.2v2.2h-2.2zM540.3 374.5h2.2v2.2h-2.2zM540.5 385.6h2.2v2.2h-2.2zM540.7 370.0h2.2v2.2h-2.2zM540.8 370.3h2.2v2.2h-2.2zM541.0 373.0h2.2v2.2h-2.2zM541.2 371.2h2.2v2.2h-2.2zM541.4 379.0h2.2v2.2h-2.2zM541.5 386.2h2.2v2.2h-2.2zM541.7 376.6h2.2v2.2h-2.2zM541.9 374.0h2.2v2.2h-2.2zM542.0 379.9h2.2v2.2h-2.2zM542.2 383.8h2.2v2.2h-2.2zM542.4 394.4h2.2v2.2h-2.2zM542.6 376.4h2.2v2.2h-2.2zM542.7 379.0h2.2v2.2h-2.2zM542.9 392.2h2.2v2.2h-2.2zM543.1 381.0h2.2v2.2h-2.2zM543.3 376.0h2.2v2.2h-2.2zM543.4 371.9h2.2v2.2h-2.2zM543.6 375.6h2.2v2.2h-2.2zM543.8 375.8h2.2v2.2h-2.2zM544.0 393.7h2.2v2.2h-2.2zM544.1 384.3h2.2v2.2h-2.2zM544.3 378.0h2.2v2.2h-2.2zM544.5 374.5h2.2v2.2h-2.2zM544.6 370.6h2.2v2.2h-2.2zM544.8 397.3h2.2v2.2h-2.2zM545.0 382.4h2.2v2.2h-2.2zM545.2 376.2h2.2v2.2h-2.2zM545.3 372.1h2.2v2.2h-2.2zM545.5 368.4h2.2v2.2h-2.2zM545.7 389.4h2.2v2.2h-2.2zM545.9 384.9h2.2v2.2h-2.2zM546.0 390.4h2.2v2.2h-2.2zM546.2 375.4h2.2v2.2h-2.2zM546.4 392.6h2.2v2.2h-2.2zM546.5 372.5h2.2v2.2h-2.2zM546.7 374.5h2.2v2.2h-2.2zM546.9 378.1h2.2v2.2h-2.2zM547.1 399.4h2.2v2.2h-2.2zM547.2 387.4h2.2v2.2h-2.2zM547.4 376.0h2.2v2.2h-2.2zM547.6 393.4h2.2v2.2h-2.2zM547.8 384.0h2.2v2.2h-2.2zM547.9 382.9h2.2v2.2h-2.2zM548.1 374.9h2.2v2.2h-2.2zM548.3 379.8h2.2v2.2h-2.2zM548.4 379.9h2.2v2.2h-2.2zM548.6 385.6h2.2v2.2h-2.2zM548.8 382.0h2.2v2.2h-2.2zM549.0 383.2h2.2v2.2h-2.2zM549.1 376.3h2.2v2.2h-2.2zM549.3 383.6h2.2v2.2h-2.2zM549.5 373.8h2.2v2.2h-2.2zM549.7 395.8h2.2v2.2h-2.2zM549.8 372.5h2.2v2.2h-2.2zM550.0 383.5h2.2v2.2h-2.2zM550.2 373.1h2.2v2.2h-2.2zM550.3 381.5h2.2v2.2h-2.2zM550.5 375.3h2.2v2.2h-2.2zM550.7 370.2h2.2v2.2h-2.2zM550.9 386.7h2.2v2.2h-2.2zM551.0 381.6h2.2v2.2h-2.2zM551.2 383.6h2.2v2.2h-2.2zM551.4 380.6h2.2v2.2h-2.2zM551.6 395.3h2.2v2.2h-2.2zM551.7 383.7h2.2v2.2h-2.2zM551.9 384.3h2.2v2.2h-2.2zM552.1 388.6h2.2v2.2h-2.2zM552.3 383.9h2.2v2.2h-2.2zM552.4 394.7h2.2v2.2h-2.2zM552.6 371.1h2.2v2.2h-2.2zM552.8 379.2h2.2v2.2h-2.2zM552.9 367.2h2.2v2.2h-2.2zM553.1 389.4h2.2v2.2h-2.2zM553.3 391.8h2.2v2.2h-2.2zM553.5 380.1h2.2v2.2h-2.2zM553.6 395.8h2.2v2.2h-2.2zM553.8 380.6h2.2v2.2h-2.2zM554.0 388.1h2.2v2.2h-2.2zM554.2 385.2h2.2v2.2h-2.2zM554.3 380.4h2.2v2.2h-2.2zM554.5 382.1h2.2v2.2h-2.2zM554.7 367.6h2.2v2.2h-2.2zM554.8 377.5h2.2v2.2h-2.2zM555.0 392.9h2.2v2.2h-2.2zM555.2 374.7h2.2v2.2h-2.2zM555.4 393.3h2.2v2.2h-2.2zM555.5 381.9h2.2v2.2h-2.2zM555.7 392.6h2.2v2.2h-2.2zM555.9 389.3h2.2v2.2h-2.2zM556.1 372.1h2.2v2.2h-2.2zM556.2 387.1h2.2v2.2h-2.2zM556.4 387.8h2.2v2.2h-2.2zM556.6 387.2h2.2v2.2h-2.2zM556.7 385.2h2.2v2.2h-2.2zM556.9 371.1h2.2v2.2h-2.2zM557.1 392.2h2.2v2.2h-2.2zM557.3 392.7h2.2v2.2h-2.2zM557.4 378.1h2.2v2.2h-2.2zM557.6 395.6h2.2v2.2h-2.2zM557.8 385.7h2.2v2.2h-2.2zM558.0 373.7h2.2v2.2h-2.2zM558.1 382.8h2.2v2.2h-2.2zM558.3 386.7h2.2v2.2h-2.2zM558.5 388.6h2.2v2.2h-2.2zM558.6 390.3h2.2v2.2h-2.2zM558.8 387.7h2.2v2.2h-2.2zM559.0 381.9h2.2v2.2h-2.2zM559.2 373.0h2.2v2.2h-2.2zM559.3 375.2h2.2v2.2h-2.2zM559.5 387.5h2.2v2.2h-2.2zM559.7 388.9h2.2v2.2h-2.2zM559.9 377.5h2.2v2.2h-2.2zM560.0 397.6h2.2v2.2h-2.2zM560.2 386.6h2.2v2.2h-2.2zM560.4 385.7h2.2v2.2h-2.2zM560.6 392.1h2.2v2.2h-2.2zM560.7 391.2h2.2v2.2h-2.2zM560.9 380.4h2.2v2.2h-2.2zM561.1 392.6h2.2v2.2h-2.2zM561.2 390.6h2.2v2.2h-2.2zM561.4 388.5h2.2v2.2h-2.2zM561.6 382.6h2.2v2.2h-2.2zM561.8 394.3h2.2v2.2h-2.2zM561.9 374.6h2.2v2.2h-2.2zM562.1 385.8h2.2v2.2h-2.2zM562.3 385.5h2.2v2.2h-2.2zM562.5 386.3h2.2v2.2h-2.2zM562.6 388.8h2.2v2.2h-2.2zM562.8 391.3h2.2v2.2h-2.2zM563.0 374.3h2.2v2.2h-2.2zM563.1 381.9h2.2v2.2h-2.2zM563.3 384.4h2.2v2.2h-2.2zM563.5 375.6h2.2v2.2h-2.2zM563.7 389.3h2.2v2.2h-2.2zM563.8 378.6h2.2v2.2h-2.2zM564.0 383.5h2.2v2.2h-2.2zM564.2 390.8h2.2v2.2h-2.2zM564.4 366.0h2.2v2.2h-2.2zM564.5 395.7h2.2v2.2h-2.2zM564.7 378.5h2.2v2.2h-2.2zM564.9 390.9h2.2v2.2h-2.2zM565.0 380.5h2.2v2.2h-2.2zM565.2 372.8h2.2v2.2h-2.2zM565.4 379.3h2.2v2.2h-2.2zM565.6 388.7h2.2v2.2h-2.2zM565.7 384.2h2.2v2.2h-2.2zM565.9 386.9h2.2v2.2h-2.2zM566.1 393.4h2.2v2.2h-2.2zM566.3 392.9h2.2v2.2h-2.2zM566.4 383.7h2.2v2.2h-2.2zM566.6 379.8h2.2v2.2h-2.2zM566.8 398.2h2.2v2.2h-2.2zM566.9 384.7h2.2v2.2h-2.2zM567.1 380.1h2.2v2.2h-2.2zM567.3 383.3h2.2v2.2h-2.2zM567.5 392.2h2.2v2.2h-2.2zM567.6 376.0h2.2v2.2h-2.2zM567.8 394.0h2.2v2.2h-2.2zM568.0 379.1h2.2v2.2h-2.2zM568.2 371.5h2.2v2.2h-2.2zM568.3 400.7h2.2v2.2h-2.2zM568.5 382.3h2.2v2.2h-2.2zM568.7 381.9h2.2v2.2h-2.2zM568.9 382.6h2.2v2.2h-2.2zM569.0 390.6h2.2v2.2h-2.2zM569.2 392.5h2.2v2.2h-2.2zM569.4 395.7h2.2v2.2h-2.2zM569.5 383.5h2.2v2.2h-2.2zM569.7 380.3h2.2v2.2h-2.2zM569.9 389.9h2.2v2.2h-2.2zM570.1 392.0h2.2v2.2h-2.2zM570.2 388.4h2.2v2.2h-2.2zM570.4 385.1h2.2v2.2h-2.2zM570.6 384.2h2.2v2.2h-2.2zM570.8 385.6h2.2v2.2h-2.2zM570.9 384.2h2.2v2.2h-2.2zM571.1 395.3h2.2v2.2h-2.2zM571.3 406.6h2.2v2.2h-2.2zM571.4 379.9h2.2v2.2h-2.2zM571.6 373.5h2.2v2.2h-2.2zM571.8 396.2h2.2v2.2h-2.2zM572.0 390.3h2.2v2.2h-2.2zM572.1 382.6h2.2v2.2h-2.2zM572.3 377.4h2.2v2.2h-2.2zM572.5 379.9h2.2v2.2h-2.2zM572.7 374.9h2.2v2.2h-2.2zM572.8 385.5h2.2v2.2h-2.2zM573.0 381.8h2.2v2.2h-2.2zM573.2 381.9h2.2v2.2h-2.2zM573.3 385.4h2.2v2.2h-2.2zM573.5 375.6h2.2v2.2h-2.2zM573.7 380.3h2.2v2.2h-2.2zM573.9 377.5h2.2v2.2h-2.2zM574.0 388.4h2.2v2.2h-2.2zM574.2 377.1h2.2v2.2h-2.2zM574.4 393.7h2.2v2.2h-2.2zM574.6 382.2h2.2v2.2h-2.2zM574.7 406.2h2.2v2.2h-2.2zM574.9 393.5h2.2v2.2h-2.2zM575.1 379.6h2.2v2.2h-2.2zM575.2 389.1h2.2v2.2h-2.2zM575.4 384.1h2.2v2.2h-2.2zM575.6 398.5h2.2v2.2h-2.2zM575.8 373.3h2.2v2.2h-2.2zM575.9 380.9h2.2v2.2h-2.2zM576.1 385.8h2.2v2.2h-2.2zM576.3 382.4h2.2v2.2h-2.2zM576.5 383.1h2.2v2.2h-2.2zM576.6 374.5h2.2v2.2h-2.2zM576.8 384.0h2.2v2.2h-2.2zM577.0 397.5h2.2v2.2h-2.2zM577.2 387.8h2.2v2.2h-2.2zM577.3 375.6h2.2v2.2h-2.2zM577.5 381.3h2.2v2.2h-2.2zM577.7 389.2h2.2v2.2h-2.2zM577.8 381.1h2.2v2.2h-2.2zM578.0 385.0h2.2v2.2h-2.2zM578.2 381.1h2.2v2.2h-2.2zM578.4 398.6h2.2v2.2h-2.2zM578.5 393.2h2.2v2.2h-2.2zM578.7 380.8h2.2v2.2h-2.2zM578.9 387.9h2.2v2.2h-2.2zM579.1 383.3h2.2v2.2h-2.2zM579.2 370.6h2.2v2.2h-2.2zM579.4 388.7h2.2v2.2h-2.2zM579.6 384.3h2.2v2.2h-2.2zM579.7 390.7h2.2v2.2h-2.2zM579.9 391.3h2.2v2.2h-2.2zM580.1 386.9h2.2v2.2h-2.2zM580.3 397.9h2.2v2.2h-2.2zM580.4 403.1h2.2v2.2h-2.2zM580.6 375.6h2.2v2.2h-2.2zM580.8 387.3h2.2v2.2h-2.2zM581.0 377.5h2.2v2.2h-2.2zM581.1 385.5h2.2v2.2h-2.2zM581.3 385.3h2.2v2.2h-2.2zM581.5 381.2h2.2v2.2h-2.2zM581.6 380.9h2.2v2.2h-2.2zM581.8 396.2h2.2v2.2h-2.2zM582.0 377.1h2.2v2.2h-2.2zM582.2 394.4h2.2v2.2h-2.2zM582.3 385.1h2.2v2.2h-2.2zM582.5 366.5h2.2v2.2h-2.2zM582.7 386.1h2.2v2.2h-2.2zM582.9 373.6h2.2v2.2h-2.2zM583.0 389.6h2.2v2.2h-2.2zM583.2 382.0h2.2v2.2h-2.2zM583.4 386.5h2.2v2.2h-2.2zM583.6 383.6h2.2v2.2h-2.2zM583.7 393.8h2.2v2.2h-2.2zM583.9 391.9h2.2v2.2h-2.2zM584.1 384.4h2.2v2.2h-2.2zM584.2 399.5h2.2v2.2h-2.2zM584.4 393.8h2.2v2.2h-2.2zM584.6 382.0h2.2v2.2h-2.2zM584.8 392.1h2.2v2.2h-2.2zM584.9 394.3h2.2v2.2h-2.2zM585.1 396.0h2.2v2.2h-2.2zM585.3 386.1h2.2v2.2h-2.2zM585.5 390.2h2.2v2.2h-2.2zM585.6 386.2h2.2v2.2h-2.2zM585.8 388.9h2.2v2.2h-2.2zM586.0 372.7h2.2v2.2h-2.2zM586.1 390.9h2.2v2.2h-2.2zM586.3 403.0h2.2v2.2h-2.2zM586.5 386.6h2.2v2.2h-2.2zM586.7 387.5h2.2v2.2h-2.2zM586.8 386.3h2.2v2.2h-2.2zM587.0 400.3h2.2v2.2h-2.2zM587.2 378.7h2.2v2.2h-2.2zM587.4 387.9h2.2v2.2h-2.2zM587.5 388.1h2.2v2.2h-2.2zM587.7 400.3h2.2v2.2h-2.2zM587.9 376.0h2.2v2.2h-2.2zM588.0 388.3h2.2v2.2h-2.2zM588.2 377.2h2.2v2.2h-2.2zM588.4 391.2h2.2v2.2h-2.2zM588.6 397.7h2.2v2.2h-2.2zM588.7 387.0h2.2v2.2h-2.2zM588.9 395.2h2.2v2.2h-2.2zM589.1 384.8h2.2v2.2h-2.2zM589.3 396.7h2.2v2.2h-2.2zM589.4 389.1h2.2v2.2h-2.2zM589.6 389.9h2.2v2.2h-2.2zM589.8 388.5h2.2v2.2h-2.2zM589.9 392.3h2.2v2.2h-2.2zM590.1 394.7h2.2v2.2h-2.2zM590.3 388.8h2.2v2.2h-2.2zM590.5 392.9h2.2v2.2h-2.2zM590.6 387.2h2.2v2.2h-2.2zM590.8 390.6h2.2v2.2h-2.2zM591.0 406.2h2.2v2.2h-2.2zM591.2 389.0h2.2v2.2h-2.2zM591.3 377.6h2.2v2.2h-2.2zM591.5 386.2h2.2v2.2h-2.2zM591.7 383.9h2.2v2.2h-2.2zM591.9 385.0h2.2v2.2h-2.2zM592.0 392.4h2.2v2.2h-2.2zM592.2 399.2h2.2v2.2h-2.2zM592.4 382.4h2.2v2.2h-2.2zM592.5 380.5h2.2v2.2h-2.2zM592.7 384.4h2.2v2.2h-2.2zM592.9 385.5h2.2v2.2h-2.2zM593.1 385.8h2.2v2.2h-2.2zM593.2 389.2h2.2v2.2h-2.2zM593.4 386.8h2.2v2.2h-2.2zM593.6 388.9h2.2v2.2h-2.2zM593.8 386.5h2.2v2.2h-2.2zM593.9 396.5h2.2v2.2h-2.2zM594.1 394.1h2.2v2.2h-2.2zM594.3 384.7h2.2v2.2h-2.2zM594.4 391.9h2.2v2.2h-2.2zM594.6 408.3h2.2v2.2h-2.2zM594.8 388.3h2.2v2.2h-2.2zM595.0 407.3h2.2v2.2h-2.2zM595.1 374.4h2.2v2.2h-2.2zM595.3 383.8h2.2v2.2h-2.2zM595.5 384.2h2.2v2.2h-2.2zM595.7 394.7h2.2v2.2h-2.2zM595.8 398.4h2.2v2.2h-2.2zM596.0 391.2h2.2v2.2h-2.2zM596.2 389.5h2.2v2.2h-2.2zM596.3 395.7h2.2v2.2h-2.2zM596.5 388.4h2.2v2.2h-2.2zM596.7 384.3h2.2v2.2h-2.2zM596.9 385.1h2.2v2.2h-2.2zM597.0 397.9h2.2v2.2h-2.2zM597.2 406.8h2.2v2.2h-2.2zM597.4 389.9h2.2v2.2h-2.2zM597.6 395.1h2.2v2.2h-2.2zM597.7 386.5h2.2v2.2h-2.2zM597.9 377.2h2.2v2.2h-2.2zM598.1 377.2h2.2v2.2h-2.2zM598.2 387.8h2.2v2.2h-2.2zM598.4 381.5h2.2v2.2h-2.2zM598.6 377.3h2.2v2.2h-2.2zM598.8 389.8h2.2v2.2h-2.2zM598.9 388.1h2.2v2.2h-2.2zM599.1 383.6h2.2v2.2h-2.2zM599.3 390.6h2.2v2.2h-2.2zM599.5 394.2h2.2v2.2h-2.2zM599.6 396.2h2.2v2.2h-2.2zM599.8 390.4h2.2v2.2h-2.2zM600.0 395.3h2.2v2.2h-2.2zM600.2 384.3h2.2v2.2h-2.2zM600.3 393.1h2.2v2.2h-2.2zM600.5 379.2h2.2v2.2h-2.2zM600.7 381.2h2.2v2.2h-2.2zM600.8 400.3h2.2v2.2h-2.2zM601.0 382.3h2.2v2.2h-2.2zM601.2 393.9h2.2v2.2h-2.2zM601.4 380.1h2.2v2.2h-2.2zM601.5 386.8h2.2v2.2h-2.2zM601.7 391.2h2.2v2.2h-2.2zM601.9 385.7h2.2v2.2h-2.2zM602.1 395.3h2.2v2.2h-2.2zM602.2 388.4h2.2v2.2h-2.2zM602.4 388.0h2.2v2.2h-2.2zM602.6 392.2h2.2v2.2h-2.2zM602.7 388.1h2.2v2.2h-2.2zM602.9 398.9h2.2v2.2h-2.2zM603.1 386.8h2.2v2.2h-2.2zM603.3 400.6h2.2v2.2h-2.2zM603.4 386.4h2.2v2.2h-2.2zM603.6 387.6h2.2v2.2h-2.2zM603.8 385.8h2.2v2.2h-2.2zM604.0 395.7h2.2v2.2h-2.2zM604.1 367.9h2.2v2.2h-2.2zM604.3 393.2h2.2v2.2h-2.2zM604.5 390.3h2.2v2.2h-2.2zM604.6 397.4h2.2v2.2h-2.2zM604.8 380.5h2.2v2.2h-2.2zM605.0 395.2h2.2v2.2h-2.2zM605.2 383.9h2.2v2.2h-2.2zM605.3 399.0h2.2v2.2h-2.2zM605.5 389.3h2.2v2.2h-2.2zM605.7 394.6h2.2v2.2h-2.2zM605.9 384.6h2.2v2.2h-2.2zM606.0 394.1h2.2v2.2h-2.2zM606.2 398.5h2.2v2.2h-2.2zM606.4 388.4h2.2v2.2h-2.2zM606.5 401.2h2.2v2.2h-2.2zM606.7 399.4h2.2v2.2h-2.2zM606.9 386.1h2.2v2.2h-2.2zM607.1 406.5h2.2v2.2h-2.2zM607.2 386.3h2.2v2.2h-2.2zM607.4 395.2h2.2v2.2h-2.2zM607.6 399.3h2.2v2.2h-2.2zM607.8 390.4h2.2v2.2h-2.2zM607.9 387.4h2.2v2.2h-2.2zM608.1 396.8h2.2v2.2h-2.2zM608.3 393.7h2.2v2.2h-2.2zM608.5 386.2h2.2v2.2h-2.2zM608.6 386.6h2.2v2.2h-2.2zM608.8 392.9h2.2v2.2h-2.2zM609.0 398.5h2.2v2.2h-2.2zM609.1 399.9h2.2v2.2h-2.2zM609.3 391.4h2.2v2.2h-2.2zM609.5 387.4h2.2v2.2h-2.2zM609.7 388.3h2.2v2.2h-2.2zM609.8 390.4h2.2v2.2h-2.2zM610.0 382.1h2.2v2.2h-2.2zM610.2 395.1h2.2v2.2h-2.2zM610.4 395.8h2.2v2.2h-2.2zM610.5 398.5h2.2v2.2h-2.2zM610.7 378.3h2.2v2.2h-2.2zM610.9 408.8h2.2v2.2h-2.2zM611.0 390.8h2.2v2.2h-2.2zM611.2 389.7h2.2v2.2h-2.2zM611.4 392.7h2.2v2.2h-2.2zM611.6 375.2h2.2v2.2h-2.2zM611.7 384.2h2.2v2.2h-2.2zM611.9 387.3h2.2v2.2h-2.2zM612.1 400.2h2.2v2.2h-2.2zM612.3 389.5h2.2v2.2h-2.2zM612.4 396.2h2.2v2.2h-2.2zM612.6 393.1h2.2v2.2h-2.2zM612.8 391.9h2.2v2.2h-2.2zM612.9 397.2h2.2v2.2h-2.2zM613.1 388.7h2.2v2.2h-2.2zM613.3 381.1h2.2v2.2h-2.2zM613.5 385.7h2.2v2.2h-2.2zM613.6 396.5h2.2v2.2h-2.2zM613.8 408.5h2.2v2.2h-2.2zM614.0 385.5h2.2v2.2h-2.2zM614.2 385.6h2.2v2.2h-2.2zM614.3 395.4h2.2v2.2h-2.2zM614.5 397.6h2.2v2.2h-2.2zM614.7 388.9h2.2v2.2h-2.2zM614.8 400.2h2.2v2.2h-2.2zM615.0 388.0h2.2v2.2h-2.2zM615.2 402.4h2.2v2.2h-2.2zM615.4 401.2h2.2v2.2h-2.2zM615.5 394.1h2.2v2.2h-2.2zM615.7 405.4h2.2v2.2h-2.2zM615.9 394.3h2.2v2.2h-2.2zM616.1 390.3h2.2v2.2h-2.2zM616.2 404.5h2.2v2.2h-2.2zM616.4 387.4h2.2v2.2h-2.2zM616.6 398.8h2.2v2.2h-2.2zM616.8 390.3h2.2v2.2h-2.2zM616.9 393.0h2.2v2.2h-2.2zM617.1 398.1h2.2v2.2h-2.2zM617.3 398.7h2.2v2.2h-2.2zM617.4 407.8h2.2v2.2h-2.2zM617.6 400.1h2.2v2.2h-2.2zM617.8 400.7h2.2v2.2h-2.2zM618.0 382.4h2.2v2.2h-2.2zM618.1 387.2h2.2v2.2h-2.2zM618.3 405.5h2.2v2.2h-2.2zM618.5 388.9h2.2v2.2h-2.2zM618.7 393.4h2.2v2.2h-2.2zM618.8 398.1h2.2v2.2h-2.2zM619.0 391.7h2.2v2.2h-2.2zM619.2 389.2h2.2v2.2h-2.2zM619.3 399.7h2.2v2.2h-2.2zM619.5 397.5h2.2v2.2h-2.2zM619.7 394.2h2.2v2.2h-2.2zM619.9 403.0h2.2v2.2h-2.2zM620.0 394.1h2.2v2.2h-2.2zM620.2 396.2h2.2v2.2h-2.2zM620.4 400.8h2.2v2.2h-2.2zM620.6 402.1h2.2v2.2h-2.2zM620.7 393.4h2.2v2.2h-2.2zM620.9 389.1h2.2v2.2h-2.2zM621.1 393.3h2.2v2.2h-2.2zM621.2 402.4h2.2v2.2h-2.2zM621.4 390.2h2.2v2.2h-2.2zM621.6 394.7h2.2v2.2h-2.2zM621.8 391.5h2.2v2.2h-2.2zM621.9 387.3h2.2v2.2h-2.2zM622.1 403.0h2.2v2.2h-2.2zM622.3 397.3h2.2v2.2h-2.2zM622.5 400.8h2.2v2.2h-2.2zM622.6 403.0h2.2v2.2h-2.2zM622.8 381.1h2.2v2.2h-2.2zM623.0 389.3h2.2v2.2h-2.2zM623.1 409.9h2.2v2.2h-2.2zM623.3 393.3h2.2v2.2h-2.2zM623.5 400.8h2.2v2.2h-2.2zM623.7 387.9h2.2v2.2h-2.2zM623.8 396.1h2.2v2.2h-2.2zM624.0 398.1h2.2v2.2h-2.2zM624.2 395.8h2.2v2.2h-2.2zM624.4 394.0h2.2v2.2h-2.2zM624.5 396.7h2.2v2.2h-2.2zM624.7 398.7h2.2v2.2h-2.2zM624.9 398.1h2.2v2.2h-2.2zM625.1 393.2h2.2v2.2h-2.2zM625.2 405.8h2.2v2.2h-2.2zM625.4 397.2h2.2v2.2h-2.2zM625.6 398.2h2.2v2.2h-2.2zM625.7 401.0h2.2v2.2h-2.2zM625.9 387.1h2.2v2.2h-2.2zM626.1 407.3h2.2v2.2h-2.2zM626.3 400.3h2.2v2.2h-2.2zM626.4 404.1h2.2v2.2h-2.2zM626.6 393.5h2.2v2.2h-2.2zM626.8 401.3h2.2v2.2h-2.2zM627.0 397.4h2.2v2.2h-2.2zM627.1 394.9h2.2v2.2h-2.2zM627.3 410.0h2.2v2.2h-2.2zM627.5 394.5h2.2v2.2h-2.2zM627.6 403.7h2.2v2.2h-2.2zM627.8 400.0h2.2v2.2h-2.2zM628.0 399.0h2.2v2.2h-2.2zM628.2 392.0h2.2v2.2h-2.2zM628.3 392.6h2.2v2.2h-2.2zM628.5 384.9h2.2v2.2h-2.2zM628.7 397.0h2.2v2.2h-2.2zM628.9 402.0h2.2v2.2h-2.2zM629.0 402.3h2.2v2.2h-2.2zM629.2 393.6h2.2v2.2h-2.2zM629.4 386.4h2.2v2.2h-2.2zM629.5 396.1h2.2v2.2h-2.2zM629.7 403.1h2.2v2.2h-2.2zM629.9 396.7h2.2v2.2h-2.2zM630.1 396.9h2.2v2.2h-2.2zM630.2 398.6h2.2v2.2h-2.2zM630.4 404.6h2.2v2.2h-2.2zM630.6 418.3h2.2v2.2h-2.2zM630.8 403.1h2.2v2.2h-2.2zM630.9 391.1h2.2v2.2h-2.2zM631.1 397.6h2.2v2.2h-2.2zM631.3 416.0h2.2v2.2h-2.2zM631.4 399.3h2.2v2.2h-2.2zM631.6 413.4h2.2v2.2h-2.2zM631.8 384.3h2.2v2.2h-2.2zM632.0 398.1h2.2v2.2h-2.2zM632.1 408.7h2.2v2.2h-2.2zM632.3 393.6h2.2v2.2h-2.2zM632.5 405.6h2.2v2.2h-2.2zM632.7 395.5h2.2v2.2h-2.2zM632.8 399.6h2.2v2.2h-2.2zM633.0 408.8h2.2v2.2h-2.2zM633.2 394.9h2.2v2.2h-2.2zM633.4 410.2h2.2v2.2h-2.2zM633.5 374.3h2.2v2.2h-2.2zM633.7 399.7h2.2v2.2h-2.2zM633.9 408.0h2.2v2.2h-2.2zM634.0 414.0h2.2v2.2h-2.2zM634.2 388.0h2.2v2.2h-2.2zM634.4 389.4h2.2v2.2h-2.2zM634.6 410.0h2.2v2.2h-2.2zM634.7 388.0h2.2v2.2h-2.2zM634.9 399.3h2.2v2.2h-2.2zM635.1 402.3h2.2v2.2h-2.2zM635.3 401.3h2.2v2.2h-2.2zM635.4 402.8h2.2v2.2h-2.2zM635.6 389.9h2.2v2.2h-2.2zM635.8 385.9h2.2v2.2h-2.2zM635.9 414.9h2.2v2.2h-2.2zM636.1 385.1h2.2v2.2h-2.2zM636.3 394.4h2.2v2.2h-2.2zM636.5 409.4h2.2v2.2h-2.2zM636.6 403.9h2.2v2.2h-2.2zM636.8 408.1h2.2v2.2h-2.2zM637.0 401.0h2.2v2.2h-2.2zM637.2 398.4h2.2v2.2h-2.2zM637.3 399.6h2.2v2.2h-2.2zM637.5 406.1h2.2v2.2h-2.2zM637.7 407.6h2.2v2.2h-2.2zM637.8 395.2h2.2v2.2h-2.2zM638.0 402.5h2.2v2.2h-2.2zM638.2 384.7h2.2v2.2h-2.2zM638.4 408.0h2.2v2.2h-2.2zM638.5 395.9h2.2v2.2h-2.2zM638.7 401.6h2.2v2.2h-2.2zM638.9 407.2h2.2v2.2h-2.2zM639.1 391.8h2.2v2.2h-2.2zM639.2 401.2h2.2v2.2h-2.2zM639.4 409.0h2.2v2.2h-2.2zM639.6 404.7h2.2v2.2h-2.2zM639.7 395.9h2.2v2.2h-2.2zM639.9 411.7h2.2v2.2h-2.2zM640.1 392.0h2.2v2.2h-2.2zM640.3 397.4h2.2v2.2h-2.2zM640.4 404.7h2.2v2.2h-2.2zM640.6 392.4h2.2v2.2h-2.2zM640.8 389.5h2.2v2.2h-2.2zM641.0 398.3h2.2v2.2h-2.2zM641.1 401.6h2.2v2.2h-2.2zM641.3 388.9h2.2v2.2h-2.2zM641.5 391.7h2.2v2.2h-2.2zM641.7 410.1h2.2v2.2h-2.2zM641.8 404.7h2.2v2.2h-2.2zM642.0 404.9h2.2v2.2h-2.2zM642.2 406.4h2.2v2.2h-2.2zM642.3 414.7h2.2v2.2h-2.2zM642.5 386.8h2.2v2.2h-2.2zM642.7 402.8h2.2v2.2h-2.2zM642.9 402.8h2.2v2.2h-2.2zM643.0 392.9h2.2v2.2h-2.2zM643.2 402.8h2.2v2.2h-2.2zM643.4 394.7h2.2v2.2h-2.2zM643.6 401.7h2.2v2.2h-2.2zM643.7 407.2h2.2v2.2h-2.2zM643.9 395.6h2.2v2.2h-2.2zM644.1 398.2h2.2v2.2h-2.2zM644.2 404.2h2.2v2.2h-2.2zM644.4 394.0h2.2v2.2h-2.2zM644.6 410.0h2.2v2.2h-2.2zM644.8 402.8h2.2v2.2h-2.2zM644.9 415.2h2.2v2.2h-2.2zM645.1 405.3h2.2v2.2h-2.2zM645.3 409.9h2.2v2.2h-2.2zM645.5 394.2h2.2v2.2h-2.2zM645.6 399.0h2.2v2.2h-2.2zM645.8 400.8h2.2v2.2h-2.2zM646.0 390.7h2.2v2.2h-2.2zM646.1 393.8h2.2v2.2h-2.2zM646.3 399.4h2.2v2.2h-2.2zM646.5 410.3h2.2v2.2h-2.2zM646.7 416.1h2.2v2.2h-2.2zM646.8 405.3h2.2v2.2h-2.2zM647.0 407.9h2.2v2.2h-2.2z" fill="#000080"/>
<path d="M459.6 436.2h2.2v2.2h-2.2zM459.8 448.4h2.2v2.2h-2.2zM460.0 461.3h2.2v2.2h-2.2zM460.2 450.6h2.2v2.2h-2.2zM460.3 453.1h2.2v2.2h-2.2zM460.5 447.0h2.2v2.2h-2.2zM460.7 446.5h2.2v2.2h-2.2zM460.8 452.4h2.2v2.2h-2.2zM461.0 451.6h2.2v2.2h-2.2zM461.2 446.8h2.2v2.2h-2.2zM461.3 446.0h2.2v2.2h-2.2zM461.5 457.3h2.2v2.2h-2.2zM461.7 439.4h2.2v2.2h-2.2zM461.9 443.5h2.2v2.2h-2.2zM462.0 443.3h2.2v2.2h-2.2zM462.2 441.3h2.2v2.2h-2.2zM462.4 447.3h2.2v2.2h-2.2zM462.5 442.1h2.2v2.2h-2.2zM462.7 436.3h2.2v2.2h-2.2zM462.9 435.6h2.2v2.2h-2.2zM463.0 438.2h2.2v2.2h-2.2zM463.2 441.3h2.2v2.2h-2.2zM463.4 443.5h2.2v2.2h-2.2zM463.6 432.6h2.2v2.2h-2.2zM463.7 436.0h2.2v2.2h-2.2zM463.9 440.1h2.2v2.2h-2.2zM464.1 448.2h2.2v2.2h-2.2zM464.2 441.4h2.2v2.2h-2.2zM464.4 446.1h2.2v2.2h-2.2zM464.6 430.1h2.2v2.2h-2.2zM464.8 434.8h2.2v2.2h-2.2zM464.9 438.9h2.2v2.2h-2.2zM465.1 436.2h2.2v2.2h-2.2zM465.3 421.6h2.2v2.2h-2.2zM465.4 427.9h2.2v2.2h-2.2zM465.6 440.0h2.2v2.2h-2.2zM465.8 433.6h2.2v2.2h-2.2zM465.9 438.5h2.2v2.2h-2.2zM466.1 440.5h2.2v2.2h-2.2zM466.3 430.7h2.2v2.2h-2.2zM466.5 419.2h2.2v2.2h-2.2zM466.6 422.9h2.2v2.2h-2.2zM466.8 429.9h2.2v2.2h-2.2zM467.0 431.5h2.2v2.2h-2.2zM467.1 428.2h2.2v2.2h-2.2zM467.3 423.6h2.2v2.2h-2.2zM467.5 435.5h2.2v2.2h-2.2zM467.7 437.1h2.2v2.2h-2.2zM467.8 418.0h2.2v2.2h-2.2zM468.0 425.5h2.2v2.2h-2.2zM468.2 418.5h2.2v2.2h-2.2zM468.3 424.8h2.2v2.2h-2.2zM468.5 418.2h2.2v2.2h-2.2zM468.7 428.1h2.2v2.2h-2.2zM468.8 422.1h2.2v2.2h-2.2zM469.0 416.4h2.2v2.2h-2.2zM469.2 418.6h2.2v2.2h-2.2zM469.4 425.5h2.2v2.2h-2.2zM469.5 418.3h2.2v2.2h-2.2zM469.7 425.6h2.2v2.2h-2.2zM469.9 428.9h2.2v2.2h-2.2zM470.0 418.7h2.2v2.2h-2.2zM470.2 413.9h2.2v2.2h-2.2zM470.4 416.2h2.2v2.2h-2.2zM470.6 426.2h2.2v2.2h-2.2zM470.7 415.2h2.2v2.2h-2.2zM470.9 415.6h2.2v2.2h-2.2zM471.1 420.9h2.2v2.2h-2.2zM471.2 430.6h2.2v2.2h-2.2zM471.4 412.6h2.2v2.2h-2.2zM471.6 412.8h2.2v2.2h-2.2zM471.7 414.3h2.2v2.2h-2.2zM471.9 425.0h2.2v2.2h-2.2zM472.1 423.3h2.2v2.2h-2.2zM472.3 410.3h2.2v2.2h-2.2zM472.4 410.9h2.2v2.2h-2.2zM472.6 412.0h2.2v2.2h-2.2zM472.8 415.3h2.2v2.2h-2.2zM472.9 411.6h2.2v2.2h-2.2zM473.1 415.8h2.2v2.2h-2.2zM473.3 414.2h2.2v2.2h-2.2zM473.4 416.6h2.2v2.2h-2.2zM473.6 410.4h2.2v2.2h-2.2zM473.8 413.4h2.2v2.2h-2.2zM474.0 406.0h2.2v2.2h-2.2zM474.1 406.8h2.2v2.2h-2.2zM474.3 414.0h2.2v2.2h-2.2zM474.5 400.2h2.2v2.2h-2.2zM474.6 414.7h2.2v2.2h-2.2zM474.8 406.3h2.2v2.2h-2.2zM475.0 402.7h2.2v2.2h-2.2zM475.2 401.2h2.2v2.2h-2.2zM475.3 418.3h2.2v2.2h-2.2zM475.5 401.7h2.2v2.2h-2.2zM475.7 400.2h2.2v2.2h-2.2zM475.8 398.6h2.2v2.2h-2.2zM476.0 416.7h2.2v2.2h-2.2zM476.2 408.4h2.2v2.2h-2.2zM476.3 405.0h2.2v2.2h-2.2zM476.5 406.3h2.2v2.2h-2.2zM476.7 396.9h2.2v2.2h-2.2zM476.9 406.6h2.2v2.2h-2.2zM477.0 396.5h2.2v2.2h-2.2zM477.2 399.5h2.2v2.2h-2.2zM477.4 409.2h2.2v2.2h-2.2zM477.5 406.4h2.2v2.2h-2.2zM477.7 403.3h2.2v2.2h-2.2zM477.9 400.0h2.2v2.2h-2.2zM478.1 395.1h2.2v2.2h-2.2zM478.2 400.6h2.2v2.2h-2.2zM478.4 394.6h2.2v2.2h-2.2zM478.6 406.7h2.2v2.2h-2.2zM478.7 413.8h2.2v2.2h-2.2zM478.9 399.6h2.2v2.2h-2.2zM479.1 395.1h2.2v2.2h-2.2zM479.2 398.8h2.2v2.2h-2.2zM479.4 401.7h2.2v2.2h-2.2zM479.6 394.0h2.2v2.2h-2.2zM479.8 385.9h2.2v2.2h-2.2zM479.9 395.8h2.2v2.2h-2.2zM480.1 398.5h2.2v2.2h-2.2zM480.3 398.7h2.2v2.2h-2.2zM480.4 384.0h2.2v2.2h-2.2zM480.6 393.7h2.2v2.2h-2.2zM480.8 390.0h2.2v2.2h-2.2zM481.0 386.4h2.2v2.2h-2.2zM481.1 386.7h2.2v2.2h-2.2zM481.3 396.5h2.2v2.2h-2.2zM481.5 386.5h2.2v2.2h-2.2zM481.6 386.6h2.2v2.2h-2.2zM481.8 388.0h2.2v2.2h-2.2zM482.0 384.9h2.2v2.2h-2.2zM482.1 392.5h2.2v2.2h-2.2zM482.3 389.6h2.2v2.2h-2.2zM482.5 391.4h2.2v2.2h-2.2zM482.7 384.5h2.2v2.2h-2.2zM482.8 391.2h2.2v2.2h-2.2zM483.0 385.5h2.2v2.2h-2.2zM483.2 392.6h2.2v2.2h-2.2zM483.3 387.3h2.2v2.2h-2.2zM483.5 388.1h2.2v2.2h-2.2zM483.7 386.4h2.2v2.2h-2.2zM483.9 384.7h2.2v2.2h-2.2zM484.0 385.9h2.2v2.2h-2.2zM484.2 385.6h2.2v2.2h-2.2zM484.4 394.7h2.2v2.2h-2.2zM484.5 378.1h2.2v2.2h-2.2zM484.7 386.4h2.2v2.2h-2.2zM484.9 384.1h2.2v2.2h-2.2zM485.0 386.7h2.2v2.2h-2.2zM485.2 376.9h2.2v2.2h-2.2zM485.4 386.2h2.2v2.2h-2.2zM485.6 378.6h2.2v2.2h-2.2zM485.7 374.8h2.2v2.2h-2.2zM485.9 371.9h2.2v2.2h-2.2zM486.1 373.9h2.2v2.2h-2.2zM486.2 376.4h2.2v2.2h-2.2zM486.4 385.2h2.2v2.2h-2.2zM486.6 372.1h2.2v2.2h-2.2zM486.7 372.2h2.2v2.2h-2.2zM486.9 373.6h2.2v2.2h-2.2zM487.1 373.4h2.2v2.2h-2.2zM487.3 376.7h2.2v2.2h-2.2zM487.4 379.3h2.2v2.2h-2.2zM487.6 370.7h2.2v2.2h-2.2zM487.8 369.3h2.2v2.2h-2.2zM487.9 380.7h2.2v2.2h-2.2zM488.1 370.3h2.2v2.2h-2.2zM488.3 373.3h2.2v2.2h-2.2zM488.5 369.7h2.2v2.2h-2.2zM488.6 372.4h2.2v2.2h-2.2zM488.8 367.7h2.2v2.2h-2.2zM489.0 367.7h2.2v2.2h-2.2zM489.1 368.0h2.2v2.2h-2.2zM489.3 379.2h2.2v2.2h-2.2zM489.5 367.6h2.2v2.2h-2.2zM489.6 371.1h2.2v2.2h-2.2zM489.8 376.7h2.2v2.2h-2.2zM490.0 367.0h2.2v2.2h-2.2zM490.2 377.2h2.2v2.2h-2.2zM490.3 365.2h2.2v2.2h-2.2zM490.5 360.7h2.2v2.2h-2.2zM490.7 371.6h2.2v2.2h-2.2zM490.8 363.9h2.2v2.2h-2.2zM491.0 365.9h2.2v2.2h-2.2zM491.2 364.5h2.2v2.2h-2.2zM491.4 374.3h2.2v2.2h-2.2zM491.5 363.9h2.2v2.2h-2.2zM491.7 366.0h2.2v2.2h-2.2zM491.9 362.5h2.2v2.2h-2.2zM492.0 365.8h2.2v2.2h-2.2zM492.2 359.9h2.2v2.2h-2.2zM492.4 363.7h2.2v2.2h-2.2zM492.5 361.2h2.2v2.2h-2.2zM492.7 357.3h2.2v2.2h-2.2zM492.9 363.0h2.2v2.2h-2.2zM493.1 358.5h2.2v2.2h-2.2zM493.2 362.0h2.2v2.2h-2.2zM493.4 360.1h2.2v2.2h-2.2zM493.6 365.1h2.2v2.2h-2.2zM493.7 358.1h2.2v2.2h-2.2zM493.9 355.4h2.2v2.2h-2.2zM494.1 361.7h2.2v2.2h-2.2zM494.3 356.8h2.2v2.2h-2.2zM494.4 358.3h2.2v2.2h-2.2zM494.6 365.8h2.2v2.2h-2.2zM494.8 358.0h2.2v2.2h-2.2zM494.9 352.6h2.2v2.2h-2.2zM495.1 361.5h2.2v2.2h-2.2zM495.3 367.8h2.2v2.2h-2.2zM495.4 357.3h2.2v2.2h-2.2zM495.6 361.2h2.2v2.2h-2.2zM495.8 347.8h2.2v2.2h-2.2zM496.0 357.4h2.2v2.2h-2.2zM496.1 356.9h2.2v2.2h-2.2zM496.3 359.7h2.2v2.2h-2.2zM496.5 354.8h2.2v2.2h-2.2zM496.6 358.6h2.2v2.2h-2.2zM496.8 360.0h2.2v2.2h-2.2zM497.0 355.4h2.2v2.2h-2.2zM497.1 358.8h2.2v2.2h-2.2zM497.3 347.6h2.2v2.2h-2.2zM497.5 360.0h2.2v2.2h-2.2zM497.7 354.0h2.2v2.2h-2.2zM497.8 356.8h2.2v2.2h-2.2zM498.0 360.0h2.2v2.2h-2.2zM498.2 344.0h2.2v2.2h-2.2zM498.3 363.0h2.2v2.2h-2.2zM498.5 344.4h2.2v2.2h-2.2zM498.7 358.8h2.2v2.2h-2.2zM498.9 350.7h2.2v2.2h-2.2zM499.0 339.2h2.2v2.2h-2.2zM499.2 361.4h2.2v2.2h-2.2zM499.4 357.2h2.2v2.2h-2.2zM499.5 343.0h2.2v2.2h-2.2zM499.7 348.6h2.2v2.2h-2.2zM499.9 351.9h2.2v2.2h-2.2zM500.0 349.0h2.2v2.2h-2.2zM500.2 353.4h2.2v2.2h-2.2zM500.4 347.5h2.2v2.2h-2.2zM500.6 340.1h2.2v2.2h-2.2zM500.7 349.4h2.2v2.2h-2.2zM500.9 346.4h2.2v2.2h-2.2zM501.1 340.6h2.2v2.2h-2.2zM501.2 336.2h2.2v2.2h-2.2zM501.4 349.2h2.2v2.2h-2.2zM501.6 344.2h2.2v2.2h-2.2zM501.8 348.4h2.2v2.2h-2.2zM501.9 348.5h2.2v2.2h-2.2zM502.1 346.9h2.2v2.2h-2.2zM502.3 347.8h2.2v2.2h-2.2zM502.4 353.2h2.2v2.2h-2.2zM502.6 354.2h2.2v2.2h-2.2zM502.8 347.3h2.2v2.2h-2.2zM502.9 342.5h2.2v2.2h-2.2zM503.1 336.6h2.2v2.2h-2.2zM503.3 345.3h2.2v2.2h-2.2zM503.5 343.1h2.2v2.2h-2.2zM503.6 338.5h2.2v2.2h-2.2zM503.8 337.8h2.2v2.2h-2.2zM504.0 341.9h2.2v2.2h-2.2zM504.1 341.3h2.2v2.2h-2.2zM504.3 330.9h2.2v2.2h-2.2zM504.5 342.2h2.2v2.2h-2.2zM504.7 342.7h2.2v2.2h-2.2zM504.8 348.3h2.2v2.2h-2.2zM505.0 337.2h2.2v2.2h-2.2zM505.2 340.6h2.2v2.2h-2.2zM505.3 328.9h2.2v2.2h-2.2zM505.5 340.3h2.2v2.2h-2.2zM505.7 334.0h2.2v2.2h-2.2zM505.8 333.1h2.2v2.2h-2.2zM506.0 329.1h2.2v2.2h-2.2zM506.2 344.3h2.2v2.2h-2.2zM506.4 328.9h2.2v2.2h-2.2zM506.5 336.8h2.2v2.2h-2.2zM506.7 337.1h2.2v2.2h-2.2zM506.9 337.9h2.2v2.2h-2.2zM507.0 338.0h2.2v2.2h-2.2zM507.2 337.5h2.2v2.2h-2.2zM507.4 347.7h2.2v2.2h-2.2zM507.5 332.4h2.2v2.2h-2.2zM507.7 334.5h2.2v2.2h-2.2zM507.9 339.5h2.2v2.2h-2.2zM508.1 334.6h2.2v2.2h-2.2zM508.2 321.8h2.2v2.2h-2.2zM508.4 331.7h2.2v2.2h-2.2zM508.6 335.5h2.2v2.2h-2.2zM508.7 324.1h2.2v2.2h-2.2zM508.9 337.1h2.2v2.2h-2.2zM509.1 333.4h2.2v2.2h-2.2zM509.3 335.3h2.2v2.2h-2.2zM509.4 333.3h2.2v2.2h-2.2zM509.6 327.9h2.2v2.2h-2.2zM509.8 328.4h2.2v2.2h-2.2zM509.9 335.1h2.2v2.2h-2.2zM510.1 331.7h2.2v2.2h-2.2zM510.3 330.3h2.2v2.2h-2.2zM510.4 332.6h2.2v2.2h-2.2zM510.6 330.4h2.2v2.2h-2.2zM510.8 333.8h2.2v2.2h-2.2zM511.0 333.6h2.2v2.2h-2.2zM511.1 329.2h2.2v2.2h-2.2zM511.3 334.7h2.2v2.2h-2.2zM511.5 326.7h2.2v2.2h-2.2zM511.6 329.7h2.2v2.2h-2.2zM511.8 333.3h2.2v2.2h-2.2zM512.0 331.4h2.2v2.2h-2.2zM512.2 330.5h2.2v2.2h-2.2zM512.3 328.5h2.2v2.2h-2.2zM512.5 326.8h2.2v2.2h-2.2zM512.7 328.3h2.2v2.2h-2.2zM512.8 331.6h2.2v2.2h-2.2zM513.0 319.0h2.2v2.2h-2.2zM513.2 321.6h2.2v2.2h-2.2zM513.3 325.6h2.2v2.2h-2.2zM513.5 320.9h2.2v2.2h-2.2zM513.7 324.0h2.2v2.2h-2.2zM513.9 326.9h2.2v2.2h-2.2zM514.0 324.8h2.2v2.2h-2.2zM514.2 310.7h2.2v2.2h-2.2zM514.4 319.5h2.2v2.2h-2.2zM514.5 319.0h2.2v2.2h-2.2zM514.7 326.5h2.2v2.2h-2.2zM514.9 320.9h2.2v2.2h-2.2zM515.1 311.7h2.2v2.2h-2.2zM515.2 321.4h2.2v2.2h-2.2zM515.4 317.7h2.2v2.2h-2.2zM515.6 316.5h2.2v2.2h-2.2zM515.7 319.6h2.2v2.2h-2.2zM515.9 314.3h2.2v2.2h-2.2zM516.1 321.4h2.2v2.2h-2.2zM516.2 319.7h2.2v2.2h-2.2zM516.4 325.6h2.2v2.2h-2.2zM516.6 307.7h2.2v2.2h-2.2zM516.8 320.1h2.2v2.2h-2.2zM516.9 320.9h2.2v2.2h-2.2zM517.1 313.8h2.2v2.2h-2.2zM517.3 323.8h2.2v2.2h-2.2zM517.4 321.0h2.2v2.2h-2.2zM517.6 325.0h2.2v2.2h-2.2zM517.8 320.4h2.2v2.2h-2.2zM517.9 322.4h2.2v2.2h-2.2zM518.1 317.2h2.2v2.2h-2.2zM518.3 320.6h2.2v2.2h-2.2zM518.5 323.0h2.2v2.2h-2.2zM518.6 321.2h2.2v2.2h-2.2zM518.8 320.0h2.2v2.2h-2.2zM519.0 322.0h2.2v2.2h-2.2zM519.1 313.9h2.2v2.2h-2.2zM519.3 315.1h2.2v2.2h-2.2zM519.5 317.8h2.2v2.2h-2.2zM519.7 324.9h2.2v2.2h-2.2zM519.8 315.4h2.2v2.2h-2.2zM520.0 325.0h2.2v2.2h-2.2zM520.2 316.9h2.2v2.2h-2.2zM520.3 317.4h2.2v2.2h-2.2zM520.5 320.7h2.2v2.2h-2.2zM520.7 321.9h2.2v2.2h-2.2zM520.8 321.0h2.2v2.2h-2.2zM521.0 305.7h2.2v2.2h-2.2zM521.2 318.3h2.2v2.2h-2.2zM521.4 317.8h2.2v2.2h-2.2zM521.5 311.2h2.2v2.2h-2.2zM521.7 314.0h2.2v2.2h-2.2zM521.9 310.4h2.2v2.2h-2.2zM522.0 322.7h2.2v2.2h-2.2zM522.2 321.8h2.2v2.2h-2.2zM522.4 297.4h2.2v2.2h-2.2zM522.6 315.7h2.2v2.2h-2.2zM522.7 317.0h2.2v2.2h-2.2zM522.9 314.3h2.2v2.2h-2.2zM523.1 309.6h2.2v2.2h-2.2zM523.2 321.5h2.2v2.2h-2.2zM523.4 313.2h2.2v2.2h-2.2zM523.6 314.8h2.2v2.2h-2.2zM523.7 310.7h2.2v2.2h-2.2zM523.9 313.3h2.2v2.2h-2.2zM524.1 317.1h2.2v2.2h-2.2zM524.3 318.8h2.2v2.2h-2.2zM524.4 327.3h2.2v2.2h-2.2zM524.6 308.3h2.2v2.2h-2.2zM524.8 321.7h2.2v2.2h-2.2zM524.9 315.7h2.2v2.2h-2.2zM525.1 304.1h2.2v2.2h-2.2zM525.3 315.5h2.2v2.2h-2.2zM525.5 309.7h2.2v2.2h-2.2zM525.6 314.1h2.2v2.2h-2.2zM525.8 308.9h2.2v2.2h-2.2zM526.0 312.5h2.2v2.2h-2.2zM526.1 315.4h2.2v2.2h-2.2zM526.3 304.9h2.2v2.2h-2.2zM526.5 313.8h2.2v2.2h-2.2zM526.6 319.6h2.2v2.2h-2.2zM526.8 313.9h2.2v2.2h-2.2zM527.0 309.0h2.2v2.2h-2.2zM527.2 318.0h2.2v2.2h-2.2zM527.3 307.4h2.2v2.2h-2.2zM527.5 307.4h2.2v2.2h-2.2zM527.7 299.7h2.2v2.2h-2.2zM527.8 314.9h2.2v2.2h-2.2zM528.0 307.6h2.2v2.2h-2.2zM528.2 320.4h2.2v2.2h-2.2zM528.3 313.4h2.2v2.2h-2.2zM528.5 310.4h2.2v2.2h-2.2zM528.7 308.6h2.2v2.2h-2.2zM528.9 311.1h2.2v2.2h-2.2zM529.0 311.2h2.2v2.2h-2.2zM529.2 314.0h2.2v2.2h-2.2zM529.4 312.9h2.2v2.2h-2.2zM529.5 308.7h2.2v2.2h-2.2zM529.7 307.2h2.2v2.2h-2.2zM529.9 306.6h2.2v2.2h-2.2zM530.1 304.6h2.2v2.2h-2.2zM530.2 303.4h2.2v2.2h-2.2zM530.4 320.0h2.2v2.2h-2.2zM530.6 312.7h2.2v2.2h-2.2zM530.7 310.7h2.2v2.2h-2.2zM530.9 313.3h2.2v2.2h-2.2zM531.1 303.8h2.2v2.2h-2.2zM531.2 305.4h2.2v2.2h-2.2zM531.4 310.0h2.2v2.2h-2.2zM531.6 308.7h2.2v2.2h-2.2zM531.8 302.3h2.2v2.2h-2.2zM531.9 311.2h2.2v2.2h-2.2zM532.1 310.9h2.2v2.2h-2.2zM532.3 304.1h2.2v2.2h-2.2zM532.4 306.4h2.2v2.2h-2.2zM532.6 301.1h2.2v2.2h-2.2zM532.8 306.8h2.2v2.2h-2.2zM533.0 304.7h2.2v2.2h-2.2zM533.1 311.8h2.2v2.2h-2.2zM533.3 314.0h2.2v2.2h-2.2zM533.5 308.7h2.2v2.2h-2.2zM533.6 323.4h2.2v2.2h-2.2zM533.8 306.3h2.2v2.2h-2.2zM534.0 303.1h2.2v2.2h-2.2zM534.1 308.0h2.2v2.2h-2.2zM534.3 309.6h2.2v2.2h-2.2zM534.5 302.3h2.2v2.2h-2.2zM534.7 308.6h2.2v2.2h-2.2zM534.8 302.8h2.2v2.2h-2.2zM535.0 296.0h2.2v2.2h-2.2zM535.2 304.2h2.2v2.2h-2.2zM535.3 302.9h2.2v2.2h-2.2zM535.5 305.4h2.2v2.2h-2.2zM535.7 306.7h2.2v2.2h-2.2zM535.9 306.5h2.2v2.2h-2.2zM536.0 307.7h2.2v2.2h-2.2zM536.2 302.0h2.2v2.2h-2.2zM536.4 316.9h2.2v2.2h-2.2zM536.5 309.4h2.2v2.2h-2.2zM536.7 304.3h2.2v2.2h-2.2zM536.9 312.6h2.2v2.2h-2.2zM537.0 308.5h2.2v2.2h-2.2zM537.2 311.7h2.2v2.2h-2.2zM537.4 305.4h2.2v2.2h-2.2zM537.6 303.0h2.2v2.2h-2.2zM537.7 299.7h2.2v2.2h-2.2zM537.9 305.0h2.2v2.2h-2.2zM538.1 311.8h2.2v2.2h-2.2zM538.2 306.4h2.2v2.2h-2.2zM538.4 304.6h2.2v2.2h-2.2zM538.6 299.9h2.2v2.2h-2.2zM538.7 319.6h2.2v2.2h-2.2zM538.9 305.7h2.2v2.2h-2.2zM539.1 317.9h2.2v2.2h-2.2zM539.3 303.8h2.2v2.2h-2.2zM539.4 305.3h2.2v2.2h-2.2zM539.6 305.0h2.2v2.2h-2.2zM539.8 302.9h2.2v2.2h-2.2zM539.9 305.6h2.2v2.2h-2.2zM540.1 311.3h2.2v2.2h-2.2zM540.3 305.8h2.2v2.2h-2.2zM540.5 301.1h2.2v2.2h-2.2zM540.6 308.4h2.2v2.2h-2.2zM540.8 307.6h2.2v2.2h-2.2zM541.0 314.5h2.2v2.2h-2.2zM541.1 301.4h2.2v2.2h-2.2zM541.3 310.6h2.2v2.2h-2.2zM541.5 311.9h2.2v2.2h-2.2zM541.6 310.3h2.2v2.2h-2.2zM541.8 312.6h2.2v2.2h-2.2zM542.0 309.2h2.2v2.2h-2.2zM542.2 300.8h2.2v2.2h-2.2zM542.3 303.5h2.2v2.2h-2.2zM542.5 300.1h2.2v2.2h-2.2zM542.7 299.7h2.2v2.2h-2.2zM542.8 312.8h2.2v2.2h-2.2zM543.0 305.3h2.2v2.2h-2.2zM543.2 299.7h2.2v2.2h-2.2zM543.4 295.4h2.2v2.2h-2.2zM543.5 315.8h2.2v2.2h-2.2zM543.7 315.8h2.2v2.2h-2.2zM543.9 305.5h2.2v2.2h-2.2zM544.0 309.9h2.2v2.2h-2.2zM544.2 313.5h2.2v2.2h-2.2zM544.4 306.0h2.2v2.2h-2.2zM544.5 312.5h2.2v2.2h-2.2zM544.7 320.6h2.2v2.2h-2.2zM544.9 308.3h2.2v2.2h-2.2zM545.1 307.5h2.2v2.2h-2.2zM545.2 304.8h2.2v2.2h-2.2zM545.4 303.1h2.2v2.2h-2.2zM545.6 307.3h2.2v2.2h-2.2zM545.7 309.6h2.2v2.2h-2.2zM545.9 312.0h2.2v2.2h-2.2zM546.1 317.4h2.2v2.2h-2.2zM546.3 310.8h2.2v2.2h-2.2zM546.4 303.0h2.2v2.2h-2.2zM546.6 305.0h2.2v2.2h-2.2zM546.8 297.4h2.2v2.2h-2.2zM546.9 309.4h2.2v2.2h-2.2zM547.1 318.3h2.2v2.2h-2.2zM547.3 304.2h2.2v2.2h-2.2zM547.4 303.1h2.2v2.2h-2.2zM547.6 315.1h2.2v2.2h-2.2zM547.8 317.5h2.2v2.2h-2.2zM548.0 308.0h2.2v2.2h-2.2zM548.1 305.0h2.2v2.2h-2.2zM548.3 315.0h2.2v2.2h-2.2zM548.5 310.8h2.2v2.2h-2.2zM548.6 313.2h2.2v2.2h-2.2zM548.8 315.4h2.2v2.2h-2.2zM549.0 316.2h2.2v2.2h-2.2zM549.1 308.4h2.2v2.2h-2.2zM549.3 311.2h2.2v2.2h-2.2zM549.5 312.8h2.2v2.2h-2.2zM549.7 323.3h2.2v2.2h-2.2zM549.8 299.9h2.2v2.2h-2.2zM550.0 314.4h2.2v2.2h-2.2zM550.2 310.2h2.2v2.2h-2.2zM550.3 315.6h2.2v2.2h-2.2zM550.5 307.5h2.2v2.2h-2.2zM550.7 317.7h2.2v2.2h-2.2zM550.9 309.1h2.2v2.2h-2.2zM551.0 310.7h2.2v2.2h-2.2zM551.2 304.8h2.2v2.2h-2.2zM551.4 315.7h2.2v2.2h-2.2zM551.5 313.3h2.2v2.2h-2.2zM551.7 311.2h2.2v2.2h-2.2zM551.9 298.8h2.2v2.2h-2.2zM552.0 317.9h2.2v2.2h-2.2zM552.2 308.5h2.2v2.2h-2.2zM552.4 313.6h2.2v2.2h-2.2zM552.6 308.6h2.2v2.2h-2.2zM552.7 306.8h2.2v2.2h-2.2zM552.9 309.6h2.2v2.2h-2.2zM553.1 309.0h2.2v2.2h-2.2zM553.2 309.0h2.2v2.2h-2.2zM553.4 313.7h2.2v2.2h-2.2zM553.6 311.8h2.2v2.2h-2.2zM553.8 319.5h2.2v2.2h-2.2zM553.9 312.6h2.2v2.2h-2.2zM554.1 314.9h2.2v2.2h-2.2zM554.3 312.2h2.2v2.2h-2.2zM554.4 307.1h2.2v2.2h-2.2zM554.6 309.0h2.2v2.2h-2.2zM554.8 308.6h2.2v2.2h-2.2zM554.9 305.3h2.2v2.2h-2.2zM555.1 323.8h2.2v2.2h-2.2zM555.3 309.0h2.2v2.2h-2.2zM555.5 311.5h2.2v2.2h-2.2zM555.6 312.0h2.2v2.2h-2.2zM555.8 318.4h2.2v2.2h-2.2zM556.0 308.7h2.2v2.2h-2.2zM556.1 305.7h2.2v2.2h-2.2zM556.3 306.4h2.2v2.2h-2.2zM556.5 312.3h2.2v2.2h-2.2zM556.7 308.6h2.2v2.2h-2.2zM556.8 307.2h2.2v2.2h-2.2zM557.0 302.5h2.2v2.2h-2.2zM557.2 305.7h2.2v2.2h-2.2zM557.3 311.5h2.2v2.2h-2.2zM557.5 311.8h2.2v2.2h-2.2zM557.7 311.5h2.2v2.2h-2.2zM557.8 311.3h2.2v2.2h-2.2zM558.0 315.2h2.2v2.2h-2.2zM558.2 308.7h2.2v2.2h-2.2zM558.4 316.4h2.2v2.2h-2.2zM558.5 317.0h2.2v2.2h-2.2zM558.7 311.1h2.2v2.2h-2.2zM558.9 316.0h2.2v2.2h-2.2zM559.0 314.4h2.2v2.2h-2.2zM559.2 324.0h2.2v2.2h-2.2zM559.4 309.2h2.2v2.2h-2.2zM559.5 313.4h2.2v2.2h-2.2zM559.7 314.1h2.2v2.2h-2.2zM559.9 311.2h2.2v2.2h-2.2zM560.1 312.6h2.2v2.2h-2.2zM560.2 317.4h2.2v2.2h-2.2zM560.4 303.5h2.2v2.2h-2.2zM560.6 316.3h2.2v2.2h-2.2zM560.7 309.0h2.2v2.2h-2.2zM560.9 304.7h2.2v2.2h-2.2zM561.1 317.5h2.2v2.2h-2.2zM561.3 313.9h2.2v2.2h-2.2zM561.4 318.7h2.2v2.2h-2.2zM561.6 309.1h2.2v2.2h-2.2zM561.8 316.4h2.2v2.2h-2.2zM561.9 320.4h2.2v2.2h-2.2zM562.1 308.1h2.2v2.2h-2.2zM562.3 310.2h2.2v2.2h-2.2zM562.4 319.6h2.2v2.2h-2.2zM562.6 309.1h2.2v2.2h-2.2zM562.8 314.3h2.2v2.2h-2.2zM563.0 301.5h2.2v2.2h-2.2zM563.1 306.7h2.2v2.2h-2.2zM563.3 318.4h2.2v2.2h-2.2zM563.5 317.1h2.2v2.2h-2.2zM563.6 320.3h2.2v2.2h-2.2zM563.8 315.2h2.2v2.2h-2.2zM564.0 315.8h2.2v2.2h-2.2zM564.2 312.4h2.2v2.2h-2.2zM564.3 315.8h2.2v2.2h-2.2zM564.5 323.9h2.2v2.2h-2.2zM564.7 320.6h2.2v2.2h-2.2zM564.8 309.4h2.2v2.2h-2.2zM565.0 310.8h2.2v2.2h-2.2zM565.2 317.6h2.2v2.2h-2.2zM565.3 317.6h2.2v2.2h-2.2zM565.5 317.9h2.2v2.2h-2.2zM565.7 317.1h2.2v2.2h-2.2zM565.9 325.8h2.2v2.2h-2.2zM566.0 312.9h2.2v2.2h-2.2zM566.2 320.9h2.2v2.2h-2.2zM566.4 316.9h2.2v2.2h-2.2zM566.5 330.6h2.2v2.2h-2.2zM566.7 316.7h2.2v2.2h-2.2zM566.9 311.3h2.2v2.2h-2.2zM567.1 329.4h2.2v2.2h-2.2zM567.2 310.6h2.2v2.2h-2.2zM567.4 316.0h2.2v2.2h-2.2zM567.6 322.2h2.2v2.2h-2.2zM567.7 326.6h2.2v2.2h-2.2zM567.9 312.9h2.2v2.2h-2.2zM568.1 317.6h2.2v2.2h-2.2zM568.2 316.0h2.2v2.2h-2.2zM568.4 320.5h2.2v2.2h-2.2zM568.6 323.3h2.2v2.2h-2.2zM568.8 315.0h2.2v2.2h-2.2zM568.9 324.3h2.2v2.2h-2.2zM569.1 315.2h2.2v2.2h-2.2zM569.3 328.2h2.2v2.2h-2.2zM569.4 324.6h2.2v2.2h-2.2zM569.6 327.4h2.2v2.2h-2.2zM569.8 313.6h2.2v2.2h-2.2zM569.9 329.1h2.2v2.2h-2.2zM570.1 326.2h2.2v2.2h-2.2zM570.3 317.3h2.2v2.2h-2.2zM570.5 319.6h2.2v2.2h-2.2zM570.6 309.9h2.2v2.2h-2.2zM570.8 311.8h2.2v2.2h-2.2zM571.0 318.1h2.2v2.2h-2.2zM571.1 317.9h2.2v2.2h-2.2zM571.3 330.6h2.2v2.2h-2.2zM571.5 326.0h2.2v2.2h-2.2zM571.7 323.4h2.2v2.2h-2.2zM571.8 322.8h2.2v2.2h-2.2zM572.0 328.9h2.2v2.2h-2.2zM572.2 326.8h2.2v2.2h-2.2zM572.3 326.5h2.2v2.2h-2.2zM572.5 317.2h2.2v2.2h-2.2zM572.7 320.5h2.2v2.2h-2.2zM572.8 324.4h2.2v2.2h-2.2zM573.0 324.3h2.2v2.2h-2.2zM573.2 321.6h2.2v2.2h-2.2zM573.4 326.7h2.2v2.2h-2.2zM573.5 324.7h2.2v2.2h-2.2zM573.7 332.0h2.2v2.2h-2.2zM573.9 320.3h2.2v2.2h-2.2zM574.0 319.0h2.2v2.2h-2.2zM574.2 322.2h2.2v2.2h-2.2zM574.4 321.7h2.2v2.2h-2.2zM574.6 322.4h2.2v2.2h-2.2zM574.7 314.3h2.2v2.2h-2.2zM574.9 323.6h2.2v2.2h-2.2zM575.1 331.3h2.2v2.2h-2.2zM575.2 330.1h2.2v2.2h-2.2zM575.4 321.5h2.2v2.2h-2.2zM575.6 319.9h2.2v2.2h-2.2zM575.7 321.5h2.2v2.2h-2.2zM575.9 321.4h2.2v2.2h-2.2zM576.1 324.7h2.2v2.2h-2.2zM576.3 333.2h2.2v2.2h-2.2zM576.4 329.5h2.2v2.2h-2.2zM576.6 335.1h2.2v2.2h-2.2zM576.8 328.2h2.2v2.2h-2.2zM576.9 333.2h2.2v2.2h-2.2zM577.1 326.2h2.2v2.2h-2.2zM577.3 327.7h2.2v2.2h-2.2zM577.5 336.6h2.2v2.2h-2.2zM577.6 323.5h2.2v2.2h-2.2zM577.8 323.6h2.2v2.2h-2.2zM578.0 334.3h2.2v2.2h-2.2zM578.1 326.9h2.2v2.2h-2.2zM578.3 324.3h2.2v2.2h-2.2zM578.5 329.4h2.2v2.2h-2.2zM578.6 323.9h2.2v2.2h-2.2zM578.8 327.4h2.2v2.2h-2.2zM579.0 323.2h2.2v2.2h-2.2zM579.2 327.8h2.2v2.2h-2.2zM579.3 329.7h2.2v2.2h-2.2zM579.5 326.5h2.2v2.2h-2.2zM579.7 325.3h2.2v2.2h-2.2zM579.8 328.2h2.2v2.2h-2.2zM580.0 331.8h2.2v2.2h-2.2zM580.2 333.6h2.2v2.2h-2.2zM580.3 331.8h2.2v2.2h-2.2zM580.5 332.9h2.2v2.2h-2.2zM580.7 329.3h2.2v2.2h-2.2zM580.9 329.6h2.2v2.2h-2.2zM581.0 331.1h2.2v2.2h-2.2zM581.2 330.8h2.2v2.2h-2.2zM581.4 330.1h2.2v2.2h-2.2zM581.5 323.5h2.2v2.2h-2.2zM581.7 325.4h2.2v2.2h-2.2zM581.9 334.4h2.2v2.2h-2.2zM582.1 329.7h2.2v2.2h-2.2zM582.2 333.5h2.2v2.2h-2.2zM582.4 332.6h2.2v2.2h-2.2zM582.6 333.5h2.2v2.2h-2.2zM582.7 335.5h2.2v2.2h-2.2zM582.9 339.4h2.2v2.2h-2.2zM583.1 345.0h2.2v2.2h-2.2zM583.2 332.0h2.2v2.2h-2.2zM583.4 327.4h2.2v2.2h-2.2zM583.6 337.9h2.2v2.2h-2.2zM583.8 331.1h2.2v2.2h-2.2zM583.9 335.7h2.2v2.2h-2.2zM584.1 332.6h2.2v2.2h-2.2zM584.3 338.1h2.2v2.2h-2.2zM584.4 335.5h2.2v2.2h-2.2zM584.6 335.1h2.2v2.2h-2.2zM584.8 346.4h2.2v2.2h-2.2zM585.0 333.9h2.2v2.2h-2.2zM585.1 335.8h2.2v2.2h-2.2zM585.3 347.5h2.2v2.2h-2.2zM585.5 332.3h2.2v2.2h-2.2zM585.6 335.9h2.2v2.2h-2.2zM585.8 334.9h2.2v2.2h-2.2zM586.0 334.3h2.2v2.2h-2.2zM586.1 338.4h2.2v2.2h-2.2zM586.3 341.8h2.2v2.2h-2.2zM586.5 338.9h2.2v2.2h-2.2zM586.7 339.0h2.2v2.2h-2.2zM586.8 326.2h2.2v2.2h-2.2zM587.0 328.3h2.2v2.2h-2.2zM587.2 339.9h2.2v2.2h-2.2zM587.3 339.8h2.2v2.2h-2.2zM587.5 336.3h2.2v2.2h-2.2zM587.7 335.4h2.2v2.2h-2.2zM587.9 341.7h2.2v2.2h-2.2zM588.0 343.5h2.2v2.2h-2.2zM588.2 329.2h2.2v2.2h-2.2zM588.4 333.8h2.2v2.2h-2.2zM588.5 346.8h2.2v2.2h-2.2zM588.7 348.1h2.2v2.2h-2.2zM588.9 343.6h2.2v2.2h-2.2zM589.0 338.7h2.2v2.2h-2.2zM589.2 337.3h2.2v2.2h-2.2zM589.4 341.9h2.2v2.2h-2.2zM589.6 348.4h2.2v2.2h-2.2zM589.7 339.5h2.2v2.2h-2.2zM589.9 337.9h2.2v2.2h-2.2zM590.1 341.1h2.2v2.2h-2.2zM590.2 343.7h2.2v2.2h-2.2zM590.4 338.6h2.2v2.2h-2.2zM590.6 342.0h2.2v2.2h-2.2zM590.7 347.4h2.2v2.2h-2.2zM590.9 341.7h2.2v2.2h-2.2zM591.1 348.7h2.2v2.2h-2.2zM591.3 337.8h2.2v2.2h-2.2zM591.4 340.5h2.2v2.2h-2.2zM591.6 347.9h2.2v2.2h-2.2zM591.8 342.1h2.2v2.2h-2.2zM591.9 337.2h2.2v2.2h-2.2zM592.1 354.2h2.2v2.2h-2.2zM592.3 344.5h2.2v2.2h-2.2zM592.5 335.9h2.2v2.2h-2.2zM592.6 351.9h2.2v2.2h-2.2zM592.8 345.3h2.2v2.2h-2.2zM593.0 351.8h2.2v2.2h-2.2zM593.1 345.3h2.2v2.2h-2.2zM593.3 357.0h2.2v2.2h-2.2zM593.5 353.4h2.2v2.2h-2.2zM593.6 348.3h2.2v2.2h-2.2zM593.8 345.1h2.2v2.2h-2.2zM594.0 344.2h2.2v2.2h-2.2zM594.2 344.2h2.2v2.2h-2.2zM594.3 340.8h2.2v2.2h-2.2zM594.5 343.3h2.2v2.2h-2.2zM594.7 343.3h2.2v2.2h-2.2zM594.8 352.0h2.2v2.2h-2.2zM595.0 348.2h2.2v2.2h-2.2zM595.2 331.9h2.2v2.2h-2.2zM595.4 336.6h2.2v2.2h-2.2zM595.5 344.0h2.2v2.2h-2.2zM595.7 344.7h2.2v2.2h-2.2zM595.9 343.6h2.2v2.2h-2.2zM596.0 350.8h2.2v2.2h-2.2zM596.2 339.3h2.2v2.2h-2.2zM596.4 351.1h2.2v2.2h-2.2zM596.5 349.9h2.2v2.2h-2.2zM596.7 338.9h2.2v2.2h-2.2zM596.9 360.2h2.2v2.2h-2.2zM597.1 348.4h2.2v2.2h-2.2zM597.2 358.9h2.2v2.2h-2.2zM597.4 353.9h2.2v2.2h-2.2zM597.6 351.3h2.2v2.2h-2.2zM597.7 352.8h2.2v2.2h-2.2zM597.9 350.5h2.2v2.2h-2.2zM598.1 355.4h2.2v2.2h-2.2zM598.3 352.3h2.2v2.2h-2.2zM598.4 357.9h2.2v2.2h-2.2zM598.6 354.2h2.2v2.2h-2.2zM598.8 359.4h2.2v2.2h-2.2zM598.9 349.5h2.2v2.2h-2.2zM599.1 359.4h2.2v2.2h-2.2zM599.3 349.8h2.2v2.2h-2.2zM599.4 355.5h2.2v2.2h-2.2zM599.6 355.2h2.2v2.2h-2.2zM599.8 348.1h2.2v2.2h-2.2zM600.0 353.7h2.2v2.2h-2.2zM600.1 363.9h2.2v2.2h-2.2zM600.3 352.2h2.2v2.2h-2.2zM600.5 369.4h2.2v2.2h-2.2zM600.6 353.8h2.2v2.2h-2.2zM600.8 357.4h2.2v2.2h-2.2zM601.0 362.6h2.2v2.2h-2.2zM601.1 355.5h2.2v2.2h-2.2zM601.3 357.7h2.2v2.2h-2.2zM601.5 346.4h2.2v2.2h-2.2zM601.7 358.8h2.2v2.2h-2.2zM601.8 347.2h2.2v2.2h-2.2zM602.0 350.2h2.2v2.2h-2.2zM602.2 360.4h2.2v2.2h-2.2zM602.3 361.7h2.2v2.2h-2.2zM602.5 351.3h2.2v2.2h-2.2zM602.7 358.8h2.2v2.2h-2.2zM602.9 357.6h2.2v2.2h-2.2zM603.0 359.9h2.2v2.2h-2.2zM603.2 364.9h2.2v2.2h-2.2zM603.4 361.0h2.2v2.2h-2.2zM603.5 364.2h2.2v2.2h-2.2zM603.7 367.3h2.2v2.2h-2.2zM603.9 361.3h2.2v2.2h-2.2zM604.0 351.2h2.2v2.2h-2.2zM604.2 352.3h2.2v2.2h-2.2zM604.4 360.9h2.2v2.2h-2.2zM604.6 360.2h2.2v2.2h-2.2zM604.7 358.6h2.2v2.2h-2.2zM604.9 354.6h2.2v2.2h-2.2zM605.1 360.1h2.2v2.2h-2.2zM605.2 364.3h2.2v2.2h-2.2zM605.4 364.1h2.2v2.2h-2.2zM605.6 356.7h2.2v2.2h-2.2zM605.8 349.6h2.2v2.2h-2.2zM605.9 366.1h2.2v2.2h-2.2zM606.1 373.5h2.2v2.2h-2.2zM606.3 359.4h2.2v2.2h-2.2zM606.4 364.1h2.2v2.2h-2.2zM606.6 363.3h2.2v2.2h-2.2zM606.8 358.0h2.2v2.2h-2.2zM606.9 364.1h2.2v2.2h-2.2zM607.1 371.4h2.2v2.2h-2.2zM607.3 374.9h2.2v2.2h-2.2zM607.5 365.5h2.2v2.2h-2.2zM607.6 371.3h2.2v2.2h-2.2zM607.8 364.3h2.2v2.2h-2.2zM608.0 372.5h2.2v2.2h-2.2zM608.1 368.1h2.2v2.2h-2.2zM608.3 374.0h2.2v2.2h-2.2zM608.5 368.7h2.2v2.2h-2.2zM608.7 369.4h2.2v2.2h-2.2zM608.8 364.4h2.2v2.2h-2.2zM609.0 360.9h2.2v2.2h-2.2zM609.2 368.8h2.2v2.2h-2.2zM609.3 372.5h2.2v2.2h-2.2zM609.5 358.6h2.2v2.2h-2.2zM609.7 366.9h2.2v2.2h-2.2zM609.8 365.9h2.2v2.2h-2.2zM610.0 366.2h2.2v2.2h-2.2zM610.2 362.2h2.2v2.2h-2.2zM610.4 364.7h2.2v2.2h-2.2zM610.5 366.6h2.2v2.2h-2.2zM610.7 366.4h2.2v2.2h-2.2zM610.9 374.9h2.2v2.2h-2.2zM611.0 373.9h2.2v2.2h-2.2zM611.2 371.6h2.2v2.2h-2.2zM611.4 370.9h2.2v2.2h-2.2zM611.5 371.6h2.2v2.2h-2.2zM611.7 370.4h2.2v2.2h-2.2zM611.9 372.1h2.2v2.2h-2.2zM612.1 374.6h2.2v2.2h-2.2zM612.2 380.9h2.2v2.2h-2.2zM612.4 368.8h2.2v2.2h-2.2zM612.6 370.3h2.2v2.2h-2.2zM612.7 378.0h2.2v2.2h-2.2zM612.9 371.3h2.2v2.2h-2.2zM613.1 372.1h2.2v2.2h-2.2zM613.3 374.0h2.2v2.2h-2.2zM613.4 383.9h2.2v2.2h-2.2zM613.6 381.0h2.2v2.2h-2.2zM613.8 378.2h2.2v2.2h-2.2zM613.9 367.4h2.2v2.2h-2.2zM614.1 380.1h2.2v2.2h-2.2zM614.3 377.8h2.2v2.2h-2.2zM614.4 381.9h2.2v2.2h-2.2zM614.6 379.1h2.2v2.2h-2.2zM614.8 375.1h2.2v2.2h-2.2zM615.0 387.6h2.2v2.2h-2.2zM615.1 391.7h2.2v2.2h-2.2zM615.3 374.4h2.2v2.2h-2.2zM615.5 377.8h2.2v2.2h-2.2zM615.6 381.3h2.2v2.2h-2.2zM615.8 373.7h2.2v2.2h-2.2zM616.0 373.9h2.2v2.2h-2.2zM616.2 389.7h2.2v2.2h-2.2zM616.3 380.2h2.2v2.2h-2.2zM616.5 374.1h2.2v2.2h-2.2zM616.7 383.3h2.2v2.2h-2.2zM616.8 381.8h2.2v2.2h-2.2zM617.0 375.7h2.2v2.2h-2.2zM617.2 382.2h2.2v2.2h-2.2zM617.3 387.1h2.2v2.2h-2.2zM617.5 384.8h2.2v2.2h-2.2zM617.7 388.3h2.2v2.2h-2.2zM617.9 379.2h2.2v2.2h-2.2zM618.0 390.9h2.2v2.2h-2.2zM618.2 377.5h2.2v2.2h-2.2zM618.4 391.1h2.2v2.2h-2.2zM618.5 382.9h2.2v2.2h-2.2zM618.7 390.8h2.2v2.2h-2.2zM618.9 385.3h2.2v2.2h-2.2zM619.1 378.8h2.2v2.2h-2.2zM619.2 378.6h2.2v2.2h-2.2zM619.4 377.9h2.2v2.2h-2.2zM619.6 385.3h2.2v2.2h-2.2zM619.7 384.6h2.2v2.2h-2.2zM619.9 384.2h2.2v2.2h-2.2zM620.1 382.6h2.2v2.2h-2.2zM620.2 388.0h2.2v2.2h-2.2zM620.4 380.7h2.2v2.2h-2.2zM620.6 384.9h2.2v2.2h-2.2zM620.8 381.1h2.2v2.2h-2.2zM620.9 384.7h2.2v2.2h-2.2zM621.1 384.0h2.2v2.2h-2.2zM621.3 391.4h2.2v2.2h-2.2zM621.4 390.1h2.2v2.2h-2.2zM621.6 394.8h2.2v2.2h-2.2zM621.8 390.1h2.2v2.2h-2.2zM621.9 389.8h2.2v2.2h-2.2zM622.1 385.0h2.2v2.2h-2.2zM622.3 395.8h2.2v2.2h-2.2zM622.5 373.4h2.2v2.2h-2.2zM622.6 390.7h2.2v2.2h-2.2zM622.8 384.0h2.2v2.2h-2.2zM623.0 385.4h2.2v2.2h-2.2zM623.1 403.7h2.2v2.2h-2.2zM623.3 392.6h2.2v2.2h-2.2zM623.5 384.1h2.2v2.2h-2.2zM623.7 404.1h2.2v2.2h-2.2zM623.8 388.2h2.2v2.2h-2.2zM624.0 397.0h2.2v2.2h-2.2zM624.2 395.1h2.2v2.2h-2.2zM624.3 391.9h2.2v2.2h-2.2zM624.5 402.7h2.2v2.2h-2.2zM624.7 392.6h2.2v2.2h-2.2zM624.8 397.2h2.2v2.2h-2.2zM625.0 398.0h2.2v2.2h-2.2zM625.2 391.0h2.2v2.2h-2.2zM625.4 377.1h2.2v2.2h-2.2zM625.5 393.4h2.2v2.2h-2.2zM625.7 392.6h2.2v2.2h-2.2zM625.9 395.9h2.2v2.2h-2.2zM626.0 399.6h2.2v2.2h-2.2zM626.2 395.0h2.2v2.2h-2.2zM626.4 388.9h2.2v2.2h-2.2zM626.6 395.9h2.2v2.2h-2.2zM626.7 392.7h2.2v2.2h-2.2zM626.9 398.6h2.2v2.2h-2.2zM627.1 385.1h2.2v2.2h-2.2zM627.2 406.4h2.2v2.2h-2.2zM627.4 395.4h2.2v2.2h-2.2zM627.6 396.0h2.2v2.2h-2.2zM627.7 397.7h2.2v2.2h-2.2zM627.9 404.9h2.2v2.2h-2.2zM628.1 405.4h2.2v2.2h-2.2zM628.3 401.1h2.2v2.2h-2.2zM628.4 399.7h2.2v2.2h-2.2zM628.6 406.6h2.2v2.2h-2.2zM628.8 406.2h2.2v2.2h-2.2zM628.9 398.3h2.2v2.2h-2.2zM629.1 396.2h2.2v2.2h-2.2zM629.3 404.6h2.2v2.2h-2.2zM629.5 405.6h2.2v2.2h-2.2zM629.6 406.0h2.2v2.2h-2.2zM629.8 390.1h2.2v2.2h-2.2zM630.0 400.5h2.2v2.2h-2.2zM630.1 403.6h2.2v2.2h-2.2zM630.3 398.5h2.2v2.2h-2.2zM630.5 392.3h2.2v2.2h-2.2zM630.6 398.3h2.2v2.2h-2.2zM630.8 411.7h2.2v2.2h-2.2zM631.0 405.2h2.2v2.2h-2.2zM631.2 407.2h2.2v2.2h-2.2zM631.3 407.2h2.2v2.2h-2.2zM631.5 411.9h2.2v2.2h-2.2zM631.7 408.0h2.2v2.2h-2.2zM631.8 411.8h2.2v2.2h-2.2zM632.0 404.9h2.2v2.2h-2.2zM632.2 406.7h2.2v2.2h-2.2zM632.3 414.4h2.2v2.2h-2.2zM632.5 416.2h2.2v2.2h-2.2zM632.7 410.3h2.2v2.2h-2.2zM632.9 404.9h2.2v2.2h-2.2zM633.0 406.0h2.2v2.2h-2.2zM633.2 409.2h2.2v2.2h-2.2zM633.4 425.8h2.2v2.2h-2.2zM633.5 411.9h2.2v2.2h-2.2zM633.7 413.5h2.2v2.2h-2.2zM633.9 411.8h2.2v2.2h-2.2zM634.1 416.5h2.2v2.2h-2.2zM634.2 412.9h2.2v2.2h-2.2zM634.4 414.4h2.2v2.2h-2.2zM634.6 397.6h2.2v2.2h-2.2zM634.7 408.0h2.2v2.2h-2.2zM634.9 412.9h2.2v2.2h-2.2zM635.1 412.5h2.2v2.2h-2.2zM635.2 413.1h2.2v2.2h-2.2zM635.4 411.9h2.2v2.2h-2.2zM635.6 415.2h2.2v2.2h-2.2zM635.8 413.6h2.2v2.2h-2.2zM635.9 408.6h2.2v2.2h-2.2zM636.1 409.9h2.2v2.2h-2.2zM636.3 412.8h2.2v2.2h-2.2zM636.4 408.0h2.2v2.2h-2.2zM636.6 413.9h2.2v2.2h-2.2zM636.8 420.3h2.2v2.2h-2.2zM637.0 424.5h2.2v2.2h-2.2zM637.1 419.5h2.2v2.2h-2.2zM637.3 416.6h2.2v2.2h-2.2zM637.5 414.6h2.2v2.2h-2.2zM637.6 411.5h2.2v2.2h-2.2zM637.8 420.1h2.2v2.2h-2.2zM638.0 421.6h2.2v2.2h-2.2zM638.1 413.9h2.2v2.2h-2.2zM638.3 412.2h2.2v2.2h-2.2zM638.5 420.9h2.2v2.2h-2.2zM638.7 417.1h2.2v2.2h-2.2zM638.8 412.1h2.2v2.2h-2.2zM639.0 417.8h2.2v2.2h-2.2zM639.2 420.0h2.2v2.2h-2.2zM639.3 430.6h2.2v2.2h-2.2zM639.5 413.6h2.2v2.2h-2.2zM639.7 417.4h2.2v2.2h-2.2zM639.9 420.4h2.2v2.2h-2.2zM640.0 423.7h2.2v2.2h-2.2zM640.2 427.9h2.2v2.2h-2.2zM640.4 422.4h2.2v2.2h-2.2zM640.5 422.8h2.2v2.2h-2.2zM640.7 417.0h2.2v2.2h-2.2zM640.9 429.0h2.2v2.2h-2.2zM641.0 415.9h2.2v2.2h-2.2zM641.2 423.3h2.2v2.2h-2.2zM641.4 417.8h2.2v2.2h-2.2zM641.6 429.1h2.2v2.2h-2.2zM641.7 422.7h2.2v2.2h-2.2zM641.9 418.6h2.2v2.2h-2.2zM642.1 424.5h2.2v2.2h-2.2zM642.2 432.9h2.2v2.2h-2.2zM642.4 427.4h2.2v2.2h-2.2zM642.6 423.3h2.2v2.2h-2.2zM642.7 433.4h2.2v2.2h-2.2zM642.9 434.0h2.2v2.2h-2.2zM643.1 425.8h2.2v2.2h-2.2zM643.3 432.1h2.2v2.2h-2.2zM643.4 424.2h2.2v2.2h-2.2zM643.6 433.9h2.2v2.2h-2.2zM643.8 437.6h2.2v2.2h-2.2zM643.9 432.5h2.2v2.2h-2.2zM644.1 421.3h2.2v2.2h-2.2zM644.3 433.6h2.2v2.2h-2.2zM644.5 429.6h2.2v2.2h-2.2zM644.6 428.6h2.2v2.2h-2.2zM644.8 435.0h2.2v2.2h-2.2zM645.0 425.0h2.2v2.2h-2.2zM645.1 429.9h2.2v2.2h-2.2zM645.3 428.9h2.2v2.2h-2.2zM645.5 440.0h2.2v2.2h-2.2zM645.6 440.6h2.2v2.2h-2.2zM645.8 446.0h2.2v2.2h-2.2zM646.0 433.4h2.2v2.2h-2.2zM646.2 433.9h2.2v2.2h-2.2zM646.3 429.4h2.2v2.2h-2.2zM646.5 425.8h2.2v2.2h-2.2zM646.7 435.0h2.2v2.2h-2.2zM646.8 435.3h2.2v2.2h-2.2zM647.0 432.0h2.2v2.2h-2.2z" fill="#ff0000"/>
<polyline points="424.60,421.75 425.72,421.03 426.84,420.32 427.95,419.62 429.07,418.92 430.19,418.23 431.31,417.54 432.42,416.85 433.54,416.17 434.66,415.50 435.78,414.83 436.89,414.16 438.01,413.50 439.13,412.85 440.25,412.20 441.36,411.55 442.48,410.92 443.60,410.28 444.72,409.66 445.83,409.04 446.95,408.42 448.07,407.81 449.19,407.21 450.30,406.61 451.42,406.02 452.54,405.43 453.66,404.85 454.77,404.28 455.89,403.71 457.01,403.15 458.13,402.60 459.25,402.05 460.36,401.51 461.48,400.98 462.60,400.45 463.72,399.93 464.83,399.41 465.95,398.90 467.07,398.40 468.19,397.91 469.30,397.42 470.42,396.94 471.54,396.47 472.66,396.00 473.77,395.55 474.89,395.10 476.01,394.65 477.13,394.21 478.24,393.79 479.36,393.36 480.48,392.95 481.60,392.54 482.71,392.14 483.83,391.75 484.95,391.37 486.07,390.99 487.18,390.62 488.30,390.26 489.42,389.91 490.54,389.56 491.66,389.23 492.77,388.90 493.89,388.58 495.01,388.26 496.13,387.96 497.24,387.66 498.36,387.37 499.48,387.09 500.60,386.82 501.71,386.55 502.83,386.30 503.95,386.05 505.07,385.81 506.18,385.58 507.30,385.35 508.42,385.14 509.54,384.93 510.65,384.73 511.77,384.55 512.89,384.36 514.01,384.19 515.12,384.03 516.24,383.87 517.36,383.73 518.48,383.59 519.59,383.46 520.71,383.34 521.83,383.22 522.95,383.12 524.07,383.02 525.18,382.94 526.30,382.86 527.42,382.79 528.54,382.73 529.65,382.68 530.77,382.63 531.89,382.60 533.01,382.57 534.12,382.55 535.24,382.55 536.36,382.55 537.48,382.55 538.59,382.56 539.71,382.58 540.83,382.60 541.95,382.62 543.06,382.65 544.18,382.68 545.30,382.72 546.42,382.77 547.53,382.82 548.65,382.87 549.77,382.93 550.89,383.00 552.01,383.07 553.12,383.14 554.24,383.22 555.36,383.30 556.48,383.39 557.59,383.49 558.71,383.59 559.83,383.69 560.95,383.80 562.06,383.91 563.18,384.03 564.30,384.15 565.42,384.28 566.53,384.41 567.65,384.55 568.77,384.70 569.89,384.84 571.00,385.00 572.12,385.15 573.24,385.31 574.36,385.48 575.47,385.65 576.59,385.83 577.71,386.01 578.83,386.20 579.94,386.39 581.06,386.58 582.18,386.78 583.30,386.99 584.42,387.20 585.53,387.41 586.65,387.63 587.77,387.85 588.89,388.08 590.00,388.31 591.12,388.55 592.24,388.79 593.36,389.04 594.47,389.29 595.59,389.54 596.71,389.80 597.83,390.07 598.94,390.33 600.06,390.61 601.18,390.89 602.30,391.17 603.41,391.45 604.53,391.74 605.65,392.04 606.77,392.34 607.88,392.64 609.00,392.95 610.12,393.26 611.24,393.58 612.35,393.90 613.47,394.23 614.59,394.56 615.71,394.89 616.83,395.23 617.94,395.57 619.06,395.92 620.18,396.27 621.30,396.62 622.41,396.98 623.53,397.34 624.65,397.71 625.77,398.08 626.88,398.45 628.00,398.83 629.12,399.21 630.24,399.60 631.35,399.99 632.47,400.38 633.59,400.78 634.71,401.18 635.82,401.59 636.94,402.00 638.06,402.41 639.18,402.83 640.29,403.25 641.41,403.67 642.53,404.10 643.65,404.53 644.76,404.96 645.88,405.40 647.00,405.84" fill="none" stroke="#ff00ff" stroke-width="1.3" stroke-dasharray="6 3.5"/>
<polyline points="463.52,443.24 464.44,440.71 465.36,438.18 466.29,435.65 467.21,433.13 468.13,430.62 469.05,428.11 469.97,425.60 470.90,423.10 471.82,420.61 472.74,418.13 473.66,415.66 474.58,413.20 475.51,410.75 476.43,408.31 477.35,405.89 478.27,403.48 479.19,401.08 480.12,398.69 481.04,396.33 481.96,393.97 482.88,391.64 483.80,389.32 484.73,387.02 485.65,384.75 486.57,382.49 487.49,380.25 488.41,378.04 489.34,375.84 490.26,373.67 491.18,371.53 492.10,369.41 493.02,367.31 493.95,365.24 494.87,363.20 495.79,361.19 496.71,359.20 497.63,357.25 498.56,355.32 499.48,353.42 500.40,351.56 501.32,349.73 502.24,347.93 503.17,346.16 504.09,344.43 505.01,342.73 505.93,341.07 506.85,339.44 507.78,337.85 508.70,336.30 509.62,334.79 510.54,333.31 511.46,331.87 512.39,330.47 513.31,329.12 514.23,327.80 515.15,326.52 516.07,325.29 517.00,324.09 517.92,322.94 518.84,321.84 519.76,320.77 520.68,319.75 521.61,318.78 522.53,317.84 523.45,316.96 524.37,316.12 525.29,315.32 526.22,314.57 527.14,313.87 528.06,313.21 528.98,312.60 529.90,312.04 530.83,311.52 531.75,311.05 532.67,310.63 533.59,310.26 534.51,309.94 535.44,309.66 536.36,309.43 537.28,309.25 538.20,309.12 539.12,309.04 540.05,309.00 540.97,309.01 541.89,309.04 542.81,309.09 543.73,309.16 544.66,309.26 545.58,309.38 546.50,309.52 547.42,309.69 548.34,309.87 549.27,310.08 550.19,310.32 551.11,310.57 552.03,310.85 552.95,311.15 553.88,311.47 554.80,311.82 555.72,312.18 556.64,312.57 557.57,312.98 558.49,313.41 559.41,313.87 560.33,314.35 561.25,314.84 562.18,315.36 563.10,315.90 564.02,316.47 564.94,317.05 565.86,317.66 566.79,318.28 567.71,318.93 568.63,319.60 569.55,320.28 570.47,320.99 571.40,321.72 572.32,322.47 573.24,323.24 574.16,324.03 575.08,324.84 576.01,325.67 576.93,326.52 577.85,327.39 578.77,328.28 579.69,329.19 580.62,330.11 581.54,331.06 582.46,332.02 583.38,333.01 584.30,334.01 585.23,335.02 586.15,336.06 587.07,337.11 587.99,338.19 588.91,339.28 589.84,340.38 590.76,341.50 591.68,342.64 592.60,343.80 593.52,344.97 594.45,346.16 595.37,347.37 596.29,348.59 597.21,349.82 598.13,351.08 599.06,352.34 599.98,353.62 600.90,354.92 601.82,356.23 602.74,357.55 603.67,358.89 604.59,360.24 605.51,361.61 606.43,362.99 607.35,364.38 608.28,365.79 609.20,367.20 610.12,368.63 611.04,370.08 611.96,371.53 612.89,372.99 613.81,374.47 614.73,375.96 615.65,377.46 616.57,378.97 617.50,380.49 618.42,382.02 619.34,383.56 620.26,385.11 621.18,386.67 622.11,388.23 623.03,389.81 623.95,391.40 624.87,392.99 625.79,394.59 626.72,396.20 627.64,397.82 628.56,399.45 629.48,401.08 630.40,402.72 631.33,404.36 632.25,406.02 633.17,407.68 634.09,409.34 635.01,411.01 635.94,412.69 636.86,414.37 637.78,416.05 638.70,417.75 639.62,419.44 640.55,421.14 641.47,422.84 642.39,424.55 643.31,426.26 644.23,427.98 645.16,429.69 646.08,431.41 647.00,433.13" fill="none" stroke="#22dd22" stroke-width="1.3" stroke-dasharray="6 3.5"/>
</g>
<line x1="535.80" y1="253.70" x2="535.80" y2="429.00" stroke="#3f5b96" stroke-width="1.7" stroke-dasharray="6.1 5.3"/>
<line x1="542.60" y1="253.70" x2="542.60" y2="429.00" stroke="#cf4f4f" stroke-width="1.7" stroke-dasharray="6.1 5.3"/>
<line x1="509.80" y1="296.30" x2="532.50" y2="296.30" stroke="#3f5068" stroke-width="1.2" />
<path d="M534.2 296.3L528.6 293.4L529.6 296.3L528.6 299.2Z" fill="#3f5068"/>
<line x1="546.20" y1="296.30" x2="571.20" y2="296.30" stroke="#3f5068" stroke-width="1.2" />
<path d="M544.4 296.3L550.0 293.4L549.0 296.3L550.0 299.2Z" fill="#3f5068"/>
<line x1="424.50" y1="248.60" x2="647.00" y2="248.60" stroke="#231f20" stroke-width="1.3" />
<line x1="424.50" y1="429.20" x2="647.00" y2="429.20" stroke="#231f20" stroke-width="1.3" />
<line x1="424.50" y1="248.00" x2="424.50" y2="429.80" stroke="#1d2088" stroke-width="1.3" />
<line x1="647.00" y1="248.00" x2="647.00" y2="429.80" stroke="#ff0000" stroke-width="1.3" />
<line x1="424.50" y1="429.20" x2="427.90" y2="429.20" stroke="#1d2088" stroke-width="1" />
<text x="419.80" y="432.20" font-size="8.5" fill="#2e3192" text-anchor="end" >0.6</text>
<line x1="424.50" y1="369.00" x2="427.90" y2="369.00" stroke="#1d2088" stroke-width="1" />
<text x="419.80" y="372.00" font-size="8.5" fill="#2e3192" text-anchor="end" >0.8</text>
<line x1="424.50" y1="308.80" x2="427.90" y2="308.80" stroke="#1d2088" stroke-width="1" />
<text x="419.80" y="311.80" font-size="8.5" fill="#2e3192" text-anchor="end" >1.0</text>
<line x1="424.50" y1="248.60" x2="427.90" y2="248.60" stroke="#1d2088" stroke-width="1" />
<text x="419.80" y="251.60" font-size="8.5" fill="#2e3192" text-anchor="end" >1.2</text>
<line x1="424.50" y1="399.10" x2="426.70" y2="399.10" stroke="#1d2088" stroke-width="1" />
<line x1="424.50" y1="338.90" x2="426.70" y2="338.90" stroke="#1d2088" stroke-width="1" />
<line x1="424.50" y1="278.70" x2="426.70" y2="278.70" stroke="#1d2088" stroke-width="1" />
<line x1="647.00" y1="429.20" x2="643.60" y2="429.20" stroke="#ff0000" stroke-width="1" />
<text x="652.60" y="432.20" font-size="8.5" fill="#ff0000" >2.0</text>
<line x1="647.00" y1="369.10" x2="643.60" y2="369.10" stroke="#ff0000" stroke-width="1" />
<text x="652.60" y="372.10" font-size="8.5" fill="#ff0000" >2.5</text>
<line x1="647.00" y1="309.00" x2="643.60" y2="309.00" stroke="#ff0000" stroke-width="1" />
<text x="652.60" y="312.00" font-size="8.5" fill="#ff0000" >3.0</text>
<line x1="647.00" y1="248.90" x2="643.60" y2="248.90" stroke="#ff0000" stroke-width="1" />
<text x="652.60" y="251.90" font-size="8.5" fill="#ff0000" >3.5</text>
<line x1="647.00" y1="399.15" x2="644.80" y2="399.15" stroke="#ff0000" stroke-width="1" />
<line x1="647.00" y1="339.05" x2="644.80" y2="339.05" stroke="#ff0000" stroke-width="1" />
<line x1="647.00" y1="278.95" x2="644.80" y2="278.95" stroke="#ff0000" stroke-width="1" />
<line x1="424.60" y1="429.20" x2="424.60" y2="425.80" stroke="#231f20" stroke-width="1" />
<text x="424.60" y="440.40" font-size="8.5" fill="#231f20" text-anchor="middle" >–2</text>
<line x1="480.20" y1="429.20" x2="480.20" y2="425.80" stroke="#231f20" stroke-width="1" />
<text x="480.20" y="440.40" font-size="8.5" fill="#231f20" text-anchor="middle" >–1</text>
<line x1="535.80" y1="429.20" x2="535.80" y2="425.80" stroke="#231f20" stroke-width="1" />
<text x="535.80" y="440.40" font-size="8.5" fill="#231f20" text-anchor="middle" >0</text>
<line x1="591.40" y1="429.20" x2="591.40" y2="425.80" stroke="#231f20" stroke-width="1" />
<text x="591.40" y="440.40" font-size="8.5" fill="#231f20" text-anchor="middle" >1</text>
<line x1="647.00" y1="429.20" x2="647.00" y2="425.80" stroke="#231f20" stroke-width="1" />
<text x="647.00" y="440.40" font-size="8.5" fill="#231f20" text-anchor="middle" >2</text>
<line x1="438.50" y1="429.20" x2="438.50" y2="427.00" stroke="#231f20" stroke-width="1" />
<line x1="452.40" y1="429.20" x2="452.40" y2="427.00" stroke="#231f20" stroke-width="1" />
<line x1="466.30" y1="429.20" x2="466.30" y2="427.00" stroke="#231f20" stroke-width="1" />
<line x1="494.10" y1="429.20" x2="494.10" y2="427.00" stroke="#231f20" stroke-width="1" />
<line x1="508.00" y1="429.20" x2="508.00" y2="427.00" stroke="#231f20" stroke-width="1" />
<line x1="521.90" y1="429.20" x2="521.90" y2="427.00" stroke="#231f20" stroke-width="1" />
<line x1="549.70" y1="429.20" x2="549.70" y2="427.00" stroke="#231f20" stroke-width="1" />
<line x1="563.60" y1="429.20" x2="563.60" y2="427.00" stroke="#231f20" stroke-width="1" />
<line x1="577.50" y1="429.20" x2="577.50" y2="427.00" stroke="#231f20" stroke-width="1" />
<line x1="605.30" y1="429.20" x2="605.30" y2="427.00" stroke="#231f20" stroke-width="1" />
<line x1="619.20" y1="429.20" x2="619.20" y2="427.00" stroke="#231f20" stroke-width="1" />
<line x1="633.10" y1="429.20" x2="633.10" y2="427.00" stroke="#231f20" stroke-width="1" />
<rect x="562.2" y="255.2" width="2.2" height="2.2" fill="#000080"/>
<line x1="551.00" y1="265.20" x2="574.00" y2="265.20" stroke="#ff00ff" stroke-width="1.3" stroke-dasharray="8 7"/>
<rect x="562.2" y="273.3" width="2.2" height="2.2" fill="#ff0000"/>
<line x1="551.00" y1="284.20" x2="574.00" y2="284.20" stroke="#22dd22" stroke-width="1.3" stroke-dasharray="8 7"/>
<text x="580.10" y="258.70" font-size="8.0" fill="#231f20" textLength="39.1" lengthAdjust="spacingAndGlyphs" >Pump pulse</text>
<text x="580.10" y="268.00" font-size="8.0" fill="#231f20" textLength="61.3" lengthAdjust="spacingAndGlyphs" >Pump pulse, fitted</text>
<text x="580.10" y="277.30" font-size="8.0" fill="#231f20" textLength="41.1" lengthAdjust="spacingAndGlyphs" >Signal pulse</text>
<text x="580.10" y="286.90" font-size="8.0" fill="#231f20" textLength="63.0" lengthAdjust="spacingAndGlyphs" >Signal pulse, fitted</text>
<text x="439.9" y="286.0" font-size="9.8" fill="#231f20" textLength="65.2" lengthAdjust="spacingAndGlyphs">Δ<tspan font-style="italic">t</tspan> = 110 ± 38 ps</text>
<text x="514.20" y="454.90" font-size="10.8" fill="#231f20" textLength="44.0" lengthAdjust="spacingAndGlyphs" >Time (ns)</text>
<text x="394.6" y="400.4" font-size="10.6" fill="#2e3192" transform="rotate(-90 394.6 400.4)" textLength="123.6" lengthAdjust="spacingAndGlyphs">Pump pulse (×10<tspan font-size="6.8" dy="-3.8">3</tspan><tspan dy="3.8"> counts)</tspan></text>
<text x="675.0" y="276.0" font-size="10.6" fill="#ff0000" transform="rotate(90 675.0 276.0)" textLength="125.3" lengthAdjust="spacingAndGlyphs">Signal pulse (×10<tspan font-size="6.8" dy="-3.8">3</tspan><tspan dy="3.8"> counts)</tspan></text>
<text x="386.80" y="245.00" font-size="14.6" fill="#000" font-weight="bold" stroke="#000" stroke-width="0.45">d</text>
<clipPath id="clipa"><rect x="17.2" y="4.1" width="191.10000000000002" height="215.1"/></clipPath>
<g clip-path="url(#clipa)">
<rect x="17.2" y="4.1" width="191.10000000000002" height="215.1" fill="#474747"/>
<rect x="-79.60000000000001" y="-77.5" width="124.20000000000002" height="124.4" rx="3.8" fill="#767676"/>
<rect x="-78.7" y="-76.6" width="122.40000000000002" height="122.60000000000001" rx="3.2" fill="#6a6a6a"/>
<rect x="-77.60000000000001" y="-75.5" width="120.20000000000002" height="120.4" rx="2.5" fill="#636363"/>
<rect x="-79.60000000000001" y="52.1" width="124.20000000000002" height="124.5" rx="3.8" fill="#767676"/>
<rect x="-78.7" y="53.0" width="122.40000000000002" height="122.7" rx="3.2" fill="#6a6a6a"/>
<rect x="-77.60000000000001" y="54.1" width="120.20000000000002" height="120.5" rx="2.5" fill="#636363"/>
<rect x="-79.60000000000001" y="181.79999999999998" width="124.20000000000002" height="124.6" rx="3.8" fill="#767676"/>
<rect x="-78.7" y="182.7" width="122.40000000000002" height="122.8" rx="3.2" fill="#6a6a6a"/>
<rect x="-77.60000000000001" y="183.79999999999998" width="120.20000000000002" height="120.6" rx="2.5" fill="#636363"/>
<rect x="49.800000000000004" y="-77.5" width="124.19999999999999" height="124.4" rx="3.8" fill="#767676"/>
<rect x="50.7" y="-76.6" width="122.39999999999999" height="122.60000000000001" rx="3.2" fill="#6a6a6a"/>
<rect x="51.800000000000004" y="-75.5" width="120.19999999999999" height="120.4" rx="2.5" fill="#636363"/>
<rect x="49.800000000000004" y="52.1" width="124.19999999999999" height="124.5" rx="3.8" fill="#767676"/>
<rect x="50.7" y="53.0" width="122.39999999999999" height="122.7" rx="3.2" fill="#6a6a6a"/>
<rect x="51.800000000000004" y="54.1" width="120.19999999999999" height="120.5" rx="2.5" fill="#636363"/>
<rect x="49.800000000000004" y="181.79999999999998" width="124.19999999999999" height="124.6" rx="3.8" fill="#767676"/>
<rect x="50.7" y="182.7" width="122.39999999999999" height="122.8" rx="3.2" fill="#6a6a6a"/>
<rect x="51.800000000000004" y="183.79999999999998" width="120.19999999999999" height="120.6" rx="2.5" fill="#636363"/>
<rect x="179.2" y="-77.5" width="124.19999999999999" height="124.4" rx="3.8" fill="#767676"/>
<rect x="180.1" y="-76.6" width="122.39999999999999" height="122.60000000000001" rx="3.2" fill="#6a6a6a"/>
<rect x="181.2" y="-75.5" width="120.19999999999999" height="120.4" rx="2.5" fill="#636363"/>
<rect x="179.2" y="52.1" width="124.19999999999999" height="124.5" rx="3.8" fill="#767676"/>
<rect x="180.1" y="53.0" width="122.39999999999999" height="122.7" rx="3.2" fill="#6a6a6a"/>
<rect x="181.2" y="54.1" width="120.19999999999999" height="120.5" rx="2.5" fill="#636363"/>
<rect x="179.2" y="181.79999999999998" width="124.19999999999999" height="124.6" rx="3.8" fill="#767676"/>
<rect x="180.1" y="182.7" width="122.39999999999999" height="122.8" rx="3.2" fill="#6a6a6a"/>
<rect x="181.2" y="183.79999999999998" width="120.19999999999999" height="120.6" rx="2.5" fill="#636363"/>
<rect x="-83.2" y="4.1" width="2.0" height="215.1" fill="#8c8c8c"/>
<rect x="-82.8" y="4.1" width="1.2" height="215.1" fill="#aaaaaa"/>
<rect x="46.2" y="4.1" width="2.0" height="215.1" fill="#8c8c8c"/>
<rect x="46.6" y="4.1" width="1.2" height="215.1" fill="#aaaaaa"/>
<rect x="175.6" y="4.1" width="2.0" height="215.1" fill="#8c8c8c"/>
<rect x="176.0" y="4.1" width="1.2" height="215.1" fill="#aaaaaa"/>
<rect x="305.0" y="4.1" width="2.0" height="215.1" fill="#8c8c8c"/>
<rect x="305.4" y="4.1" width="1.2" height="215.1" fill="#aaaaaa"/>
<rect x="17.2" y="-81.1" width="191.10000000000002" height="2.0" fill="#8c8c8c"/>
<rect x="17.2" y="-80.69999999999999" width="191.10000000000002" height="1.2" fill="#aaaaaa"/>
<rect x="17.2" y="48.5" width="191.10000000000002" height="2.0" fill="#8c8c8c"/>
<rect x="17.2" y="48.9" width="191.10000000000002" height="1.2" fill="#aaaaaa"/>
<rect x="17.2" y="178.2" width="191.10000000000002" height="2.0" fill="#8c8c8c"/>
<rect x="17.2" y="178.6" width="191.10000000000002" height="1.2" fill="#aaaaaa"/>
<rect x="17.2" y="308.0" width="191.10000000000002" height="2.0" fill="#8c8c8c"/>
<rect x="17.2" y="308.4" width="191.10000000000002" height="1.2" fill="#aaaaaa"/>
<path d="M-90.0 -80.1Q-85.2 -82.69999999999999 -82.2 -82.69999999999999Q-79.2 -82.69999999999999 -74.4 -80.1Q-79.2 -77.5 -82.2 -77.5Q-85.2 -77.5 -90.0 -80.1Z" fill="#7e7e7e"/>
<path d="M-82.2 -87.5Q-84.8 -83.1 -84.8 -80.1Q-84.8 -77.1 -82.2 -73.5Q-79.60000000000001 -77.1 -79.60000000000001 -80.1Q-79.60000000000001 -83.1 -82.2 -87.5Z" fill="#7e7e7e"/>
<path d="M-90.0 49.5Q-85.2 46.9 -82.2 46.9Q-79.2 46.9 -74.4 49.5Q-79.2 52.1 -82.2 52.1Q-85.2 52.1 -90.0 49.5Z" fill="#7e7e7e"/>
<path d="M-82.2 42.1Q-84.8 46.5 -84.8 49.5Q-84.8 52.5 -82.2 56.1Q-79.60000000000001 52.5 -79.60000000000001 49.5Q-79.60000000000001 46.5 -82.2 42.1Z" fill="#7e7e7e"/>
<path d="M-90.0 179.2Q-85.2 176.6 -82.2 176.6Q-79.2 176.6 -74.4 179.2Q-79.2 181.79999999999998 -82.2 181.79999999999998Q-85.2 181.79999999999998 -90.0 179.2Z" fill="#7e7e7e"/>
<path d="M-82.2 171.79999999999998Q-84.8 176.2 -84.8 179.2Q-84.8 182.2 -82.2 185.79999999999998Q-79.60000000000001 182.2 -79.60000000000001 179.2Q-79.60000000000001 176.2 -82.2 171.79999999999998Z" fill="#7e7e7e"/>
<path d="M-90.0 309Q-85.2 306.4 -82.2 306.4Q-79.2 306.4 -74.4 309Q-79.2 311.6 -82.2 311.6Q-85.2 311.6 -90.0 309Z" fill="#7e7e7e"/>
<path d="M-82.2 301.6Q-84.8 306 -84.8 309Q-84.8 312 -82.2 315.6Q-79.60000000000001 312 -79.60000000000001 309Q-79.60000000000001 306 -82.2 301.6Z" fill="#7e7e7e"/>
<path d="M39.400000000000006 -80.1Q44.2 -82.69999999999999 47.2 -82.69999999999999Q50.2 -82.69999999999999 55.0 -80.1Q50.2 -77.5 47.2 -77.5Q44.2 -77.5 39.400000000000006 -80.1Z" fill="#7e7e7e"/>
<path d="M47.2 -87.5Q44.6 -83.1 44.6 -80.1Q44.6 -77.1 47.2 -73.5Q49.800000000000004 -77.1 49.800000000000004 -80.1Q49.800000000000004 -83.1 47.2 -87.5Z" fill="#7e7e7e"/>
<path d="M39.400000000000006 49.5Q44.2 46.9 47.2 46.9Q50.2 46.9 55.0 49.5Q50.2 52.1 47.2 52.1Q44.2 52.1 39.400000000000006 49.5Z" fill="#7e7e7e"/>
<path d="M47.2 42.1Q44.6 46.5 44.6 49.5Q44.6 52.5 47.2 56.1Q49.800000000000004 52.5 49.800000000000004 49.5Q49.800000000000004 46.5 47.2 42.1Z" fill="#7e7e7e"/>
<path d="M39.400000000000006 179.2Q44.2 176.6 47.2 176.6Q50.2 176.6 55.0 179.2Q50.2 181.79999999999998 47.2 181.79999999999998Q44.2 181.79999999999998 39.400000000000006 179.2Z" fill="#7e7e7e"/>
<path d="M47.2 171.79999999999998Q44.6 176.2 44.6 179.2Q44.6 182.2 47.2 185.79999999999998Q49.800000000000004 182.2 49.800000000000004 179.2Q49.800000000000004 176.2 47.2 171.79999999999998Z" fill="#7e7e7e"/>
<path d="M39.400000000000006 309Q44.2 306.4 47.2 306.4Q50.2 306.4 55.0 309Q50.2 311.6 47.2 311.6Q44.2 311.6 39.400000000000006 309Z" fill="#7e7e7e"/>
<path d="M47.2 301.6Q44.6 306 44.6 309Q44.6 312 47.2 315.6Q49.800000000000004 312 49.800000000000004 309Q49.800000000000004 306 47.2 301.6Z" fill="#7e7e7e"/>
<path d="M168.79999999999998 -80.1Q173.6 -82.69999999999999 176.6 -82.69999999999999Q179.6 -82.69999999999999 184.4 -80.1Q179.6 -77.5 176.6 -77.5Q173.6 -77.5 168.79999999999998 -80.1Z" fill="#7e7e7e"/>
<path d="M176.6 -87.5Q174.0 -83.1 174.0 -80.1Q174.0 -77.1 176.6 -73.5Q179.2 -77.1 179.2 -80.1Q179.2 -83.1 176.6 -87.5Z" fill="#7e7e7e"/>
<path d="M168.79999999999998 49.5Q173.6 46.9 176.6 46.9Q179.6 46.9 184.4 49.5Q179.6 52.1 176.6 52.1Q173.6 52.1 168.79999999999998 49.5Z" fill="#7e7e7e"/>
<path d="M176.6 42.1Q174.0 46.5 174.0 49.5Q174.0 52.5 176.6 56.1Q179.2 52.5 179.2 49.5Q179.2 46.5 176.6 42.1Z" fill="#7e7e7e"/>
<path d="M168.79999999999998 179.2Q173.6 176.6 176.6 176.6Q179.6 176.6 184.4 179.2Q179.6 181.79999999999998 176.6 181.79999999999998Q173.6 181.79999999999998 168.79999999999998 179.2Z" fill="#7e7e7e"/>
<path d="M176.6 171.79999999999998Q174.0 176.2 174.0 179.2Q174.0 182.2 176.6 185.79999999999998Q179.2 182.2 179.2 179.2Q179.2 176.2 176.6 171.79999999999998Z" fill="#7e7e7e"/>
<path d="M168.79999999999998 309Q173.6 306.4 176.6 306.4Q179.6 306.4 184.4 309Q179.6 311.6 176.6 311.6Q173.6 311.6 168.79999999999998 309Z" fill="#7e7e7e"/>
<path d="M176.6 301.6Q174.0 306 174.0 309Q174.0 312 176.6 315.6Q179.2 312 179.2 309Q179.2 306 176.6 301.6Z" fill="#7e7e7e"/>
<path d="M298.2 -80.1Q303 -82.69999999999999 306 -82.69999999999999Q309 -82.69999999999999 313.8 -80.1Q309 -77.5 306 -77.5Q303 -77.5 298.2 -80.1Z" fill="#7e7e7e"/>
<path d="M306 -87.5Q303.4 -83.1 303.4 -80.1Q303.4 -77.1 306 -73.5Q308.6 -77.1 308.6 -80.1Q308.6 -83.1 306 -87.5Z" fill="#7e7e7e"/>
<path d="M298.2 49.5Q303 46.9 306 46.9Q309 46.9 313.8 49.5Q309 52.1 306 52.1Q303 52.1 298.2 49.5Z" fill="#7e7e7e"/>
<path d="M306 42.1Q303.4 46.5 303.4 49.5Q303.4 52.5 306 56.1Q308.6 52.5 308.6 49.5Q308.6 46.5 306 42.1Z" fill="#7e7e7e"/>
<path d="M298.2 179.2Q303 176.6 306 176.6Q309 176.6 313.8 179.2Q309 181.79999999999998 306 181.79999999999998Q303 181.79999999999998 298.2 179.2Z" fill="#7e7e7e"/>
<path d="M306 171.79999999999998Q303.4 176.2 303.4 179.2Q303.4 182.2 306 185.79999999999998Q308.6 182.2 308.6 179.2Q308.6 176.2 306 171.79999999999998Z" fill="#7e7e7e"/>
<path d="M298.2 309Q303 306.4 306 306.4Q309 306.4 313.8 309Q309 311.6 306 311.6Q303 311.6 298.2 309Z" fill="#7e7e7e"/>
<path d="M306 301.6Q303.4 306 303.4 309Q303.4 312 306 315.6Q308.6 312 308.6 309Q308.6 306 306 301.6Z" fill="#7e7e7e"/>
<path d="M6.6 49.6 C19.9 52.2 47.8 69.2 47.8 100" fill="none" stroke="#d6d6d6" stroke-width="0.95"/>
<path d="M138.1 49.6 C151.6 52.6 176.8 69.6 176.8 100" fill="none" stroke="#d6d6d6" stroke-width="0.95"/>
<path d="M6.6 178.79999999999998 C19.9 181.39999999999998 47.8 198.39999999999998 47.8 229.2" fill="none" stroke="#d6d6d6" stroke-width="0.95"/>
<path d="M138.1 178.79999999999998 C151.6 181.79999999999998 176.8 198.79999999999998 176.8 229.2" fill="none" stroke="#d6d6d6" stroke-width="0.95"/>
</g>
<rect x="61.4" y="36.4" width="130.2" height="128.6" fill="none" stroke="#dedede" stroke-width="1.15" stroke-dasharray="3.7 2.8"/>
<rect x="134.1" y="39.9" width="51.4" height="50.6" fill="none" stroke="#d62a2a" stroke-width="1.3" stroke-dasharray="4 2.6"/>
<line x1="159.80" y1="39.90" x2="211.00" y2="3.50" stroke="#d62a2a" stroke-width="1.1" stroke-dasharray="4 2.6"/>
<line x1="159.80" y1="90.50" x2="211.00" y2="109.70" stroke="#d62a2a" stroke-width="1.1" stroke-dasharray="4 2.6"/>
<text x="57.90" y="32.80" font-size="8.7" fill="#f4f4f4" textLength="40.0" lengthAdjust="spacingAndGlyphs" >Input port</text>
<text x="153.60" y="32.80" font-size="8.7" fill="#f4f4f4" textLength="54.0" lengthAdjust="spacingAndGlyphs" >Through port</text>
<text x="75.80" y="104.50" font-size="10.3" fill="#f4f4f4" textLength="85.1" lengthAdjust="spacingAndGlyphs" >Single switch unit</text>
<text x="126.60" y="156.50" font-size="8.7" fill="#f4f4f4" textLength="39.6" lengthAdjust="spacingAndGlyphs" >Drop port</text>
<text x="50.70" y="214.60" font-size="8.7" fill="#f4f4f4" textLength="25.1" lengthAdjust="spacingAndGlyphs" >10 µm</text>
<line x1="62.60" y1="43.70" x2="78.00" y2="43.70" stroke="#f4f4f4" stroke-width="1.5" />
<path d="M82.10 43.70L77.50 46.30L77.50 41.10Z" fill="#f4f4f4"/>
<line x1="186.80" y1="43.60" x2="201.20" y2="43.60" stroke="#f4f4f4" stroke-width="1.5" />
<path d="M205.30 43.60L200.70 46.20L200.70 41.00Z" fill="#f4f4f4"/>
<line x1="170.40" y1="144.20" x2="170.40" y2="158.90" stroke="#f4f4f4" stroke-width="1.4" />
<path d="M170.40 163.40L167.70 158.40L173.10 158.40Z" fill="#f4f4f4"/>
<rect x="55" y="201.1" width="16" height="3" fill="#fff"/>
<text x="0.00" y="10.70" font-size="14.6" fill="#000" font-weight="bold" stroke="#000" stroke-width="0.45">a</text>
<clipPath id="cliptr"><rect x="212.3" y="4.6" width="130.89999999999998" height="104.0"/></clipPath>
<g clip-path="url(#cliptr)">
<rect x="212.3" y="4.6" width="130.89999999999998" height="104.0" fill="#7d7d7d"/>
<rect x="200" y="27" width="150" height="17" fill="#888888"/>
<path d="M200 -5 L289.5 -5 L294.3 20.5 Q295.2 25.3 290.5 25.3 L200 25.3 Z" fill="#8a8a8a"/>
<path d="M289.5 -5 L294.3 20.5 Q295.2 25.3 290.5 25.3" fill="none" stroke="#a2a2a2" stroke-width="0.9"/>
<path d="M200 26.9 L290.5 26.9 Q293.5 26.9 294.5 25.6" fill="none" stroke="#3a3a3a" stroke-width="2.2"/>
<path d="M317.6 -5 L350 -5 L350 25.5 L328 25.5 Q323.8 25.5 323.2 21 Z" fill="#8a8a8a"/>
<path d="M317.6 -5 L323.2 21 Q323.8 25.5 328 25.5" fill="none" stroke="#a8a8a8" stroke-width="1.0"/>
<path d="M324 26.5 Q325.5 26.5 328 26.5 L350 26.5" fill="none" stroke="#3c3c3c" stroke-width="2.0"/>
<path d="M200 44.1 L297 44.1 Q301.5 44.1 302.3 48.2 L319.6 112 L200 112 Z" fill="#838383"/>
<path d="M200 44.1 L297 44.1 Q301.5 44.1 302.3 48.2 L319.6 112" fill="none" stroke="#ababab" stroke-width="1.0"/>
<path d="M350 43 L337 43 Q332.8 43 332.6 47.5 L342.6 112 L350 112 Z" fill="#828282"/>
<path d="M350 43 L337 43 Q332.8 43 332.6 47.5 L342.6 112" fill="none" stroke="#a8a8a8" stroke-width="0.9"/>
<rect x="200" y="35.6" width="150" height="2.4" fill="#3c3c3c"/>
<path d="M200 33.6 L292 33.6 Q302 31.0 313 31.0 Q325 31.0 335 33.6 L350 33.6 L350 35.6 L335 35.6 Q325 37.4 313 37.4 Q302 37.4 292 35.6 L200 35.6Z" fill="#989898"/>
<path d="M200 33.9 L292 33.9 Q302 31.1 313 31.1 Q325 31.1 335 33.9 L350 33.9" fill="none" stroke="#bcbcbc" stroke-width="1.0"/>
<path d="M303.2 -5 L305.6 -5 L334.3 112 L331.9 112 Z" fill="#979797"/>
<path d="M303.2 -5 L331.9 112" stroke="#b8b8b8" stroke-width="0.9"/>
<path d="M305.8 -5 L334.5 112" stroke="#686868" stroke-width="0.8"/>
<path d="M308.84 19.29 L308.51 20.65 L308.49 21.94 L308.54 23.21 L308.63 24.47 L308.75 25.72 L308.90 26.97 L309.08 28.21 L309.28 29.44 L309.50 30.67 L309.74 31.89 L310.01 33.11 L310.30 34.32 L310.61 35.52 L310.94 36.73 L311.30 37.92 L311.68 39.11 L312.08 40.29 L312.50 41.47 L312.95 42.64 L313.43 43.81 L313.94 44.96 L314.49 46.11 L315.11 47.24 L316.04 48.29 L318.36 47.71 L318.69 46.35 L318.71 45.06 L318.66 43.79 L318.57 42.53 L318.45 41.28 L318.30 40.03 L318.12 38.79 L317.92 37.56 L317.70 36.33 L317.46 35.11 L317.19 33.89 L316.90 32.68 L316.59 31.48 L316.26 30.27 L315.90 29.08 L315.52 27.89 L315.12 26.71 L314.70 25.53 L314.25 24.36 L313.77 23.19 L313.26 22.04 L312.71 20.89 L312.09 19.76 L311.16 18.71Z" fill="#8e8e8e"/>
<path d="M311.16 18.71 L312.09 19.76 L312.71 20.89 L313.26 22.04 L313.77 23.19 L314.25 24.36 L314.70 25.53 L315.12 26.71 L315.52 27.89 L315.90 29.08 L316.26 30.27 L316.59 31.48 L316.90 32.68 L317.19 33.89 L317.46 35.11 L317.70 36.33 L317.92 37.56 L318.12 38.79 L318.30 40.03 L318.45 41.28 L318.57 42.53 L318.66 43.79 L318.71 45.06 L318.69 46.35 L318.36 47.71" fill="none" stroke="#6a6a6a" stroke-width="0.8"/>
<path d="M308.84 19.29 L308.51 20.65 L308.49 21.94 L308.54 23.21 L308.63 24.47 L308.75 25.72 L308.90 26.97 L309.08 28.21 L309.28 29.44 L309.50 30.67 L309.74 31.89 L310.01 33.11 L310.30 34.32 L310.61 35.52 L310.94 36.73 L311.30 37.92 L311.68 39.11 L312.08 40.29 L312.50 41.47 L312.95 42.64 L313.43 43.81 L313.94 44.96 L314.49 46.11 L315.11 47.24 L316.04 48.29" fill="none" stroke="#b4b4b4" stroke-width="0.9"/>
<path d="M205.00 32.60 C206.25 32.90 207.77 33.13 212.50 34.40 C217.23 35.67 226.73 38.33 233.40 40.20 C240.07 42.07 245.57 43.13 252.50 45.60 C259.43 48.07 268.07 51.77 275.00 55.00 C281.93 58.23 288.17 61.80 294.10 65.00 C300.03 68.20 305.73 70.90 310.60 74.20 C315.47 77.50 319.90 80.83 323.30 84.80 C326.70 88.77 329.18 94.07 331.00 98.00 C332.82 101.93 333.45 105.57 334.20 108.40 C334.95 111.23 335.28 113.90 335.50 115.00" fill="none" stroke="#4a4a4a" stroke-width="2.2" transform="translate(0.6 1.6)"/>
<path d="M205.00 32.60 C206.25 32.90 207.77 33.13 212.50 34.40 C217.23 35.67 226.73 38.33 233.40 40.20 C240.07 42.07 245.57 43.13 252.50 45.60 C259.43 48.07 268.07 51.77 275.00 55.00 C281.93 58.23 288.17 61.80 294.10 65.00 C300.03 68.20 305.73 70.90 310.60 74.20 C315.47 77.50 319.90 80.83 323.30 84.80 C326.70 88.77 329.18 94.07 331.00 98.00 C332.82 101.93 333.45 105.57 334.20 108.40 C334.95 111.23 335.28 113.90 335.50 115.00" fill="none" stroke="#b4b4b4" stroke-width="3.0"/>
<path d="M205.00 32.60 C206.25 32.90 207.77 33.13 212.50 34.40 C217.23 35.67 226.73 38.33 233.40 40.20 C240.07 42.07 245.57 43.13 252.50 45.60 C259.43 48.07 268.07 51.77 275.00 55.00 C281.93 58.23 288.17 61.80 294.10 65.00 C300.03 68.20 305.73 70.90 310.60 74.20 C315.47 77.50 319.90 80.83 323.30 84.80 C326.70 88.77 329.18 94.07 331.00 98.00 C332.82 101.93 333.45 105.57 334.20 108.40 C334.95 111.23 335.28 113.90 335.50 115.00" fill="none" stroke="#959595" stroke-width="0.7"/>
</g>
<rect x="210.9" y="3.6" width="133.0" height="106.2" fill="none" stroke="#f08080" stroke-width="1.2" stroke-dasharray="3.4 2.6"/>
<rect x="214.1" y="20.8" width="38.2" height="34.4" fill="none" stroke="#2f9a2f" stroke-width="1.1" stroke-dasharray="3.6 2.4"/>
<line x1="214.10" y1="55.20" x2="214.10" y2="110.00" stroke="#2f9a2f" stroke-width="1.1" stroke-dasharray="3.6 2.4"/>
<line x1="252.30" y1="55.20" x2="343.60" y2="113.00" stroke="#2f9a2f" stroke-width="1.1" stroke-dasharray="3.6 2.4"/>
<text x="234.00" y="19.20" font-size="8.8" fill="#f4f4f4" textLength="55.0" lengthAdjust="spacingAndGlyphs" >Si waveguide</text>
<line x1="263.00" y1="24.40" x2="273.45" y2="29.59" stroke="#f4f4f4" stroke-width="1.7" />
<path d="M277.30 31.50L271.71 31.96L274.29 26.77Z" fill="#f4f4f4"/>
<text x="252.90" y="88.60" font-size="8.8" fill="#f4f4f4" textLength="36.1" lengthAdjust="spacingAndGlyphs" >InGaAsP</text>
<text x="252.90" y="99.20" font-size="8.8" fill="#f4f4f4" textLength="44.1" lengthAdjust="spacingAndGlyphs" >waveguide</text>
<line x1="276.40" y1="77.00" x2="270.29" y2="60.53" stroke="#f4f4f4" stroke-width="1.7" />
<path d="M268.80 56.50L273.19 59.99L267.75 62.01Z" fill="#f4f4f4"/>
<rect x="218.2" y="91.6" width="21.6" height="3.3" fill="#fff"/>
<text x="218.40" y="104.40" font-size="8.8" fill="#f4f4f4" textLength="20.6" lengthAdjust="spacingAndGlyphs" >5 µm</text>
<clipPath id="clipbr"><rect x="212.0" y="115.0" width="131.2" height="104.19999999999999"/></clipPath>
<defs><linearGradient id="brg" gradientUnits="userSpaceOnUse" x1="0" y1="115" x2="0" y2="219.2"><stop offset="0" stop-color="#919191"/><stop offset="0.072" stop-color="#939393"/><stop offset="0.080" stop-color="#a2a2a2"/><stop offset="0.092" stop-color="#606060"/><stop offset="0.125" stop-color="#575757"/><stop offset="0.158" stop-color="#4a4a4a"/><stop offset="0.169" stop-color="#464646"/><stop offset="0.178" stop-color="#848484"/><stop offset="0.2" stop-color="#8a8a8a"/><stop offset="0.38" stop-color="#8c8c8c"/><stop offset="0.55" stop-color="#7a7a7a"/><stop offset="0.73" stop-color="#777777"/><stop offset="0.745" stop-color="#8a8a8a"/><stop offset="1" stop-color="#8a8a8a"/></linearGradient></defs>
<g clip-path="url(#clipbr)">
<rect x="212.0" y="115.0" width="131.2" height="104.19999999999999" fill="url(#brg)"/>
<rect x="212" y="190.6" width="125" height="1.8" fill="#a6a6a6"/>
<path d="M255 157.2 L350 157.2 L350 164.0 L275 164.0 Z" fill="#7b8a6e"/>
<path d="M282 163.6 L350 163.6 L350 167.0 L292 167.0 Z" fill="#4a2f62"/>
<path d="M238 155.2 L350 155.2 L350 157.6 L238 157.6 Z" fill="#b8b8b8"/>
<path d="M212 164.5 L245 168.5 L250 171 L212 169 Z" fill="#55505f"/>
<path d="M200.00 153.30 C202.00 153.38 205.33 153.30 212.00 153.80 C218.67 154.30 229.50 154.70 240.00 156.30 C250.50 157.90 265.00 161.15 275.00 163.40 C285.00 165.65 288.67 166.40 300.00 169.80 C311.33 173.20 333.83 180.80 343.00 183.80 C352.17 186.80 353.00 187.13 355.00 187.80 L355 194.5 C353.00 193.85 352.17 193.55 343.00 190.60 C333.83 187.65 311.33 180.13 300.00 176.80 C288.67 173.47 285.00 172.75 275.00 170.60 C265.00 168.45 250.50 165.53 240.00 163.90 C229.50 162.27 218.67 161.42 212.00 160.80 C205.33 160.18 202.00 160.30 200.00 160.20 Z" fill="#aeaeae"/>
<path d="M200.00 153.30 C202.00 153.38 205.33 153.30 212.00 153.80 C218.67 154.30 229.50 154.70 240.00 156.30 C250.50 157.90 265.00 161.15 275.00 163.40 C285.00 165.65 288.67 166.40 300.00 169.80 C311.33 173.20 333.83 180.80 343.00 183.80 C352.17 186.80 353.00 187.13 355.00 187.80" fill="none" stroke="#d2d2d2" stroke-width="2.2"/>
<path d="M200.00 162.40 C202.00 162.50 205.33 162.38 212.00 163.00 C218.67 163.62 229.50 164.47 240.00 166.10 C250.50 167.73 265.00 170.65 275.00 172.80 C285.00 174.95 288.67 175.67 300.00 179.00 C311.33 182.33 333.83 189.85 343.00 192.80 C352.17 195.75 353.00 196.05 355.00 196.70" fill="none" stroke="#7189bf" stroke-width="2.4"/>
<path d="M200.00 160.20 C202.00 160.30 205.33 160.18 212.00 160.80 C218.67 161.42 229.50 162.27 240.00 163.90 C250.50 165.53 265.00 168.45 275.00 170.60 C285.00 172.75 288.67 173.47 300.00 176.80 C311.33 180.13 333.83 187.65 343.00 190.60 C352.17 193.55 353.00 193.85 355.00 194.50" fill="none" stroke="#d88c8c" stroke-width="1.2"/>
</g>
<rect x="211.2" y="113.8" width="132.8" height="106.6" fill="none" stroke="#5fc25f" stroke-width="1.3" stroke-dasharray="3.4 2.6"/>
<text x="298.5" y="139.8" font-size="8.8" fill="#f4f4f4">SiO<tspan font-size="6" dy="2.2">2</tspan></text>
<line x1="318.30" y1="141.00" x2="333.19" y2="145.54" stroke="#f4f4f4" stroke-width="1.7" />
<path d="M337.30 146.80L331.86 148.17L333.56 142.62Z" fill="#f4f4f4"/>
<line x1="313.80" y1="145.50" x2="328.39" y2="158.54" stroke="#f4f4f4" stroke-width="1.7" />
<path d="M331.60 161.40L326.09 160.37L329.95 156.04Z" fill="#f4f4f4"/>
<text x="285.80" y="151.90" font-size="8.8" fill="#f4f4f4" >Si</text>
<line x1="294.00" y1="152.50" x2="315.08" y2="163.33" stroke="#f4f4f4" stroke-width="1.7" />
<path d="M318.90 165.30L313.31 165.68L315.96 160.53Z" fill="#f4f4f4"/>
<text x="221.60" y="181.10" font-size="8.8" fill="#f4f4f4" textLength="34.6" lengthAdjust="spacingAndGlyphs" >InGaAsP</text>
<line x1="260.30" y1="178.30" x2="272.52" y2="174.25" stroke="#f4f4f4" stroke-width="1.7" />
<path d="M276.60 172.90L272.96 177.16L271.13 171.66Z" fill="#f4f4f4"/>
<text x="225.60" y="197.00" font-size="8.8" fill="#f4f4f4" textLength="55.8" lengthAdjust="spacingAndGlyphs" >E-beam resist</text>
<line x1="283.80" y1="191.20" x2="298.15" y2="179.69" stroke="#f4f4f4" stroke-width="1.7" />
<path d="M301.50 177.00L299.57 182.27L295.94 177.74Z" fill="#f4f4f4"/>
<rect x="218.2" y="201.0" width="16.7" height="3.2" fill="#fff"/>
<text x="217.60" y="214.30" font-size="8.8" fill="#f4f4f4" textLength="18.4" lengthAdjust="spacingAndGlyphs" >1 µm</text>
</svg></body></html>
